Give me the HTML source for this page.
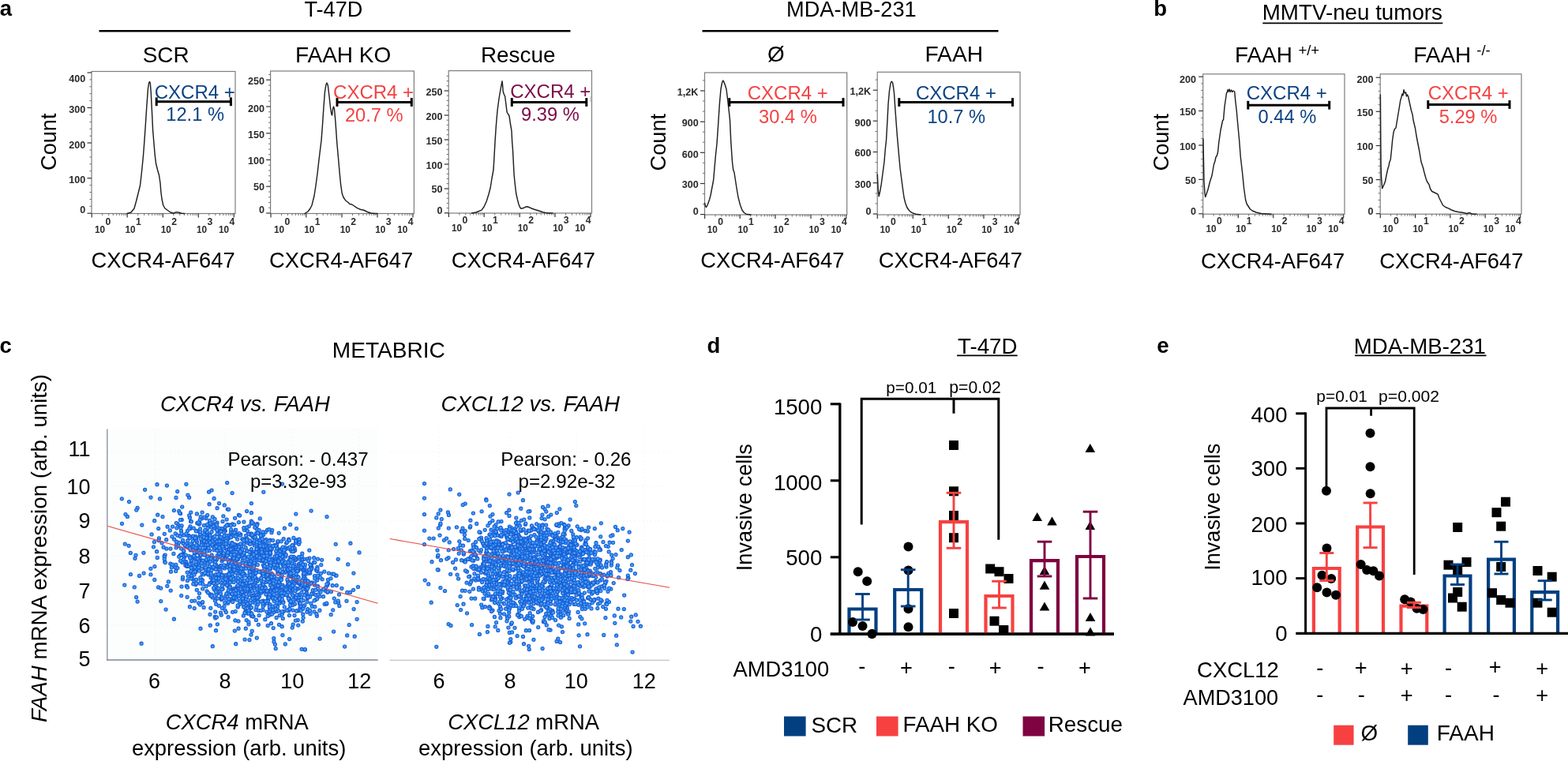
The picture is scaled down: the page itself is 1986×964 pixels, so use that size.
<!DOCTYPE html>
<html lang="en"><head><meta charset="utf-8"><title>Figure</title>
<style>
html,body{margin:0;padding:0;background:#fff;}
body{width:1986px;height:964px;overflow:hidden;}
svg{display:block;font-family:"Liberation Sans", Arial, sans-serif;}
</style></head><body>
<svg width="1986" height="964" viewBox="0 0 1986 964">
<rect width="1986" height="964" fill="#fff"/>
<text x="-0.15" y="20" font-size="27.5" font-weight="bold">a</text>
<text x="385.38" y="20.5" font-size="27.2">T-47D</text>
<line x1="125.5" y1="39.2" x2="722.5" y2="39.2" stroke="#000" stroke-width="2.6"/>
<text x="180.75" y="79.2" font-size="27.9">SCR</text>
<text x="373.95" y="79.2" font-size="28.0">FAAH KO</text>
<text x="608.95" y="79.2" font-size="27.9">Rescue</text>
<text x="996.05" y="21.2" font-size="27.2">MDA-MB-231</text>
<line x1="889.5" y1="39.2" x2="1264.5" y2="39.2" stroke="#000" stroke-width="2.6"/>
<text x="972.0" y="78.3" font-size="27.8">Ø</text>
<text x="1171.45" y="78.2" font-size="28.2">FAAH</text>
<text x="1461.25" y="20" font-size="27.5" font-weight="bold">b</text>
<text x="1598.75" y="25" font-size="27.75">MMTV-neu tumors</text>
<line x1="1599.3" y1="29.3" x2="1827.3" y2="29.3" stroke="#000" stroke-width="1.8"/>
<text x="1563.95" y="78.7" font-size="27.9">FAAH</text>
<text x="1644.42" y="70.3" font-size="18.5">+/+</text>
<text x="1790.35" y="78.7" font-size="27.9">FAAH</text>
<text x="1870.25" y="70.3" font-size="18.5">-/-</text>
<text transform="translate(70.5,216) rotate(-90)" font-size="27.2">Count</text>
<text transform="translate(843.4,216.4) rotate(-90)" font-size="27.2">Count</text>
<text transform="translate(1480.3,216.5) rotate(-90)" font-size="27.2">Count</text>
<rect x="116" y="90.5" width="182" height="180.0" fill="none" stroke="#7d7d7d" stroke-width="1.2"/>
<line x1="110.5" y1="92" x2="116" y2="92" stroke="#333" stroke-width="1.2"/>
<text x="87.3" y="104.1" font-size="12.6" font-weight="bold" fill="#2a2a2a">400</text>
<line x1="110.5" y1="136.5" x2="116" y2="136.5" stroke="#333" stroke-width="1.2"/>
<text x="87.3" y="142.79999999999998" font-size="12.6" font-weight="bold" fill="#2a2a2a">300</text>
<line x1="110.5" y1="181" x2="116" y2="181" stroke="#333" stroke-width="1.2"/>
<text x="87.3" y="187.79999999999998" font-size="12.6" font-weight="bold" fill="#2a2a2a">200</text>
<line x1="110.5" y1="225.7" x2="116" y2="225.7" stroke="#333" stroke-width="1.2"/>
<text x="87.3" y="232.1" font-size="12.6" font-weight="bold" fill="#2a2a2a">100</text>
<line x1="110.5" y1="270.2" x2="116" y2="270.2" stroke="#333" stroke-width="1.2"/>
<text x="101.3" y="270.3" font-size="12.6" font-weight="bold" fill="#2a2a2a">0</text>
<line x1="113.4" y1="261.3" x2="116" y2="261.3" stroke="#666" stroke-width="0.9"/>
<line x1="113.4" y1="252.4" x2="116" y2="252.4" stroke="#666" stroke-width="0.9"/>
<line x1="113.4" y1="243.5" x2="116" y2="243.5" stroke="#666" stroke-width="0.9"/>
<line x1="113.4" y1="234.6" x2="116" y2="234.6" stroke="#666" stroke-width="0.9"/>
<line x1="113.4" y1="216.7" x2="116" y2="216.7" stroke="#666" stroke-width="0.9"/>
<line x1="113.4" y1="207.8" x2="116" y2="207.8" stroke="#666" stroke-width="0.9"/>
<line x1="113.4" y1="198.9" x2="116" y2="198.9" stroke="#666" stroke-width="0.9"/>
<line x1="113.4" y1="190.0" x2="116" y2="190.0" stroke="#666" stroke-width="0.9"/>
<line x1="113.4" y1="172.2" x2="116" y2="172.2" stroke="#666" stroke-width="0.9"/>
<line x1="113.4" y1="163.3" x2="116" y2="163.3" stroke="#666" stroke-width="0.9"/>
<line x1="113.4" y1="154.4" x2="116" y2="154.4" stroke="#666" stroke-width="0.9"/>
<line x1="113.4" y1="145.5" x2="116" y2="145.5" stroke="#666" stroke-width="0.9"/>
<line x1="113.4" y1="127.6" x2="116" y2="127.6" stroke="#666" stroke-width="0.9"/>
<line x1="113.4" y1="118.7" x2="116" y2="118.7" stroke="#666" stroke-width="0.9"/>
<line x1="113.4" y1="109.8" x2="116" y2="109.8" stroke="#666" stroke-width="0.9"/>
<line x1="113.4" y1="100.9" x2="116" y2="100.9" stroke="#666" stroke-width="0.9"/>
<line x1="116.2" y1="270.5" x2="116.2" y2="275.5" stroke="#333" stroke-width="1.2"/>
<line x1="129.7" y1="270.5" x2="129.7" y2="273.1" stroke="#555" stroke-width="0.8"/>
<line x1="137.7" y1="270.5" x2="137.7" y2="273.1" stroke="#555" stroke-width="0.8"/>
<line x1="143.3" y1="270.5" x2="143.3" y2="273.1" stroke="#555" stroke-width="0.8"/>
<line x1="147.7" y1="270.5" x2="147.7" y2="273.1" stroke="#555" stroke-width="0.8"/>
<line x1="151.2" y1="270.5" x2="151.2" y2="273.1" stroke="#555" stroke-width="0.8"/>
<line x1="154.2" y1="270.5" x2="154.2" y2="273.1" stroke="#555" stroke-width="0.8"/>
<line x1="156.8" y1="270.5" x2="156.8" y2="273.1" stroke="#555" stroke-width="0.8"/>
<line x1="159.1" y1="270.5" x2="159.1" y2="273.1" stroke="#555" stroke-width="0.8"/>
<line x1="161.2" y1="270.5" x2="161.2" y2="275.5" stroke="#333" stroke-width="1.2"/>
<line x1="174.7" y1="270.5" x2="174.7" y2="273.1" stroke="#555" stroke-width="0.8"/>
<line x1="182.7" y1="270.5" x2="182.7" y2="273.1" stroke="#555" stroke-width="0.8"/>
<line x1="188.3" y1="270.5" x2="188.3" y2="273.1" stroke="#555" stroke-width="0.8"/>
<line x1="192.7" y1="270.5" x2="192.7" y2="273.1" stroke="#555" stroke-width="0.8"/>
<line x1="196.2" y1="270.5" x2="196.2" y2="273.1" stroke="#555" stroke-width="0.8"/>
<line x1="199.2" y1="270.5" x2="199.2" y2="273.1" stroke="#555" stroke-width="0.8"/>
<line x1="201.8" y1="270.5" x2="201.8" y2="273.1" stroke="#555" stroke-width="0.8"/>
<line x1="204.1" y1="270.5" x2="204.1" y2="273.1" stroke="#555" stroke-width="0.8"/>
<line x1="206.3" y1="270.5" x2="206.3" y2="275.5" stroke="#333" stroke-width="1.2"/>
<line x1="219.8" y1="270.5" x2="219.8" y2="273.1" stroke="#555" stroke-width="0.8"/>
<line x1="227.8" y1="270.5" x2="227.8" y2="273.1" stroke="#555" stroke-width="0.8"/>
<line x1="233.4" y1="270.5" x2="233.4" y2="273.1" stroke="#555" stroke-width="0.8"/>
<line x1="237.8" y1="270.5" x2="237.8" y2="273.1" stroke="#555" stroke-width="0.8"/>
<line x1="241.3" y1="270.5" x2="241.3" y2="273.1" stroke="#555" stroke-width="0.8"/>
<line x1="244.3" y1="270.5" x2="244.3" y2="273.1" stroke="#555" stroke-width="0.8"/>
<line x1="246.9" y1="270.5" x2="246.9" y2="273.1" stroke="#555" stroke-width="0.8"/>
<line x1="249.2" y1="270.5" x2="249.2" y2="273.1" stroke="#555" stroke-width="0.8"/>
<line x1="251.3" y1="270.5" x2="251.3" y2="275.5" stroke="#333" stroke-width="1.2"/>
<line x1="264.8" y1="270.5" x2="264.8" y2="273.1" stroke="#555" stroke-width="0.8"/>
<line x1="272.8" y1="270.5" x2="272.8" y2="273.1" stroke="#555" stroke-width="0.8"/>
<line x1="278.4" y1="270.5" x2="278.4" y2="273.1" stroke="#555" stroke-width="0.8"/>
<line x1="282.8" y1="270.5" x2="282.8" y2="273.1" stroke="#555" stroke-width="0.8"/>
<line x1="286.3" y1="270.5" x2="286.3" y2="273.1" stroke="#555" stroke-width="0.8"/>
<line x1="289.3" y1="270.5" x2="289.3" y2="273.1" stroke="#555" stroke-width="0.8"/>
<line x1="291.9" y1="270.5" x2="291.9" y2="273.1" stroke="#555" stroke-width="0.8"/>
<line x1="294.2" y1="270.5" x2="294.2" y2="273.1" stroke="#555" stroke-width="0.8"/>
<line x1="296.3" y1="270.5" x2="296.3" y2="275.5" stroke="#333" stroke-width="1.2"/>
<text x="120.0" y="295.0" font-size="12.8" font-weight="bold" fill="#2a2a2a" textLength="13.1" lengthAdjust="spacingAndGlyphs">10</text>
<text x="133.5" y="285.1" font-size="12.2" font-weight="bold" fill="#2a2a2a">0</text>
<text x="158.5" y="295.0" font-size="12.8" font-weight="bold" fill="#2a2a2a" textLength="13.1" lengthAdjust="spacingAndGlyphs">10</text>
<text x="172.0" y="285.1" font-size="12.2" font-weight="bold" fill="#2a2a2a">1</text>
<text x="203.7" y="295.0" font-size="12.8" font-weight="bold" fill="#2a2a2a" textLength="13.1" lengthAdjust="spacingAndGlyphs">10</text>
<text x="217.2" y="285.1" font-size="12.2" font-weight="bold" fill="#2a2a2a">2</text>
<text x="248.9" y="295.0" font-size="12.8" font-weight="bold" fill="#2a2a2a" textLength="13.1" lengthAdjust="spacingAndGlyphs">10</text>
<text x="262.4" y="285.1" font-size="12.2" font-weight="bold" fill="#2a2a2a">3</text>
<text x="276.9" y="295.0" font-size="12.8" font-weight="bold" fill="#2a2a2a" textLength="13.1" lengthAdjust="spacingAndGlyphs">10</text>
<text x="290.4" y="285.1" font-size="12.2" font-weight="bold" fill="#2a2a2a">4</text>
<polyline points="161.0,270.5 166.0,269.0 170.0,264.0 172.5,255.0 175.0,245.0 177.5,235.0 179.0,222.0 180.0,212.5 181.5,197.0 182.8,180.0 184.2,160.0 185.8,135.0 187.4,113.0 188.6,105.0 189.4,103.6 190.3,105.0 191.3,118.0 192.5,142.0 193.6,165.0 195.0,182.0 196.2,196.0 197.5,207.0 199.5,215.0 201.5,222.0 203.0,232.0 203.8,242.5 205.0,252.0 206.7,260.0 209.0,264.0 212.5,266.5 216.0,269.0 220.0,270.2 222.0,269.0 224.0,268.6 227.0,269.2 230.0,270.3 233.7,270.5" fill="none" stroke="#202020" stroke-width="1.45" stroke-linejoin="round" stroke-linecap="round"/>
<line x1="198.2" y1="128.8" x2="292.4" y2="128.8" stroke="#000" stroke-width="3.1"/>
<line x1="198.2" y1="123.4" x2="198.2" y2="134.20000000000002" stroke="#000" stroke-width="3"/>
<line x1="292.4" y1="123.4" x2="292.4" y2="134.20000000000002" stroke="#000" stroke-width="3"/>
<text x="195.75" y="124.6" font-size="24" fill="#0b4283">CXCR4 +</text>
<text x="210.25" y="153.2" font-size="23.7" fill="#0b4283">12.1 %</text>
<text x="115.62" y="339.2" font-size="27.3">CXCR4-AF647</text>
<rect x="342.6" y="90" width="181.79999999999995" height="180.5" fill="none" stroke="#7d7d7d" stroke-width="1.2"/>
<line x1="337.1" y1="101.2" x2="342.6" y2="101.2" stroke="#333" stroke-width="1.2"/>
<text x="313.9" y="107.1" font-size="12.6" font-weight="bold" fill="#2a2a2a">250</text>
<line x1="337.1" y1="135" x2="342.6" y2="135" stroke="#333" stroke-width="1.2"/>
<text x="313.9" y="141.6" font-size="12.6" font-weight="bold" fill="#2a2a2a">200</text>
<line x1="337.1" y1="168.8" x2="342.6" y2="168.8" stroke="#333" stroke-width="1.2"/>
<text x="313.9" y="175.29999999999998" font-size="12.6" font-weight="bold" fill="#2a2a2a">150</text>
<line x1="337.1" y1="202.5" x2="342.6" y2="202.5" stroke="#333" stroke-width="1.2"/>
<text x="313.9" y="208.29999999999998" font-size="12.6" font-weight="bold" fill="#2a2a2a">100</text>
<line x1="337.1" y1="236.2" x2="342.6" y2="236.2" stroke="#333" stroke-width="1.2"/>
<text x="320.9" y="241.1" font-size="12.6" font-weight="bold" fill="#2a2a2a">50</text>
<line x1="337.1" y1="270" x2="342.6" y2="270" stroke="#333" stroke-width="1.2"/>
<text x="327.9" y="270.3" font-size="12.6" font-weight="bold" fill="#2a2a2a">0</text>
<line x1="340.0" y1="263.2" x2="342.6" y2="263.2" stroke="#666" stroke-width="0.9"/>
<line x1="340.0" y1="256.5" x2="342.6" y2="256.5" stroke="#666" stroke-width="0.9"/>
<line x1="340.0" y1="249.7" x2="342.6" y2="249.7" stroke="#666" stroke-width="0.9"/>
<line x1="340.0" y1="243.0" x2="342.6" y2="243.0" stroke="#666" stroke-width="0.9"/>
<line x1="340.0" y1="229.5" x2="342.6" y2="229.5" stroke="#666" stroke-width="0.9"/>
<line x1="340.0" y1="222.7" x2="342.6" y2="222.7" stroke="#666" stroke-width="0.9"/>
<line x1="340.0" y1="216.0" x2="342.6" y2="216.0" stroke="#666" stroke-width="0.9"/>
<line x1="340.0" y1="209.2" x2="342.6" y2="209.2" stroke="#666" stroke-width="0.9"/>
<line x1="340.0" y1="195.7" x2="342.6" y2="195.7" stroke="#666" stroke-width="0.9"/>
<line x1="340.0" y1="189.0" x2="342.6" y2="189.0" stroke="#666" stroke-width="0.9"/>
<line x1="340.0" y1="182.2" x2="342.6" y2="182.2" stroke="#666" stroke-width="0.9"/>
<line x1="340.0" y1="175.5" x2="342.6" y2="175.5" stroke="#666" stroke-width="0.9"/>
<line x1="340.0" y1="162.0" x2="342.6" y2="162.0" stroke="#666" stroke-width="0.9"/>
<line x1="340.0" y1="155.2" x2="342.6" y2="155.2" stroke="#666" stroke-width="0.9"/>
<line x1="340.0" y1="148.5" x2="342.6" y2="148.5" stroke="#666" stroke-width="0.9"/>
<line x1="340.0" y1="141.7" x2="342.6" y2="141.7" stroke="#666" stroke-width="0.9"/>
<line x1="340.0" y1="128.2" x2="342.6" y2="128.2" stroke="#666" stroke-width="0.9"/>
<line x1="340.0" y1="121.5" x2="342.6" y2="121.5" stroke="#666" stroke-width="0.9"/>
<line x1="340.0" y1="114.7" x2="342.6" y2="114.7" stroke="#666" stroke-width="0.9"/>
<line x1="340.0" y1="108.0" x2="342.6" y2="108.0" stroke="#666" stroke-width="0.9"/>
<line x1="340.0" y1="94.4" x2="342.6" y2="94.4" stroke="#666" stroke-width="0.9"/>
<line x1="343" y1="270.5" x2="343" y2="275.5" stroke="#333" stroke-width="1.2"/>
<line x1="356.5" y1="270.5" x2="356.5" y2="273.1" stroke="#555" stroke-width="0.8"/>
<line x1="364.4" y1="270.5" x2="364.4" y2="273.1" stroke="#555" stroke-width="0.8"/>
<line x1="370.0" y1="270.5" x2="370.0" y2="273.1" stroke="#555" stroke-width="0.8"/>
<line x1="374.3" y1="270.5" x2="374.3" y2="273.1" stroke="#555" stroke-width="0.8"/>
<line x1="377.9" y1="270.5" x2="377.9" y2="273.1" stroke="#555" stroke-width="0.8"/>
<line x1="380.9" y1="270.5" x2="380.9" y2="273.1" stroke="#555" stroke-width="0.8"/>
<line x1="383.5" y1="270.5" x2="383.5" y2="273.1" stroke="#555" stroke-width="0.8"/>
<line x1="385.8" y1="270.5" x2="385.8" y2="273.1" stroke="#555" stroke-width="0.8"/>
<line x1="387.8" y1="270.5" x2="387.8" y2="275.5" stroke="#333" stroke-width="1.2"/>
<line x1="401.3" y1="270.5" x2="401.3" y2="273.1" stroke="#555" stroke-width="0.8"/>
<line x1="409.2" y1="270.5" x2="409.2" y2="273.1" stroke="#555" stroke-width="0.8"/>
<line x1="414.8" y1="270.5" x2="414.8" y2="273.1" stroke="#555" stroke-width="0.8"/>
<line x1="419.1" y1="270.5" x2="419.1" y2="273.1" stroke="#555" stroke-width="0.8"/>
<line x1="422.7" y1="270.5" x2="422.7" y2="273.1" stroke="#555" stroke-width="0.8"/>
<line x1="425.7" y1="270.5" x2="425.7" y2="273.1" stroke="#555" stroke-width="0.8"/>
<line x1="428.3" y1="270.5" x2="428.3" y2="273.1" stroke="#555" stroke-width="0.8"/>
<line x1="430.6" y1="270.5" x2="430.6" y2="273.1" stroke="#555" stroke-width="0.8"/>
<line x1="433" y1="270.5" x2="433" y2="275.5" stroke="#333" stroke-width="1.2"/>
<line x1="446.5" y1="270.5" x2="446.5" y2="273.1" stroke="#555" stroke-width="0.8"/>
<line x1="454.4" y1="270.5" x2="454.4" y2="273.1" stroke="#555" stroke-width="0.8"/>
<line x1="460.0" y1="270.5" x2="460.0" y2="273.1" stroke="#555" stroke-width="0.8"/>
<line x1="464.3" y1="270.5" x2="464.3" y2="273.1" stroke="#555" stroke-width="0.8"/>
<line x1="467.9" y1="270.5" x2="467.9" y2="273.1" stroke="#555" stroke-width="0.8"/>
<line x1="470.9" y1="270.5" x2="470.9" y2="273.1" stroke="#555" stroke-width="0.8"/>
<line x1="473.5" y1="270.5" x2="473.5" y2="273.1" stroke="#555" stroke-width="0.8"/>
<line x1="475.8" y1="270.5" x2="475.8" y2="273.1" stroke="#555" stroke-width="0.8"/>
<line x1="478" y1="270.5" x2="478" y2="275.5" stroke="#333" stroke-width="1.2"/>
<line x1="491.5" y1="270.5" x2="491.5" y2="273.1" stroke="#555" stroke-width="0.8"/>
<line x1="499.4" y1="270.5" x2="499.4" y2="273.1" stroke="#555" stroke-width="0.8"/>
<line x1="505.0" y1="270.5" x2="505.0" y2="273.1" stroke="#555" stroke-width="0.8"/>
<line x1="509.3" y1="270.5" x2="509.3" y2="273.1" stroke="#555" stroke-width="0.8"/>
<line x1="512.9" y1="270.5" x2="512.9" y2="273.1" stroke="#555" stroke-width="0.8"/>
<line x1="515.9" y1="270.5" x2="515.9" y2="273.1" stroke="#555" stroke-width="0.8"/>
<line x1="518.5" y1="270.5" x2="518.5" y2="273.1" stroke="#555" stroke-width="0.8"/>
<line x1="520.8" y1="270.5" x2="520.8" y2="273.1" stroke="#555" stroke-width="0.8"/>
<line x1="523" y1="270.5" x2="523" y2="275.5" stroke="#333" stroke-width="1.2"/>
<text x="347.0" y="295.0" font-size="12.8" font-weight="bold" fill="#2a2a2a" textLength="13.1" lengthAdjust="spacingAndGlyphs">10</text>
<text x="360.5" y="285.1" font-size="12.2" font-weight="bold" fill="#2a2a2a">0</text>
<text x="385.2" y="295.0" font-size="12.8" font-weight="bold" fill="#2a2a2a" textLength="13.1" lengthAdjust="spacingAndGlyphs">10</text>
<text x="398.7" y="285.1" font-size="12.2" font-weight="bold" fill="#2a2a2a">1</text>
<text x="430.7" y="295.0" font-size="12.8" font-weight="bold" fill="#2a2a2a" textLength="13.1" lengthAdjust="spacingAndGlyphs">10</text>
<text x="444.2" y="285.1" font-size="12.2" font-weight="bold" fill="#2a2a2a">2</text>
<text x="475.2" y="295.0" font-size="12.8" font-weight="bold" fill="#2a2a2a" textLength="13.1" lengthAdjust="spacingAndGlyphs">10</text>
<text x="488.7" y="285.1" font-size="12.2" font-weight="bold" fill="#2a2a2a">3</text>
<text x="503.2" y="295.0" font-size="12.8" font-weight="bold" fill="#2a2a2a" textLength="13.1" lengthAdjust="spacingAndGlyphs">10</text>
<text x="516.7" y="285.1" font-size="12.2" font-weight="bold" fill="#2a2a2a">4</text>
<polyline points="386.0,270.5 390.0,268.0 393.0,264.0 395.0,260.0 398.0,248.0 400.0,235.0 402.0,220.0 403.7,205.0 405.5,190.0 407.0,178.0 408.5,158.0 410.0,135.0 411.5,116.0 413.0,107.0 414.0,105.0 415.3,108.0 417.0,122.0 418.5,136.0 419.8,144.5 420.6,146.0 421.5,138.5 422.5,135.0 423.5,138.0 425.0,155.0 426.7,180.0 428.5,200.0 430.0,217.5 431.5,233.0 433.2,245.0 435.0,250.0 437.5,253.7 441.0,256.5 443.0,258.5 445.0,258.7 448.0,260.5 452.5,263.7 457.0,265.5 460.0,266.0 462.5,267.0 466.0,268.8 470.0,270.0 475.0,270.5 478.0,270.5" fill="none" stroke="#202020" stroke-width="1.45" stroke-linejoin="round" stroke-linecap="round"/>
<line x1="427" y1="129.5" x2="521.3" y2="129.5" stroke="#000" stroke-width="3.1"/>
<line x1="427" y1="124.1" x2="427" y2="134.9" stroke="#000" stroke-width="3"/>
<line x1="521.3" y1="124.1" x2="521.3" y2="134.9" stroke="#000" stroke-width="3"/>
<text x="422.05" y="125.2" font-size="24" fill="#f44343">CXCR4 +</text>
<text x="436.88" y="154.2" font-size="23.7" fill="#f44343">20.7 %</text>
<text x="341.12" y="339.2" font-size="27.3">CXCR4-AF647</text>
<rect x="568.2" y="89.6" width="181.29999999999995" height="180.4" fill="none" stroke="#7d7d7d" stroke-width="1.2"/>
<line x1="562.7" y1="115" x2="568.2" y2="115" stroke="#333" stroke-width="1.2"/>
<text x="539.5" y="121.3" font-size="12.6" font-weight="bold" fill="#2a2a2a">250</text>
<line x1="562.7" y1="146" x2="568.2" y2="146" stroke="#333" stroke-width="1.2"/>
<text x="539.5" y="152.1" font-size="12.6" font-weight="bold" fill="#2a2a2a">200</text>
<line x1="562.7" y1="177" x2="568.2" y2="177" stroke="#333" stroke-width="1.2"/>
<text x="539.5" y="183.29999999999998" font-size="12.6" font-weight="bold" fill="#2a2a2a">150</text>
<line x1="562.7" y1="208" x2="568.2" y2="208" stroke="#333" stroke-width="1.2"/>
<text x="539.5" y="213.79999999999998" font-size="12.6" font-weight="bold" fill="#2a2a2a">100</text>
<line x1="562.7" y1="239" x2="568.2" y2="239" stroke="#333" stroke-width="1.2"/>
<text x="546.5" y="244.2" font-size="12.6" font-weight="bold" fill="#2a2a2a">50</text>
<line x1="562.7" y1="269.8" x2="568.2" y2="269.8" stroke="#333" stroke-width="1.2"/>
<text x="553.5" y="270.8" font-size="12.6" font-weight="bold" fill="#2a2a2a">0</text>
<line x1="565.6" y1="263.6" x2="568.2" y2="263.6" stroke="#666" stroke-width="0.9"/>
<line x1="565.6" y1="257.4" x2="568.2" y2="257.4" stroke="#666" stroke-width="0.9"/>
<line x1="565.6" y1="251.2" x2="568.2" y2="251.2" stroke="#666" stroke-width="0.9"/>
<line x1="565.6" y1="245.0" x2="568.2" y2="245.0" stroke="#666" stroke-width="0.9"/>
<line x1="565.6" y1="232.6" x2="568.2" y2="232.6" stroke="#666" stroke-width="0.9"/>
<line x1="565.6" y1="226.5" x2="568.2" y2="226.5" stroke="#666" stroke-width="0.9"/>
<line x1="565.6" y1="220.3" x2="568.2" y2="220.3" stroke="#666" stroke-width="0.9"/>
<line x1="565.6" y1="214.1" x2="568.2" y2="214.1" stroke="#666" stroke-width="0.9"/>
<line x1="565.6" y1="201.7" x2="568.2" y2="201.7" stroke="#666" stroke-width="0.9"/>
<line x1="565.6" y1="195.5" x2="568.2" y2="195.5" stroke="#666" stroke-width="0.9"/>
<line x1="565.6" y1="189.3" x2="568.2" y2="189.3" stroke="#666" stroke-width="0.9"/>
<line x1="565.6" y1="183.1" x2="568.2" y2="183.1" stroke="#666" stroke-width="0.9"/>
<line x1="565.6" y1="170.7" x2="568.2" y2="170.7" stroke="#666" stroke-width="0.9"/>
<line x1="565.6" y1="164.5" x2="568.2" y2="164.5" stroke="#666" stroke-width="0.9"/>
<line x1="565.6" y1="158.3" x2="568.2" y2="158.3" stroke="#666" stroke-width="0.9"/>
<line x1="565.6" y1="152.2" x2="568.2" y2="152.2" stroke="#666" stroke-width="0.9"/>
<line x1="565.6" y1="139.8" x2="568.2" y2="139.8" stroke="#666" stroke-width="0.9"/>
<line x1="565.6" y1="133.6" x2="568.2" y2="133.6" stroke="#666" stroke-width="0.9"/>
<line x1="565.6" y1="127.4" x2="568.2" y2="127.4" stroke="#666" stroke-width="0.9"/>
<line x1="565.6" y1="121.2" x2="568.2" y2="121.2" stroke="#666" stroke-width="0.9"/>
<line x1="565.6" y1="108.8" x2="568.2" y2="108.8" stroke="#666" stroke-width="0.9"/>
<line x1="565.6" y1="102.6" x2="568.2" y2="102.6" stroke="#666" stroke-width="0.9"/>
<line x1="565.6" y1="96.4" x2="568.2" y2="96.4" stroke="#666" stroke-width="0.9"/>
<line x1="568.4" y1="270" x2="568.4" y2="275" stroke="#333" stroke-width="1.2"/>
<line x1="581.9" y1="270" x2="581.9" y2="272.6" stroke="#555" stroke-width="0.8"/>
<line x1="589.8" y1="270" x2="589.8" y2="272.6" stroke="#555" stroke-width="0.8"/>
<line x1="595.4" y1="270" x2="595.4" y2="272.6" stroke="#555" stroke-width="0.8"/>
<line x1="599.7" y1="270" x2="599.7" y2="272.6" stroke="#555" stroke-width="0.8"/>
<line x1="603.3" y1="270" x2="603.3" y2="272.6" stroke="#555" stroke-width="0.8"/>
<line x1="606.3" y1="270" x2="606.3" y2="272.6" stroke="#555" stroke-width="0.8"/>
<line x1="608.9" y1="270" x2="608.9" y2="272.6" stroke="#555" stroke-width="0.8"/>
<line x1="611.2" y1="270" x2="611.2" y2="272.6" stroke="#555" stroke-width="0.8"/>
<line x1="613.2" y1="270" x2="613.2" y2="275" stroke="#333" stroke-width="1.2"/>
<line x1="626.7" y1="270" x2="626.7" y2="272.6" stroke="#555" stroke-width="0.8"/>
<line x1="634.6" y1="270" x2="634.6" y2="272.6" stroke="#555" stroke-width="0.8"/>
<line x1="640.2" y1="270" x2="640.2" y2="272.6" stroke="#555" stroke-width="0.8"/>
<line x1="644.5" y1="270" x2="644.5" y2="272.6" stroke="#555" stroke-width="0.8"/>
<line x1="648.1" y1="270" x2="648.1" y2="272.6" stroke="#555" stroke-width="0.8"/>
<line x1="651.1" y1="270" x2="651.1" y2="272.6" stroke="#555" stroke-width="0.8"/>
<line x1="653.7" y1="270" x2="653.7" y2="272.6" stroke="#555" stroke-width="0.8"/>
<line x1="656.0" y1="270" x2="656.0" y2="272.6" stroke="#555" stroke-width="0.8"/>
<line x1="658.2" y1="270" x2="658.2" y2="275" stroke="#333" stroke-width="1.2"/>
<line x1="671.7" y1="270" x2="671.7" y2="272.6" stroke="#555" stroke-width="0.8"/>
<line x1="679.6" y1="270" x2="679.6" y2="272.6" stroke="#555" stroke-width="0.8"/>
<line x1="685.2" y1="270" x2="685.2" y2="272.6" stroke="#555" stroke-width="0.8"/>
<line x1="689.5" y1="270" x2="689.5" y2="272.6" stroke="#555" stroke-width="0.8"/>
<line x1="693.1" y1="270" x2="693.1" y2="272.6" stroke="#555" stroke-width="0.8"/>
<line x1="696.1" y1="270" x2="696.1" y2="272.6" stroke="#555" stroke-width="0.8"/>
<line x1="698.7" y1="270" x2="698.7" y2="272.6" stroke="#555" stroke-width="0.8"/>
<line x1="701.0" y1="270" x2="701.0" y2="272.6" stroke="#555" stroke-width="0.8"/>
<line x1="703" y1="270" x2="703" y2="275" stroke="#333" stroke-width="1.2"/>
<line x1="716.5" y1="270" x2="716.5" y2="272.6" stroke="#555" stroke-width="0.8"/>
<line x1="724.4" y1="270" x2="724.4" y2="272.6" stroke="#555" stroke-width="0.8"/>
<line x1="730.0" y1="270" x2="730.0" y2="272.6" stroke="#555" stroke-width="0.8"/>
<line x1="734.3" y1="270" x2="734.3" y2="272.6" stroke="#555" stroke-width="0.8"/>
<line x1="737.9" y1="270" x2="737.9" y2="272.6" stroke="#555" stroke-width="0.8"/>
<line x1="740.9" y1="270" x2="740.9" y2="272.6" stroke="#555" stroke-width="0.8"/>
<line x1="743.5" y1="270" x2="743.5" y2="272.6" stroke="#555" stroke-width="0.8"/>
<line x1="745.8" y1="270" x2="745.8" y2="272.6" stroke="#555" stroke-width="0.8"/>
<line x1="748" y1="270" x2="748" y2="275" stroke="#333" stroke-width="1.2"/>
<text x="571.9" y="293.3" font-size="12.8" font-weight="bold" fill="#2a2a2a" textLength="13.1" lengthAdjust="spacingAndGlyphs">10</text>
<text x="585.4" y="283.4" font-size="12.2" font-weight="bold" fill="#2a2a2a">0</text>
<text x="610.5" y="293.3" font-size="12.8" font-weight="bold" fill="#2a2a2a" textLength="13.1" lengthAdjust="spacingAndGlyphs">10</text>
<text x="624.0" y="283.4" font-size="12.2" font-weight="bold" fill="#2a2a2a">1</text>
<text x="655.7" y="293.3" font-size="12.8" font-weight="bold" fill="#2a2a2a" textLength="13.1" lengthAdjust="spacingAndGlyphs">10</text>
<text x="669.2" y="283.4" font-size="12.2" font-weight="bold" fill="#2a2a2a">2</text>
<text x="700.2" y="293.3" font-size="12.8" font-weight="bold" fill="#2a2a2a" textLength="13.1" lengthAdjust="spacingAndGlyphs">10</text>
<text x="713.7" y="283.4" font-size="12.2" font-weight="bold" fill="#2a2a2a">3</text>
<text x="728.2" y="293.3" font-size="12.8" font-weight="bold" fill="#2a2a2a" textLength="13.1" lengthAdjust="spacingAndGlyphs">10</text>
<text x="741.7" y="283.4" font-size="12.2" font-weight="bold" fill="#2a2a2a">4</text>
<polyline points="597.5,270.0 603.0,269.0 610.0,266.2 613.0,262.0 616.2,255.0 619.0,246.0 621.2,237.5 623.0,226.0 625.0,215.0 626.0,198.0 627.0,180.0 628.3,160.0 630.0,140.0 632.0,125.0 633.7,115.0 635.0,108.0 636.0,102.8 636.6,108.0 637.2,116.0 638.4,119.5 639.6,122.0 640.4,128.0 641.0,133.0 641.6,138.0 642.2,142.2 643.5,144.5 644.7,146.0 645.5,150.0 646.2,155.5 647.2,161.0 648.0,166.0 648.7,180.0 649.5,190.0 650.5,210.0 651.2,222.5 652.5,235.0 653.7,245.0 655.5,253.0 657.0,258.7 658.5,262.5 660.0,264.2 662.0,263.8 663.7,263.2 665.5,262.2 667.5,261.7 670.0,262.5 672.5,263.7 676.0,265.0 680.0,266.2 684.0,267.5 687.5,268.7 691.0,269.5 695.0,270.0 700.0,270.0" fill="none" stroke="#202020" stroke-width="1.45" stroke-linejoin="round" stroke-linecap="round"/>
<line x1="648.3" y1="129.5" x2="742.8" y2="129.5" stroke="#000" stroke-width="3.1"/>
<line x1="648.3" y1="124.1" x2="648.3" y2="134.9" stroke="#000" stroke-width="3"/>
<line x1="742.8" y1="124.1" x2="742.8" y2="134.9" stroke="#000" stroke-width="3"/>
<text x="646.25" y="124" font-size="24" fill="#7c0b47">CXCR4 +</text>
<text x="660.08" y="152.8" font-size="23.7" fill="#7c0b47">9.39 %</text>
<text x="571.83" y="339.2" font-size="27.3">CXCR4-AF647</text>
<rect x="892.5" y="92" width="180.20000000000005" height="180" fill="none" stroke="#7d7d7d" stroke-width="1.2"/>
<line x1="887.0" y1="115" x2="892.5" y2="115" stroke="#333" stroke-width="1.2"/>
<text x="857.8" y="121.3" font-size="12.6" font-weight="bold" fill="#2a2a2a">1,2K</text>
<line x1="887.0" y1="154.2" x2="892.5" y2="154.2" stroke="#333" stroke-width="1.2"/>
<text x="863.8" y="160.1" font-size="12.6" font-weight="bold" fill="#2a2a2a">900</text>
<line x1="887.0" y1="193.3" x2="892.5" y2="193.3" stroke="#333" stroke-width="1.2"/>
<text x="863.8" y="199.6" font-size="12.6" font-weight="bold" fill="#2a2a2a">600</text>
<line x1="887.0" y1="232.5" x2="892.5" y2="232.5" stroke="#333" stroke-width="1.2"/>
<text x="863.8" y="238.29999999999998" font-size="12.6" font-weight="bold" fill="#2a2a2a">300</text>
<line x1="887.0" y1="271.6" x2="892.5" y2="271.6" stroke="#333" stroke-width="1.2"/>
<text x="877.8" y="272.1" font-size="12.6" font-weight="bold" fill="#2a2a2a">0</text>
<line x1="889.9" y1="258.6" x2="892.5" y2="258.6" stroke="#666" stroke-width="0.9"/>
<line x1="889.9" y1="245.5" x2="892.5" y2="245.5" stroke="#666" stroke-width="0.9"/>
<line x1="889.9" y1="219.4" x2="892.5" y2="219.4" stroke="#666" stroke-width="0.9"/>
<line x1="889.9" y1="206.3" x2="892.5" y2="206.3" stroke="#666" stroke-width="0.9"/>
<line x1="889.9" y1="180.2" x2="892.5" y2="180.2" stroke="#666" stroke-width="0.9"/>
<line x1="889.9" y1="167.2" x2="892.5" y2="167.2" stroke="#666" stroke-width="0.9"/>
<line x1="889.9" y1="141.1" x2="892.5" y2="141.1" stroke="#666" stroke-width="0.9"/>
<line x1="889.9" y1="128.0" x2="892.5" y2="128.0" stroke="#666" stroke-width="0.9"/>
<line x1="889.9" y1="101.9" x2="892.5" y2="101.9" stroke="#666" stroke-width="0.9"/>
<line x1="892.6" y1="272" x2="892.6" y2="277" stroke="#333" stroke-width="1.2"/>
<line x1="906.0" y1="272" x2="906.0" y2="274.6" stroke="#555" stroke-width="0.8"/>
<line x1="913.9" y1="272" x2="913.9" y2="274.6" stroke="#555" stroke-width="0.8"/>
<line x1="919.5" y1="272" x2="919.5" y2="274.6" stroke="#555" stroke-width="0.8"/>
<line x1="923.8" y1="272" x2="923.8" y2="274.6" stroke="#555" stroke-width="0.8"/>
<line x1="927.3" y1="272" x2="927.3" y2="274.6" stroke="#555" stroke-width="0.8"/>
<line x1="930.3" y1="272" x2="930.3" y2="274.6" stroke="#555" stroke-width="0.8"/>
<line x1="932.9" y1="272" x2="932.9" y2="274.6" stroke="#555" stroke-width="0.8"/>
<line x1="935.2" y1="272" x2="935.2" y2="274.6" stroke="#555" stroke-width="0.8"/>
<line x1="937.2" y1="272" x2="937.2" y2="277" stroke="#333" stroke-width="1.2"/>
<line x1="950.6" y1="272" x2="950.6" y2="274.6" stroke="#555" stroke-width="0.8"/>
<line x1="958.5" y1="272" x2="958.5" y2="274.6" stroke="#555" stroke-width="0.8"/>
<line x1="964.1" y1="272" x2="964.1" y2="274.6" stroke="#555" stroke-width="0.8"/>
<line x1="968.4" y1="272" x2="968.4" y2="274.6" stroke="#555" stroke-width="0.8"/>
<line x1="971.9" y1="272" x2="971.9" y2="274.6" stroke="#555" stroke-width="0.8"/>
<line x1="974.9" y1="272" x2="974.9" y2="274.6" stroke="#555" stroke-width="0.8"/>
<line x1="977.5" y1="272" x2="977.5" y2="274.6" stroke="#555" stroke-width="0.8"/>
<line x1="979.8" y1="272" x2="979.8" y2="274.6" stroke="#555" stroke-width="0.8"/>
<line x1="982" y1="272" x2="982" y2="277" stroke="#333" stroke-width="1.2"/>
<line x1="995.4" y1="272" x2="995.4" y2="274.6" stroke="#555" stroke-width="0.8"/>
<line x1="1003.3" y1="272" x2="1003.3" y2="274.6" stroke="#555" stroke-width="0.8"/>
<line x1="1008.9" y1="272" x2="1008.9" y2="274.6" stroke="#555" stroke-width="0.8"/>
<line x1="1013.2" y1="272" x2="1013.2" y2="274.6" stroke="#555" stroke-width="0.8"/>
<line x1="1016.7" y1="272" x2="1016.7" y2="274.6" stroke="#555" stroke-width="0.8"/>
<line x1="1019.7" y1="272" x2="1019.7" y2="274.6" stroke="#555" stroke-width="0.8"/>
<line x1="1022.3" y1="272" x2="1022.3" y2="274.6" stroke="#555" stroke-width="0.8"/>
<line x1="1024.6" y1="272" x2="1024.6" y2="274.6" stroke="#555" stroke-width="0.8"/>
<line x1="1027" y1="272" x2="1027" y2="277" stroke="#333" stroke-width="1.2"/>
<line x1="1040.4" y1="272" x2="1040.4" y2="274.6" stroke="#555" stroke-width="0.8"/>
<line x1="1048.3" y1="272" x2="1048.3" y2="274.6" stroke="#555" stroke-width="0.8"/>
<line x1="1053.9" y1="272" x2="1053.9" y2="274.6" stroke="#555" stroke-width="0.8"/>
<line x1="1058.2" y1="272" x2="1058.2" y2="274.6" stroke="#555" stroke-width="0.8"/>
<line x1="1061.7" y1="272" x2="1061.7" y2="274.6" stroke="#555" stroke-width="0.8"/>
<line x1="1064.7" y1="272" x2="1064.7" y2="274.6" stroke="#555" stroke-width="0.8"/>
<line x1="1067.3" y1="272" x2="1067.3" y2="274.6" stroke="#555" stroke-width="0.8"/>
<line x1="1069.6" y1="272" x2="1069.6" y2="274.6" stroke="#555" stroke-width="0.8"/>
<line x1="1071.8" y1="272" x2="1071.8" y2="277" stroke="#333" stroke-width="1.2"/>
<text x="895.7" y="294.6" font-size="12.8" font-weight="bold" fill="#2a2a2a" textLength="13.1" lengthAdjust="spacingAndGlyphs">10</text>
<text x="909.2" y="284.7" font-size="12.2" font-weight="bold" fill="#2a2a2a">0</text>
<text x="934.4" y="294.6" font-size="12.8" font-weight="bold" fill="#2a2a2a" textLength="13.1" lengthAdjust="spacingAndGlyphs">10</text>
<text x="947.9" y="284.7" font-size="12.2" font-weight="bold" fill="#2a2a2a">1</text>
<text x="979.4" y="294.6" font-size="12.8" font-weight="bold" fill="#2a2a2a" textLength="13.1" lengthAdjust="spacingAndGlyphs">10</text>
<text x="992.9" y="284.7" font-size="12.2" font-weight="bold" fill="#2a2a2a">2</text>
<text x="1024.4" y="294.6" font-size="12.8" font-weight="bold" fill="#2a2a2a" textLength="13.1" lengthAdjust="spacingAndGlyphs">10</text>
<text x="1037.9" y="284.7" font-size="12.2" font-weight="bold" fill="#2a2a2a">3</text>
<text x="1052.5" y="294.6" font-size="12.8" font-weight="bold" fill="#2a2a2a" textLength="13.1" lengthAdjust="spacingAndGlyphs">10</text>
<text x="1066.0" y="284.7" font-size="12.2" font-weight="bold" fill="#2a2a2a">4</text>
<polyline points="892.6,257.5 893.5,261.0 894.5,262.5 896.0,260.0 898.7,252.5 900.0,247.5 902.0,237.0 903.7,228.0 905.0,212.5 906.5,196.0 908.0,182.0 909.2,165.0 910.3,148.0 911.5,130.0 913.0,113.0 914.5,105.0 915.7,102.0 917.0,104.0 918.5,108.0 920.0,113.0 921.5,125.0 923.0,138.0 924.5,152.0 925.8,180.0 927.5,205.0 928.7,215.0 930.0,218.5 931.2,226.5 933.3,240.0 935.0,250.0 937.5,259.5 940.0,266.2 942.5,269.5 945.0,271.2 951.0,272.0" fill="none" stroke="#202020" stroke-width="1.45" stroke-linejoin="round" stroke-linecap="round"/>
<line x1="923.8" y1="129.5" x2="1068" y2="129.5" stroke="#000" stroke-width="3.1"/>
<line x1="923.8" y1="124.1" x2="923.8" y2="134.9" stroke="#000" stroke-width="3"/>
<line x1="1068" y1="124.1" x2="1068" y2="134.9" stroke="#000" stroke-width="3"/>
<text x="946.75" y="126.4" font-size="24" fill="#f44343">CXCR4 +</text>
<text x="961.12" y="155.7" font-size="23.7" fill="#f44343">30.4 %</text>
<text x="887.32" y="339.2" font-size="27.3">CXCR4-AF647</text>
<rect x="1111.2" y="91.3" width="180.79999999999995" height="180.7" fill="none" stroke="#7d7d7d" stroke-width="1.2"/>
<line x1="1105.7" y1="114.2" x2="1111.2" y2="114.2" stroke="#333" stroke-width="1.2"/>
<text x="1076.5" y="120.1" font-size="12.6" font-weight="bold" fill="#2a2a2a">1,2K</text>
<line x1="1105.7" y1="153.2" x2="1111.2" y2="153.2" stroke="#333" stroke-width="1.2"/>
<text x="1082.5" y="159.6" font-size="12.6" font-weight="bold" fill="#2a2a2a">900</text>
<line x1="1105.7" y1="192.5" x2="1111.2" y2="192.5" stroke="#333" stroke-width="1.2"/>
<text x="1082.5" y="198.29999999999998" font-size="12.6" font-weight="bold" fill="#2a2a2a">600</text>
<line x1="1105.7" y1="231.7" x2="1111.2" y2="231.7" stroke="#333" stroke-width="1.2"/>
<text x="1082.5" y="237.6" font-size="12.6" font-weight="bold" fill="#2a2a2a">300</text>
<line x1="1105.7" y1="271" x2="1111.2" y2="271" stroke="#333" stroke-width="1.2"/>
<text x="1096.5" y="272.1" font-size="12.6" font-weight="bold" fill="#2a2a2a">0</text>
<line x1="1108.6000000000001" y1="257.9" x2="1111.2" y2="257.9" stroke="#666" stroke-width="0.9"/>
<line x1="1108.6000000000001" y1="244.9" x2="1111.2" y2="244.9" stroke="#666" stroke-width="0.9"/>
<line x1="1108.6000000000001" y1="218.7" x2="1111.2" y2="218.7" stroke="#666" stroke-width="0.9"/>
<line x1="1108.6000000000001" y1="205.7" x2="1111.2" y2="205.7" stroke="#666" stroke-width="0.9"/>
<line x1="1108.6000000000001" y1="179.5" x2="1111.2" y2="179.5" stroke="#666" stroke-width="0.9"/>
<line x1="1108.6000000000001" y1="166.5" x2="1111.2" y2="166.5" stroke="#666" stroke-width="0.9"/>
<line x1="1108.6000000000001" y1="140.3" x2="1111.2" y2="140.3" stroke="#666" stroke-width="0.9"/>
<line x1="1108.6000000000001" y1="127.3" x2="1111.2" y2="127.3" stroke="#666" stroke-width="0.9"/>
<line x1="1108.6000000000001" y1="101.1" x2="1111.2" y2="101.1" stroke="#666" stroke-width="0.9"/>
<line x1="1111.3" y1="272" x2="1111.3" y2="277" stroke="#333" stroke-width="1.2"/>
<line x1="1124.8" y1="272" x2="1124.8" y2="274.6" stroke="#555" stroke-width="0.8"/>
<line x1="1132.8" y1="272" x2="1132.8" y2="274.6" stroke="#555" stroke-width="0.8"/>
<line x1="1138.4" y1="272" x2="1138.4" y2="274.6" stroke="#555" stroke-width="0.8"/>
<line x1="1142.8" y1="272" x2="1142.8" y2="274.6" stroke="#555" stroke-width="0.8"/>
<line x1="1146.3" y1="272" x2="1146.3" y2="274.6" stroke="#555" stroke-width="0.8"/>
<line x1="1149.3" y1="272" x2="1149.3" y2="274.6" stroke="#555" stroke-width="0.8"/>
<line x1="1151.9" y1="272" x2="1151.9" y2="274.6" stroke="#555" stroke-width="0.8"/>
<line x1="1154.2" y1="272" x2="1154.2" y2="274.6" stroke="#555" stroke-width="0.8"/>
<line x1="1156.3" y1="272" x2="1156.3" y2="277" stroke="#333" stroke-width="1.2"/>
<line x1="1169.8" y1="272" x2="1169.8" y2="274.6" stroke="#555" stroke-width="0.8"/>
<line x1="1177.8" y1="272" x2="1177.8" y2="274.6" stroke="#555" stroke-width="0.8"/>
<line x1="1183.4" y1="272" x2="1183.4" y2="274.6" stroke="#555" stroke-width="0.8"/>
<line x1="1187.8" y1="272" x2="1187.8" y2="274.6" stroke="#555" stroke-width="0.8"/>
<line x1="1191.3" y1="272" x2="1191.3" y2="274.6" stroke="#555" stroke-width="0.8"/>
<line x1="1194.3" y1="272" x2="1194.3" y2="274.6" stroke="#555" stroke-width="0.8"/>
<line x1="1196.9" y1="272" x2="1196.9" y2="274.6" stroke="#555" stroke-width="0.8"/>
<line x1="1199.2" y1="272" x2="1199.2" y2="274.6" stroke="#555" stroke-width="0.8"/>
<line x1="1201.3" y1="272" x2="1201.3" y2="277" stroke="#333" stroke-width="1.2"/>
<line x1="1214.8" y1="272" x2="1214.8" y2="274.6" stroke="#555" stroke-width="0.8"/>
<line x1="1222.8" y1="272" x2="1222.8" y2="274.6" stroke="#555" stroke-width="0.8"/>
<line x1="1228.4" y1="272" x2="1228.4" y2="274.6" stroke="#555" stroke-width="0.8"/>
<line x1="1232.8" y1="272" x2="1232.8" y2="274.6" stroke="#555" stroke-width="0.8"/>
<line x1="1236.3" y1="272" x2="1236.3" y2="274.6" stroke="#555" stroke-width="0.8"/>
<line x1="1239.3" y1="272" x2="1239.3" y2="274.6" stroke="#555" stroke-width="0.8"/>
<line x1="1241.9" y1="272" x2="1241.9" y2="274.6" stroke="#555" stroke-width="0.8"/>
<line x1="1244.2" y1="272" x2="1244.2" y2="274.6" stroke="#555" stroke-width="0.8"/>
<line x1="1246" y1="272" x2="1246" y2="277" stroke="#333" stroke-width="1.2"/>
<line x1="1259.5" y1="272" x2="1259.5" y2="274.6" stroke="#555" stroke-width="0.8"/>
<line x1="1267.5" y1="272" x2="1267.5" y2="274.6" stroke="#555" stroke-width="0.8"/>
<line x1="1273.1" y1="272" x2="1273.1" y2="274.6" stroke="#555" stroke-width="0.8"/>
<line x1="1277.5" y1="272" x2="1277.5" y2="274.6" stroke="#555" stroke-width="0.8"/>
<line x1="1281.0" y1="272" x2="1281.0" y2="274.6" stroke="#555" stroke-width="0.8"/>
<line x1="1284.0" y1="272" x2="1284.0" y2="274.6" stroke="#555" stroke-width="0.8"/>
<line x1="1286.6" y1="272" x2="1286.6" y2="274.6" stroke="#555" stroke-width="0.8"/>
<line x1="1288.9" y1="272" x2="1288.9" y2="274.6" stroke="#555" stroke-width="0.8"/>
<line x1="1290.8" y1="272" x2="1290.8" y2="277" stroke="#333" stroke-width="1.2"/>
<text x="1114.5" y="294.6" font-size="12.8" font-weight="bold" fill="#2a2a2a" textLength="13.1" lengthAdjust="spacingAndGlyphs">10</text>
<text x="1128.0" y="284.7" font-size="12.2" font-weight="bold" fill="#2a2a2a">0</text>
<text x="1153.7" y="294.6" font-size="12.8" font-weight="bold" fill="#2a2a2a" textLength="13.1" lengthAdjust="spacingAndGlyphs">10</text>
<text x="1167.2" y="284.7" font-size="12.2" font-weight="bold" fill="#2a2a2a">1</text>
<text x="1198.7" y="294.6" font-size="12.8" font-weight="bold" fill="#2a2a2a" textLength="13.1" lengthAdjust="spacingAndGlyphs">10</text>
<text x="1212.2" y="284.7" font-size="12.2" font-weight="bold" fill="#2a2a2a">2</text>
<text x="1243.2" y="294.6" font-size="12.8" font-weight="bold" fill="#2a2a2a" textLength="13.1" lengthAdjust="spacingAndGlyphs">10</text>
<text x="1256.7" y="284.7" font-size="12.2" font-weight="bold" fill="#2a2a2a">3</text>
<text x="1271.2" y="294.6" font-size="12.8" font-weight="bold" fill="#2a2a2a" textLength="13.1" lengthAdjust="spacingAndGlyphs">10</text>
<text x="1284.7" y="284.7" font-size="12.2" font-weight="bold" fill="#2a2a2a">4</text>
<polyline points="1111.3,221.0 1112.2,240.0 1113.2,248.7 1114.5,243.0 1116.2,233.7 1118.0,220.0 1120.0,205.0 1121.2,190.0 1122.5,178.0 1124.0,152.0 1125.0,132.0 1126.5,115.0 1128.0,105.5 1129.2,103.2 1130.5,104.5 1131.5,110.0 1132.5,118.0 1134.0,140.0 1136.2,170.0 1137.5,185.0 1140.0,212.5 1141.2,222.0 1143.7,241.0 1145.0,250.0 1146.7,257.0 1148.7,262.5 1151.0,266.0 1153.7,268.7 1157.0,270.3 1160.0,271.2 1166.0,272.0" fill="none" stroke="#202020" stroke-width="1.45" stroke-linejoin="round" stroke-linecap="round"/>
<line x1="1138.8" y1="129.5" x2="1282.5" y2="129.5" stroke="#000" stroke-width="3.1"/>
<line x1="1138.8" y1="124.1" x2="1138.8" y2="134.9" stroke="#000" stroke-width="3"/>
<line x1="1282.5" y1="124.1" x2="1282.5" y2="134.9" stroke="#000" stroke-width="3"/>
<text x="1159.95" y="126.4" font-size="24" fill="#0b4283">CXCR4 +</text>
<text x="1174.45" y="155.7" font-size="23.7" fill="#0b4283">10.7 %</text>
<text x="1112.82" y="339.2" font-size="27.3">CXCR4-AF647</text>
<rect x="1523.7" y="93.8" width="179.29999999999995" height="177.39999999999998" fill="none" stroke="#7d7d7d" stroke-width="1.2"/>
<line x1="1518.2" y1="97.2" x2="1523.7" y2="97.2" stroke="#333" stroke-width="1.2"/>
<text x="1494.0" y="105.3" font-size="12.6" font-weight="bold" fill="#2a2a2a">200</text>
<line x1="1518.2" y1="140.5" x2="1523.7" y2="140.5" stroke="#333" stroke-width="1.2"/>
<text x="1494.0" y="145.79999999999998" font-size="12.6" font-weight="bold" fill="#2a2a2a">150</text>
<line x1="1518.2" y1="184" x2="1523.7" y2="184" stroke="#333" stroke-width="1.2"/>
<text x="1494.0" y="189.6" font-size="12.6" font-weight="bold" fill="#2a2a2a">100</text>
<line x1="1518.2" y1="227.4" x2="1523.7" y2="227.4" stroke="#333" stroke-width="1.2"/>
<text x="1501.0" y="233.1" font-size="12.6" font-weight="bold" fill="#2a2a2a">50</text>
<line x1="1518.2" y1="270.8" x2="1523.7" y2="270.8" stroke="#333" stroke-width="1.2"/>
<text x="1508.0" y="271.6" font-size="12.6" font-weight="bold" fill="#2a2a2a">0</text>
<line x1="1521.1000000000001" y1="262.1" x2="1523.7" y2="262.1" stroke="#666" stroke-width="0.9"/>
<line x1="1521.1000000000001" y1="253.4" x2="1523.7" y2="253.4" stroke="#666" stroke-width="0.9"/>
<line x1="1521.1000000000001" y1="244.8" x2="1523.7" y2="244.8" stroke="#666" stroke-width="0.9"/>
<line x1="1521.1000000000001" y1="236.1" x2="1523.7" y2="236.1" stroke="#666" stroke-width="0.9"/>
<line x1="1521.1000000000001" y1="218.7" x2="1523.7" y2="218.7" stroke="#666" stroke-width="0.9"/>
<line x1="1521.1000000000001" y1="210.0" x2="1523.7" y2="210.0" stroke="#666" stroke-width="0.9"/>
<line x1="1521.1000000000001" y1="201.4" x2="1523.7" y2="201.4" stroke="#666" stroke-width="0.9"/>
<line x1="1521.1000000000001" y1="192.7" x2="1523.7" y2="192.7" stroke="#666" stroke-width="0.9"/>
<line x1="1521.1000000000001" y1="175.3" x2="1523.7" y2="175.3" stroke="#666" stroke-width="0.9"/>
<line x1="1521.1000000000001" y1="166.6" x2="1523.7" y2="166.6" stroke="#666" stroke-width="0.9"/>
<line x1="1521.1000000000001" y1="158.0" x2="1523.7" y2="158.0" stroke="#666" stroke-width="0.9"/>
<line x1="1521.1000000000001" y1="149.3" x2="1523.7" y2="149.3" stroke="#666" stroke-width="0.9"/>
<line x1="1521.1000000000001" y1="131.9" x2="1523.7" y2="131.9" stroke="#666" stroke-width="0.9"/>
<line x1="1521.1000000000001" y1="123.2" x2="1523.7" y2="123.2" stroke="#666" stroke-width="0.9"/>
<line x1="1521.1000000000001" y1="114.6" x2="1523.7" y2="114.6" stroke="#666" stroke-width="0.9"/>
<line x1="1521.1000000000001" y1="105.9" x2="1523.7" y2="105.9" stroke="#666" stroke-width="0.9"/>
<line x1="1523.8" y1="271.2" x2="1523.8" y2="276.2" stroke="#333" stroke-width="1.2"/>
<line x1="1537.2" y1="271.2" x2="1537.2" y2="273.8" stroke="#555" stroke-width="0.8"/>
<line x1="1545.0" y1="271.2" x2="1545.0" y2="273.8" stroke="#555" stroke-width="0.8"/>
<line x1="1550.6" y1="271.2" x2="1550.6" y2="273.8" stroke="#555" stroke-width="0.8"/>
<line x1="1554.9" y1="271.2" x2="1554.9" y2="273.8" stroke="#555" stroke-width="0.8"/>
<line x1="1558.4" y1="271.2" x2="1558.4" y2="273.8" stroke="#555" stroke-width="0.8"/>
<line x1="1561.4" y1="271.2" x2="1561.4" y2="273.8" stroke="#555" stroke-width="0.8"/>
<line x1="1564.0" y1="271.2" x2="1564.0" y2="273.8" stroke="#555" stroke-width="0.8"/>
<line x1="1566.3" y1="271.2" x2="1566.3" y2="273.8" stroke="#555" stroke-width="0.8"/>
<line x1="1568.3" y1="271.2" x2="1568.3" y2="276.2" stroke="#333" stroke-width="1.2"/>
<line x1="1581.7" y1="271.2" x2="1581.7" y2="273.8" stroke="#555" stroke-width="0.8"/>
<line x1="1589.5" y1="271.2" x2="1589.5" y2="273.8" stroke="#555" stroke-width="0.8"/>
<line x1="1595.1" y1="271.2" x2="1595.1" y2="273.8" stroke="#555" stroke-width="0.8"/>
<line x1="1599.4" y1="271.2" x2="1599.4" y2="273.8" stroke="#555" stroke-width="0.8"/>
<line x1="1602.9" y1="271.2" x2="1602.9" y2="273.8" stroke="#555" stroke-width="0.8"/>
<line x1="1605.9" y1="271.2" x2="1605.9" y2="273.8" stroke="#555" stroke-width="0.8"/>
<line x1="1608.5" y1="271.2" x2="1608.5" y2="273.8" stroke="#555" stroke-width="0.8"/>
<line x1="1610.8" y1="271.2" x2="1610.8" y2="273.8" stroke="#555" stroke-width="0.8"/>
<line x1="1612.7" y1="271.2" x2="1612.7" y2="276.2" stroke="#333" stroke-width="1.2"/>
<line x1="1626.1" y1="271.2" x2="1626.1" y2="273.8" stroke="#555" stroke-width="0.8"/>
<line x1="1633.9" y1="271.2" x2="1633.9" y2="273.8" stroke="#555" stroke-width="0.8"/>
<line x1="1639.5" y1="271.2" x2="1639.5" y2="273.8" stroke="#555" stroke-width="0.8"/>
<line x1="1643.8" y1="271.2" x2="1643.8" y2="273.8" stroke="#555" stroke-width="0.8"/>
<line x1="1647.3" y1="271.2" x2="1647.3" y2="273.8" stroke="#555" stroke-width="0.8"/>
<line x1="1650.3" y1="271.2" x2="1650.3" y2="273.8" stroke="#555" stroke-width="0.8"/>
<line x1="1652.9" y1="271.2" x2="1652.9" y2="273.8" stroke="#555" stroke-width="0.8"/>
<line x1="1655.2" y1="271.2" x2="1655.2" y2="273.8" stroke="#555" stroke-width="0.8"/>
<line x1="1657.2" y1="271.2" x2="1657.2" y2="276.2" stroke="#333" stroke-width="1.2"/>
<line x1="1670.6" y1="271.2" x2="1670.6" y2="273.8" stroke="#555" stroke-width="0.8"/>
<line x1="1678.4" y1="271.2" x2="1678.4" y2="273.8" stroke="#555" stroke-width="0.8"/>
<line x1="1684.0" y1="271.2" x2="1684.0" y2="273.8" stroke="#555" stroke-width="0.8"/>
<line x1="1688.3" y1="271.2" x2="1688.3" y2="273.8" stroke="#555" stroke-width="0.8"/>
<line x1="1691.8" y1="271.2" x2="1691.8" y2="273.8" stroke="#555" stroke-width="0.8"/>
<line x1="1694.8" y1="271.2" x2="1694.8" y2="273.8" stroke="#555" stroke-width="0.8"/>
<line x1="1697.4" y1="271.2" x2="1697.4" y2="273.8" stroke="#555" stroke-width="0.8"/>
<line x1="1699.7" y1="271.2" x2="1699.7" y2="273.8" stroke="#555" stroke-width="0.8"/>
<line x1="1701.7" y1="271.2" x2="1701.7" y2="276.2" stroke="#333" stroke-width="1.2"/>
<text x="1527.5" y="293.8" font-size="12.8" font-weight="bold" fill="#2a2a2a" textLength="13.1" lengthAdjust="spacingAndGlyphs">10</text>
<text x="1541.0" y="283.9" font-size="12.2" font-weight="bold" fill="#2a2a2a">0</text>
<text x="1565.2" y="293.8" font-size="12.8" font-weight="bold" fill="#2a2a2a" textLength="13.1" lengthAdjust="spacingAndGlyphs">10</text>
<text x="1578.7" y="283.9" font-size="12.2" font-weight="bold" fill="#2a2a2a">1</text>
<text x="1610.2" y="293.8" font-size="12.8" font-weight="bold" fill="#2a2a2a" textLength="13.1" lengthAdjust="spacingAndGlyphs">10</text>
<text x="1623.7" y="283.9" font-size="12.2" font-weight="bold" fill="#2a2a2a">2</text>
<text x="1654.5" y="293.8" font-size="12.8" font-weight="bold" fill="#2a2a2a" textLength="13.1" lengthAdjust="spacingAndGlyphs">10</text>
<text x="1668.0" y="283.9" font-size="12.2" font-weight="bold" fill="#2a2a2a">3</text>
<text x="1682.2" y="293.8" font-size="12.8" font-weight="bold" fill="#2a2a2a" textLength="13.1" lengthAdjust="spacingAndGlyphs">10</text>
<text x="1695.7" y="283.9" font-size="12.2" font-weight="bold" fill="#2a2a2a">4</text>
<polyline points="1523.9,176.0 1524.4,200.0 1525.0,230.0 1526.0,245.0 1526.7,249.5 1528.0,246.0 1530.0,240.0 1532.5,230.0 1535.0,222.5 1537.5,208.0 1538.7,205.0 1540.0,199.0 1541.2,197.5 1542.5,193.0 1543.7,181.0 1546.0,165.0 1548.5,153.0 1549.6,151.5 1551.0,135.0 1552.5,125.0 1553.5,118.0 1554.5,116.5 1555.0,113.7 1556.0,116.0 1557.0,113.0 1558.2,116.5 1559.5,114.0 1560.7,116.5 1562.0,115.0 1563.7,116.0 1564.7,127.0 1566.2,140.0 1568.0,160.0 1569.7,178.0 1571.2,198.0 1573.7,220.0 1575.5,238.0 1577.5,252.5 1579.0,258.0 1581.2,261.5 1583.5,265.0 1586.2,267.0 1591.0,269.0 1597.5,270.5 1610.0,271.2" fill="none" stroke="#202020" stroke-width="1.45" stroke-linejoin="round" stroke-linecap="round"/>
<line x1="1580.8" y1="133.2" x2="1683.7" y2="133.2" stroke="#000" stroke-width="3.1"/>
<line x1="1580.8" y1="127.79999999999998" x2="1580.8" y2="138.6" stroke="#000" stroke-width="3"/>
<line x1="1683.7" y1="127.79999999999998" x2="1683.7" y2="138.6" stroke="#000" stroke-width="3"/>
<text x="1578.75" y="126.4" font-size="24" fill="#0b4283">CXCR4 +</text>
<text x="1593.62" y="156.4" font-size="23.7" fill="#0b4283">0.44 %</text>
<text x="1521.12" y="340" font-size="27.3">CXCR4-AF647</text>
<rect x="1748.2" y="93.8" width="178.79999999999995" height="177.39999999999998" fill="none" stroke="#7d7d7d" stroke-width="1.2"/>
<line x1="1742.7" y1="98.2" x2="1748.2" y2="98.2" stroke="#333" stroke-width="1.2"/>
<text x="1718.5" y="105.3" font-size="12.6" font-weight="bold" fill="#2a2a2a">200</text>
<line x1="1742.7" y1="141.3" x2="1748.2" y2="141.3" stroke="#333" stroke-width="1.2"/>
<text x="1718.5" y="147.1" font-size="12.6" font-weight="bold" fill="#2a2a2a">150</text>
<line x1="1742.7" y1="184.5" x2="1748.2" y2="184.5" stroke="#333" stroke-width="1.2"/>
<text x="1718.5" y="190.1" font-size="12.6" font-weight="bold" fill="#2a2a2a">100</text>
<line x1="1742.7" y1="227.6" x2="1748.2" y2="227.6" stroke="#333" stroke-width="1.2"/>
<text x="1725.5" y="233.29999999999998" font-size="12.6" font-weight="bold" fill="#2a2a2a">50</text>
<line x1="1742.7" y1="270.7" x2="1748.2" y2="270.7" stroke="#333" stroke-width="1.2"/>
<text x="1732.5" y="271.6" font-size="12.6" font-weight="bold" fill="#2a2a2a">0</text>
<line x1="1745.6000000000001" y1="262.1" x2="1748.2" y2="262.1" stroke="#666" stroke-width="0.9"/>
<line x1="1745.6000000000001" y1="253.4" x2="1748.2" y2="253.4" stroke="#666" stroke-width="0.9"/>
<line x1="1745.6000000000001" y1="244.8" x2="1748.2" y2="244.8" stroke="#666" stroke-width="0.9"/>
<line x1="1745.6000000000001" y1="236.2" x2="1748.2" y2="236.2" stroke="#666" stroke-width="0.9"/>
<line x1="1745.6000000000001" y1="218.9" x2="1748.2" y2="218.9" stroke="#666" stroke-width="0.9"/>
<line x1="1745.6000000000001" y1="210.3" x2="1748.2" y2="210.3" stroke="#666" stroke-width="0.9"/>
<line x1="1745.6000000000001" y1="201.7" x2="1748.2" y2="201.7" stroke="#666" stroke-width="0.9"/>
<line x1="1745.6000000000001" y1="193.1" x2="1748.2" y2="193.1" stroke="#666" stroke-width="0.9"/>
<line x1="1745.6000000000001" y1="175.8" x2="1748.2" y2="175.8" stroke="#666" stroke-width="0.9"/>
<line x1="1745.6000000000001" y1="167.2" x2="1748.2" y2="167.2" stroke="#666" stroke-width="0.9"/>
<line x1="1745.6000000000001" y1="158.6" x2="1748.2" y2="158.6" stroke="#666" stroke-width="0.9"/>
<line x1="1745.6000000000001" y1="149.9" x2="1748.2" y2="149.9" stroke="#666" stroke-width="0.9"/>
<line x1="1745.6000000000001" y1="132.7" x2="1748.2" y2="132.7" stroke="#666" stroke-width="0.9"/>
<line x1="1745.6000000000001" y1="124.1" x2="1748.2" y2="124.1" stroke="#666" stroke-width="0.9"/>
<line x1="1745.6000000000001" y1="115.4" x2="1748.2" y2="115.4" stroke="#666" stroke-width="0.9"/>
<line x1="1745.6000000000001" y1="106.8" x2="1748.2" y2="106.8" stroke="#666" stroke-width="0.9"/>
<line x1="1748.3" y1="271.2" x2="1748.3" y2="276.2" stroke="#333" stroke-width="1.2"/>
<line x1="1761.6" y1="271.2" x2="1761.6" y2="273.8" stroke="#555" stroke-width="0.8"/>
<line x1="1769.4" y1="271.2" x2="1769.4" y2="273.8" stroke="#555" stroke-width="0.8"/>
<line x1="1775.0" y1="271.2" x2="1775.0" y2="273.8" stroke="#555" stroke-width="0.8"/>
<line x1="1779.3" y1="271.2" x2="1779.3" y2="273.8" stroke="#555" stroke-width="0.8"/>
<line x1="1782.8" y1="271.2" x2="1782.8" y2="273.8" stroke="#555" stroke-width="0.8"/>
<line x1="1785.7" y1="271.2" x2="1785.7" y2="273.8" stroke="#555" stroke-width="0.8"/>
<line x1="1788.3" y1="271.2" x2="1788.3" y2="273.8" stroke="#555" stroke-width="0.8"/>
<line x1="1790.6" y1="271.2" x2="1790.6" y2="273.8" stroke="#555" stroke-width="0.8"/>
<line x1="1792.6" y1="271.2" x2="1792.6" y2="276.2" stroke="#333" stroke-width="1.2"/>
<line x1="1805.9" y1="271.2" x2="1805.9" y2="273.8" stroke="#555" stroke-width="0.8"/>
<line x1="1813.7" y1="271.2" x2="1813.7" y2="273.8" stroke="#555" stroke-width="0.8"/>
<line x1="1819.3" y1="271.2" x2="1819.3" y2="273.8" stroke="#555" stroke-width="0.8"/>
<line x1="1823.6" y1="271.2" x2="1823.6" y2="273.8" stroke="#555" stroke-width="0.8"/>
<line x1="1827.1" y1="271.2" x2="1827.1" y2="273.8" stroke="#555" stroke-width="0.8"/>
<line x1="1830.0" y1="271.2" x2="1830.0" y2="273.8" stroke="#555" stroke-width="0.8"/>
<line x1="1832.6" y1="271.2" x2="1832.6" y2="273.8" stroke="#555" stroke-width="0.8"/>
<line x1="1834.9" y1="271.2" x2="1834.9" y2="273.8" stroke="#555" stroke-width="0.8"/>
<line x1="1836.9" y1="271.2" x2="1836.9" y2="276.2" stroke="#333" stroke-width="1.2"/>
<line x1="1850.2" y1="271.2" x2="1850.2" y2="273.8" stroke="#555" stroke-width="0.8"/>
<line x1="1858.0" y1="271.2" x2="1858.0" y2="273.8" stroke="#555" stroke-width="0.8"/>
<line x1="1863.6" y1="271.2" x2="1863.6" y2="273.8" stroke="#555" stroke-width="0.8"/>
<line x1="1867.9" y1="271.2" x2="1867.9" y2="273.8" stroke="#555" stroke-width="0.8"/>
<line x1="1871.4" y1="271.2" x2="1871.4" y2="273.8" stroke="#555" stroke-width="0.8"/>
<line x1="1874.3" y1="271.2" x2="1874.3" y2="273.8" stroke="#555" stroke-width="0.8"/>
<line x1="1876.9" y1="271.2" x2="1876.9" y2="273.8" stroke="#555" stroke-width="0.8"/>
<line x1="1879.2" y1="271.2" x2="1879.2" y2="273.8" stroke="#555" stroke-width="0.8"/>
<line x1="1881.2" y1="271.2" x2="1881.2" y2="276.2" stroke="#333" stroke-width="1.2"/>
<line x1="1894.5" y1="271.2" x2="1894.5" y2="273.8" stroke="#555" stroke-width="0.8"/>
<line x1="1902.3" y1="271.2" x2="1902.3" y2="273.8" stroke="#555" stroke-width="0.8"/>
<line x1="1907.9" y1="271.2" x2="1907.9" y2="273.8" stroke="#555" stroke-width="0.8"/>
<line x1="1912.2" y1="271.2" x2="1912.2" y2="273.8" stroke="#555" stroke-width="0.8"/>
<line x1="1915.7" y1="271.2" x2="1915.7" y2="273.8" stroke="#555" stroke-width="0.8"/>
<line x1="1918.6" y1="271.2" x2="1918.6" y2="273.8" stroke="#555" stroke-width="0.8"/>
<line x1="1921.2" y1="271.2" x2="1921.2" y2="273.8" stroke="#555" stroke-width="0.8"/>
<line x1="1923.5" y1="271.2" x2="1923.5" y2="273.8" stroke="#555" stroke-width="0.8"/>
<line x1="1925.5" y1="271.2" x2="1925.5" y2="276.2" stroke="#333" stroke-width="1.2"/>
<text x="1751.5" y="293.8" font-size="12.8" font-weight="bold" fill="#2a2a2a" textLength="13.1" lengthAdjust="spacingAndGlyphs">10</text>
<text x="1765.0" y="283.9" font-size="12.2" font-weight="bold" fill="#2a2a2a">0</text>
<text x="1789.5" y="293.8" font-size="12.8" font-weight="bold" fill="#2a2a2a" textLength="13.1" lengthAdjust="spacingAndGlyphs">10</text>
<text x="1803.0" y="283.9" font-size="12.2" font-weight="bold" fill="#2a2a2a">1</text>
<text x="1834.4" y="293.8" font-size="12.8" font-weight="bold" fill="#2a2a2a" textLength="13.1" lengthAdjust="spacingAndGlyphs">10</text>
<text x="1847.9" y="283.9" font-size="12.2" font-weight="bold" fill="#2a2a2a">2</text>
<text x="1878.7" y="293.8" font-size="12.8" font-weight="bold" fill="#2a2a2a" textLength="13.1" lengthAdjust="spacingAndGlyphs">10</text>
<text x="1892.2" y="283.9" font-size="12.2" font-weight="bold" fill="#2a2a2a">3</text>
<text x="1906.5" y="293.8" font-size="12.8" font-weight="bold" fill="#2a2a2a" textLength="13.1" lengthAdjust="spacingAndGlyphs">10</text>
<text x="1920.0" y="283.9" font-size="12.2" font-weight="bold" fill="#2a2a2a">4</text>
<polyline points="1748.4,120.0 1748.8,180.0 1749.1,210.0 1749.6,225.0 1750.7,238.7 1752.0,236.0 1754.5,230.0 1756.0,222.0 1757.5,215.0 1759.0,210.0 1760.0,205.0 1761.2,202.5 1762.5,190.0 1763.7,177.0 1765.0,168.0 1766.2,163.7 1768.0,162.0 1770.0,150.0 1772.0,138.0 1773.7,127.5 1775.0,123.0 1776.0,119.0 1777.0,121.0 1778.0,113.7 1779.2,118.0 1780.5,117.0 1781.5,122.0 1782.5,120.0 1783.7,122.5 1785.5,131.0 1787.5,140.0 1789.0,145.0 1790.0,152.0 1792.5,162.5 1794.0,172.0 1795.5,180.0 1797.5,190.0 1800.0,205.0 1802.5,212.5 1803.7,217.5 1806.0,226.0 1807.5,230.0 1810.0,233.7 1811.5,239.0 1813.7,242.5 1817.0,244.0 1821.2,246.2 1823.0,251.0 1825.0,255.0 1827.5,260.0 1831.0,262.5 1835.0,264.2 1838.5,266.0 1842.5,267.5 1847.0,268.5 1852.5,269.2 1858.0,270.5 1861.0,269.5 1865.0,271.2 1870.0,271.2" fill="none" stroke="#202020" stroke-width="1.45" stroke-linejoin="round" stroke-linecap="round"/>
<line x1="1808.8" y1="132.5" x2="1912" y2="132.5" stroke="#000" stroke-width="3.1"/>
<line x1="1808.8" y1="127.1" x2="1808.8" y2="137.9" stroke="#000" stroke-width="3"/>
<line x1="1912" y1="127.1" x2="1912" y2="137.9" stroke="#000" stroke-width="3"/>
<text x="1808.75" y="126.4" font-size="24" fill="#f44343">CXCR4 +</text>
<text x="1822.7" y="156.4" font-size="23.7" fill="#f44343">5.29 %</text>
<text x="1747.32" y="340" font-size="27.3">CXCR4-AF647</text>
<line x1="747.9" y1="122" x2="747.9" y2="129" stroke="#b5b5b5" stroke-width="1"/>
<text x="-0.6" y="447" font-size="27.5" font-weight="bold">c</text>
<text x="420.75" y="452.5" font-size="28.1">METABRIC</text>
<text x="203.0" y="521" font-size="27.5" font-style="italic">CXCR4 vs. FAAH</text>
<text x="558.5" y="521" font-size="27.6" font-style="italic">CXCL12 vs. FAAH</text>
<text transform="translate(59.4,915) rotate(-90)" font-size="27.7"><tspan font-style="italic">FAAH</tspan> mRNA expression (arb. units)</text>
<rect x="136" y="543" width="343" height="293" fill="#fcfdfd"/>
<line x1="136" y1="572" x2="479" y2="572" stroke="#f0f0f0" stroke-width="1" stroke-dasharray="1.5 3.5"/>
<line x1="494" y1="572" x2="848" y2="572" stroke="#f0f0f0" stroke-width="1" stroke-dasharray="1.5 3.5"/>
<line x1="136" y1="616" x2="479" y2="616" stroke="#f0f0f0" stroke-width="1" stroke-dasharray="1.5 3.5"/>
<line x1="494" y1="616" x2="848" y2="616" stroke="#f0f0f0" stroke-width="1" stroke-dasharray="1.5 3.5"/>
<line x1="136" y1="660" x2="479" y2="660" stroke="#f0f0f0" stroke-width="1" stroke-dasharray="1.5 3.5"/>
<line x1="494" y1="660" x2="848" y2="660" stroke="#f0f0f0" stroke-width="1" stroke-dasharray="1.5 3.5"/>
<line x1="136" y1="704" x2="479" y2="704" stroke="#f0f0f0" stroke-width="1" stroke-dasharray="1.5 3.5"/>
<line x1="494" y1="704" x2="848" y2="704" stroke="#f0f0f0" stroke-width="1" stroke-dasharray="1.5 3.5"/>
<line x1="136" y1="748" x2="479" y2="748" stroke="#f0f0f0" stroke-width="1" stroke-dasharray="1.5 3.5"/>
<line x1="494" y1="748" x2="848" y2="748" stroke="#f0f0f0" stroke-width="1" stroke-dasharray="1.5 3.5"/>
<line x1="136" y1="792" x2="479" y2="792" stroke="#f0f0f0" stroke-width="1" stroke-dasharray="1.5 3.5"/>
<line x1="494" y1="792" x2="848" y2="792" stroke="#f0f0f0" stroke-width="1" stroke-dasharray="1.5 3.5"/>
<line x1="196" y1="543" x2="196" y2="836" stroke="#f2f2f2" stroke-width="1" stroke-dasharray="1.5 3.5"/>
<line x1="284" y1="543" x2="284" y2="836" stroke="#f2f2f2" stroke-width="1" stroke-dasharray="1.5 3.5"/>
<line x1="370" y1="543" x2="370" y2="836" stroke="#f2f2f2" stroke-width="1" stroke-dasharray="1.5 3.5"/>
<line x1="455" y1="543" x2="455" y2="836" stroke="#f2f2f2" stroke-width="1" stroke-dasharray="1.5 3.5"/>
<line x1="556" y1="543" x2="556" y2="836" stroke="#f2f2f2" stroke-width="1" stroke-dasharray="1.5 3.5"/>
<line x1="646" y1="543" x2="646" y2="836" stroke="#f2f2f2" stroke-width="1" stroke-dasharray="1.5 3.5"/>
<line x1="730" y1="543" x2="730" y2="836" stroke="#f2f2f2" stroke-width="1" stroke-dasharray="1.5 3.5"/>
<line x1="816" y1="543" x2="816" y2="836" stroke="#f2f2f2" stroke-width="1" stroke-dasharray="1.5 3.5"/>
<g fill="#3aa2fc" stroke="#1c5bd2" stroke-width="1.05">
<circle cx="274.7" cy="752.0" r="2.1"/>
<circle cx="304.6" cy="746.3" r="2.1"/>
<circle cx="222.7" cy="723.4" r="2.1"/>
<circle cx="332.3" cy="686.1" r="2.1"/>
<circle cx="315.1" cy="711.7" r="2.1"/>
<circle cx="274.3" cy="743.7" r="2.1"/>
<circle cx="270.6" cy="681.0" r="2.1"/>
<circle cx="337.8" cy="723.2" r="2.1"/>
<circle cx="312.8" cy="736.7" r="2.1"/>
<circle cx="294.7" cy="746.6" r="2.1"/>
<circle cx="394.1" cy="647.1" r="2.1"/>
<circle cx="285.7" cy="758.1" r="2.1"/>
<circle cx="355.4" cy="761.2" r="2.1"/>
<circle cx="377.6" cy="738.8" r="2.1"/>
<circle cx="299.8" cy="703.1" r="2.1"/>
<circle cx="326.5" cy="734.2" r="2.1"/>
<circle cx="419.2" cy="778.6" r="2.1"/>
<circle cx="231.4" cy="733.8" r="2.1"/>
<circle cx="158.3" cy="689.1" r="2.1"/>
<circle cx="195.7" cy="659.7" r="2.1"/>
<circle cx="350.2" cy="692.3" r="2.1"/>
<circle cx="391.9" cy="707.0" r="2.1"/>
<circle cx="337.0" cy="683.4" r="2.1"/>
<circle cx="256.1" cy="726.9" r="2.1"/>
<circle cx="283.2" cy="735.9" r="2.1"/>
<circle cx="200.6" cy="743.9" r="2.1"/>
<circle cx="303.7" cy="740.3" r="2.1"/>
<circle cx="293.5" cy="678.5" r="2.1"/>
<circle cx="291.1" cy="746.3" r="2.1"/>
<circle cx="380.1" cy="739.3" r="2.1"/>
<circle cx="401.6" cy="734.6" r="2.1"/>
<circle cx="278.3" cy="691.3" r="2.1"/>
<circle cx="416.3" cy="726.1" r="2.1"/>
<circle cx="232.7" cy="677.9" r="2.1"/>
<circle cx="371.9" cy="681.4" r="2.1"/>
<circle cx="337.1" cy="749.3" r="2.1"/>
<circle cx="333.4" cy="761.2" r="2.1"/>
<circle cx="295.1" cy="712.1" r="2.1"/>
<circle cx="248.6" cy="719.5" r="2.1"/>
<circle cx="342.7" cy="736.8" r="2.1"/>
<circle cx="370.8" cy="747.0" r="2.1"/>
<circle cx="384.8" cy="745.5" r="2.1"/>
<circle cx="370.9" cy="773.0" r="2.1"/>
<circle cx="238.9" cy="678.4" r="2.1"/>
<circle cx="348.8" cy="740.2" r="2.1"/>
<circle cx="231.8" cy="687.2" r="2.1"/>
<circle cx="369.0" cy="698.3" r="2.1"/>
<circle cx="306.9" cy="729.6" r="2.1"/>
<circle cx="345.5" cy="752.6" r="2.1"/>
<circle cx="218.6" cy="667.0" r="2.1"/>
<circle cx="308.5" cy="751.1" r="2.1"/>
<circle cx="333.3" cy="726.1" r="2.1"/>
<circle cx="288.7" cy="665.3" r="2.1"/>
<circle cx="308.3" cy="780.0" r="2.1"/>
<circle cx="321.7" cy="714.9" r="2.1"/>
<circle cx="234.9" cy="716.3" r="2.1"/>
<circle cx="336.7" cy="749.9" r="2.1"/>
<circle cx="195.4" cy="686.6" r="2.1"/>
<circle cx="382.2" cy="704.7" r="2.1"/>
<circle cx="348.0" cy="719.8" r="2.1"/>
<circle cx="332.1" cy="738.5" r="2.1"/>
<circle cx="398.5" cy="729.5" r="2.1"/>
<circle cx="285.0" cy="679.8" r="2.1"/>
<circle cx="307.5" cy="706.9" r="2.1"/>
<circle cx="325.3" cy="808.1" r="2.1"/>
<circle cx="318.7" cy="699.6" r="2.1"/>
<circle cx="252.5" cy="751.6" r="2.1"/>
<circle cx="385.9" cy="766.6" r="2.1"/>
<circle cx="318.4" cy="660.1" r="2.1"/>
<circle cx="241.6" cy="660.4" r="2.1"/>
<circle cx="297.8" cy="676.0" r="2.1"/>
<circle cx="317.0" cy="731.6" r="2.1"/>
<circle cx="350.1" cy="782.4" r="2.1"/>
<circle cx="340.2" cy="720.1" r="2.1"/>
<circle cx="336.5" cy="697.6" r="2.1"/>
<circle cx="276.7" cy="705.3" r="2.1"/>
<circle cx="268.2" cy="680.9" r="2.1"/>
<circle cx="273.7" cy="715.4" r="2.1"/>
<circle cx="344.9" cy="733.7" r="2.1"/>
<circle cx="280.3" cy="779.0" r="2.1"/>
<circle cx="373.1" cy="694.5" r="2.1"/>
<circle cx="299.6" cy="696.1" r="2.1"/>
<circle cx="322.3" cy="712.2" r="2.1"/>
<circle cx="373.3" cy="735.7" r="2.1"/>
<circle cx="320.3" cy="680.2" r="2.1"/>
<circle cx="282.2" cy="746.0" r="2.1"/>
<circle cx="389.0" cy="708.1" r="2.1"/>
<circle cx="299.7" cy="732.7" r="2.1"/>
<circle cx="230.4" cy="702.5" r="2.1"/>
<circle cx="256.6" cy="679.6" r="2.1"/>
<circle cx="312.6" cy="647.5" r="2.1"/>
<circle cx="292.6" cy="693.3" r="2.1"/>
<circle cx="242.2" cy="711.1" r="2.1"/>
<circle cx="303.2" cy="726.7" r="2.1"/>
<circle cx="305.7" cy="740.2" r="2.1"/>
<circle cx="283.1" cy="735.8" r="2.1"/>
<circle cx="399.9" cy="759.6" r="2.1"/>
<circle cx="286.4" cy="704.8" r="2.1"/>
<circle cx="428.2" cy="708.3" r="2.1"/>
<circle cx="248.0" cy="740.5" r="2.1"/>
<circle cx="282.5" cy="730.0" r="2.1"/>
<circle cx="371.4" cy="746.7" r="2.1"/>
<circle cx="154.3" cy="631.8" r="2.1"/>
<circle cx="351.3" cy="708.2" r="2.1"/>
<circle cx="340.6" cy="710.1" r="2.1"/>
<circle cx="239.6" cy="694.4" r="2.1"/>
<circle cx="296.0" cy="747.9" r="2.1"/>
<circle cx="183.6" cy="620.3" r="2.1"/>
<circle cx="259.8" cy="711.7" r="2.1"/>
<circle cx="242.9" cy="707.9" r="2.1"/>
<circle cx="284.2" cy="717.1" r="2.1"/>
<circle cx="232.8" cy="698.4" r="2.1"/>
<circle cx="337.8" cy="700.8" r="2.1"/>
<circle cx="290.4" cy="736.3" r="2.1"/>
<circle cx="245.8" cy="736.0" r="2.1"/>
<circle cx="354.8" cy="740.1" r="2.1"/>
<circle cx="333.9" cy="710.4" r="2.1"/>
<circle cx="351.6" cy="717.1" r="2.1"/>
<circle cx="213.3" cy="736.9" r="2.1"/>
<circle cx="339.7" cy="728.6" r="2.1"/>
<circle cx="289.3" cy="718.1" r="2.1"/>
<circle cx="314.5" cy="716.3" r="2.1"/>
<circle cx="342.7" cy="701.4" r="2.1"/>
<circle cx="268.3" cy="737.0" r="2.1"/>
<circle cx="203.7" cy="745.1" r="2.1"/>
<circle cx="357.7" cy="700.2" r="2.1"/>
<circle cx="355.1" cy="732.7" r="2.1"/>
<circle cx="208.3" cy="704.2" r="2.1"/>
<circle cx="340.2" cy="776.9" r="2.1"/>
<circle cx="335.8" cy="784.7" r="2.1"/>
<circle cx="397.7" cy="712.0" r="2.1"/>
<circle cx="354.7" cy="743.8" r="2.1"/>
<circle cx="257.1" cy="685.1" r="2.1"/>
<circle cx="393.8" cy="738.1" r="2.1"/>
<circle cx="397.9" cy="774.8" r="2.1"/>
<circle cx="386.8" cy="732.8" r="2.1"/>
<circle cx="337.7" cy="706.3" r="2.1"/>
<circle cx="386.3" cy="822.9" r="2.1"/>
<circle cx="261.9" cy="720.6" r="2.1"/>
<circle cx="276.0" cy="683.9" r="2.1"/>
<circle cx="294.6" cy="775.3" r="2.1"/>
<circle cx="390.3" cy="743.8" r="2.1"/>
<circle cx="265.5" cy="709.7" r="2.1"/>
<circle cx="222.3" cy="718.8" r="2.1"/>
<circle cx="378.6" cy="761.2" r="2.1"/>
<circle cx="307.8" cy="721.3" r="2.1"/>
<circle cx="379.9" cy="739.5" r="2.1"/>
<circle cx="236.3" cy="692.8" r="2.1"/>
<circle cx="358.4" cy="716.0" r="2.1"/>
<circle cx="390.1" cy="754.8" r="2.1"/>
<circle cx="157.8" cy="741.1" r="2.1"/>
<circle cx="241.4" cy="696.7" r="2.1"/>
<circle cx="401.4" cy="780.3" r="2.1"/>
<circle cx="357.7" cy="724.6" r="2.1"/>
<circle cx="263.6" cy="708.3" r="2.1"/>
<circle cx="323.7" cy="732.0" r="2.1"/>
<circle cx="318.0" cy="804.1" r="2.1"/>
<circle cx="271.6" cy="728.9" r="2.1"/>
<circle cx="280.4" cy="759.6" r="2.1"/>
<circle cx="353.9" cy="696.0" r="2.1"/>
<circle cx="341.5" cy="715.0" r="2.1"/>
<circle cx="330.8" cy="704.9" r="2.1"/>
<circle cx="366.4" cy="757.9" r="2.1"/>
<circle cx="333.5" cy="715.8" r="2.1"/>
<circle cx="327.9" cy="684.6" r="2.1"/>
<circle cx="305.0" cy="762.6" r="2.1"/>
<circle cx="373.3" cy="758.1" r="2.1"/>
<circle cx="261.2" cy="695.6" r="2.1"/>
<circle cx="343.1" cy="709.6" r="2.1"/>
<circle cx="387.7" cy="753.4" r="2.1"/>
<circle cx="311.5" cy="741.4" r="2.1"/>
<circle cx="321.9" cy="734.0" r="2.1"/>
<circle cx="268.1" cy="673.7" r="2.1"/>
<circle cx="340.1" cy="719.2" r="2.1"/>
<circle cx="277.4" cy="670.2" r="2.1"/>
<circle cx="309.0" cy="749.2" r="2.1"/>
<circle cx="378.0" cy="720.9" r="2.1"/>
<circle cx="375.3" cy="722.2" r="2.1"/>
<circle cx="338.5" cy="760.6" r="2.1"/>
<circle cx="261.3" cy="687.3" r="2.1"/>
<circle cx="288.1" cy="689.4" r="2.1"/>
<circle cx="281.5" cy="708.3" r="2.1"/>
<circle cx="367.4" cy="695.6" r="2.1"/>
<circle cx="240.4" cy="768.7" r="2.1"/>
<circle cx="367.8" cy="748.8" r="2.1"/>
<circle cx="279.1" cy="718.9" r="2.1"/>
<circle cx="286.0" cy="679.8" r="2.1"/>
<circle cx="313.9" cy="745.6" r="2.1"/>
<circle cx="278.5" cy="725.1" r="2.1"/>
<circle cx="289.5" cy="737.9" r="2.1"/>
<circle cx="294.9" cy="696.2" r="2.1"/>
<circle cx="280.9" cy="698.8" r="2.1"/>
<circle cx="344.0" cy="674.7" r="2.1"/>
<circle cx="255.5" cy="691.1" r="2.1"/>
<circle cx="334.4" cy="704.3" r="2.1"/>
<circle cx="376.5" cy="735.8" r="2.1"/>
<circle cx="365.7" cy="773.8" r="2.1"/>
<circle cx="281.9" cy="703.1" r="2.1"/>
<circle cx="300.5" cy="718.7" r="2.1"/>
<circle cx="351.4" cy="695.0" r="2.1"/>
<circle cx="384.1" cy="782.6" r="2.1"/>
<circle cx="200.7" cy="669.5" r="2.1"/>
<circle cx="373.1" cy="715.1" r="2.1"/>
<circle cx="278.6" cy="681.5" r="2.1"/>
<circle cx="290.0" cy="681.6" r="2.1"/>
<circle cx="352.3" cy="705.3" r="2.1"/>
<circle cx="333.3" cy="686.7" r="2.1"/>
<circle cx="238.5" cy="693.6" r="2.1"/>
<circle cx="252.3" cy="716.3" r="2.1"/>
<circle cx="241.9" cy="705.5" r="2.1"/>
<circle cx="414.5" cy="741.5" r="2.1"/>
<circle cx="339.5" cy="759.0" r="2.1"/>
<circle cx="277.5" cy="637.5" r="2.1"/>
<circle cx="358.3" cy="709.4" r="2.1"/>
<circle cx="369.0" cy="730.1" r="2.1"/>
<circle cx="317.1" cy="748.5" r="2.1"/>
<circle cx="258.8" cy="726.4" r="2.1"/>
<circle cx="237.8" cy="692.6" r="2.1"/>
<circle cx="275.4" cy="703.6" r="2.1"/>
<circle cx="293.9" cy="727.5" r="2.1"/>
<circle cx="351.8" cy="711.4" r="2.1"/>
<circle cx="261.5" cy="673.8" r="2.1"/>
<circle cx="242.8" cy="729.2" r="2.1"/>
<circle cx="331.6" cy="693.9" r="2.1"/>
<circle cx="243.3" cy="732.7" r="2.1"/>
<circle cx="276.0" cy="731.0" r="2.1"/>
<circle cx="319.3" cy="742.7" r="2.1"/>
<circle cx="236.8" cy="717.4" r="2.1"/>
<circle cx="384.8" cy="731.1" r="2.1"/>
<circle cx="363.5" cy="716.4" r="2.1"/>
<circle cx="367.6" cy="706.2" r="2.1"/>
<circle cx="365.3" cy="715.6" r="2.1"/>
<circle cx="298.4" cy="716.5" r="2.1"/>
<circle cx="364.2" cy="741.4" r="2.1"/>
<circle cx="246.0" cy="728.0" r="2.1"/>
<circle cx="372.8" cy="735.9" r="2.1"/>
<circle cx="422.6" cy="800.0" r="2.1"/>
<circle cx="266.8" cy="770.3" r="2.1"/>
<circle cx="302.6" cy="721.8" r="2.1"/>
<circle cx="281.0" cy="706.9" r="2.1"/>
<circle cx="256.9" cy="739.9" r="2.1"/>
<circle cx="356.2" cy="697.3" r="2.1"/>
<circle cx="234.8" cy="691.6" r="2.1"/>
<circle cx="348.3" cy="743.6" r="2.1"/>
<circle cx="371.6" cy="720.5" r="2.1"/>
<circle cx="263.8" cy="676.8" r="2.1"/>
<circle cx="359.4" cy="710.4" r="2.1"/>
<circle cx="382.7" cy="744.0" r="2.1"/>
<circle cx="288.0" cy="684.1" r="2.1"/>
<circle cx="393.9" cy="764.3" r="2.1"/>
<circle cx="285.5" cy="708.0" r="2.1"/>
<circle cx="342.1" cy="684.0" r="2.1"/>
<circle cx="349.7" cy="698.3" r="2.1"/>
<circle cx="296.3" cy="745.6" r="2.1"/>
<circle cx="265.8" cy="752.7" r="2.1"/>
<circle cx="352.7" cy="757.5" r="2.1"/>
<circle cx="339.6" cy="756.0" r="2.1"/>
<circle cx="209.1" cy="703.0" r="2.1"/>
<circle cx="351.4" cy="714.7" r="2.1"/>
<circle cx="402.6" cy="742.7" r="2.1"/>
<circle cx="317.9" cy="748.6" r="2.1"/>
<circle cx="397.2" cy="752.3" r="2.1"/>
<circle cx="232.5" cy="703.7" r="2.1"/>
<circle cx="326.6" cy="701.0" r="2.1"/>
<circle cx="310.4" cy="770.3" r="2.1"/>
<circle cx="174.1" cy="643.4" r="2.1"/>
<circle cx="347.0" cy="775.0" r="2.1"/>
<circle cx="383.8" cy="778.2" r="2.1"/>
<circle cx="337.8" cy="705.4" r="2.1"/>
<circle cx="172.0" cy="703.3" r="2.1"/>
<circle cx="330.8" cy="710.6" r="2.1"/>
<circle cx="325.2" cy="754.5" r="2.1"/>
<circle cx="342.7" cy="747.7" r="2.1"/>
<circle cx="325.6" cy="745.7" r="2.1"/>
<circle cx="262.0" cy="748.8" r="2.1"/>
<circle cx="315.3" cy="731.9" r="2.1"/>
<circle cx="284.1" cy="693.7" r="2.1"/>
<circle cx="350.1" cy="701.9" r="2.1"/>
<circle cx="375.0" cy="759.1" r="2.1"/>
<circle cx="291.4" cy="700.1" r="2.1"/>
<circle cx="289.7" cy="730.6" r="2.1"/>
<circle cx="375.6" cy="720.5" r="2.1"/>
<circle cx="279.0" cy="748.4" r="2.1"/>
<circle cx="368.1" cy="722.9" r="2.1"/>
<circle cx="287.9" cy="681.0" r="2.1"/>
<circle cx="348.8" cy="711.6" r="2.1"/>
<circle cx="171.0" cy="707.3" r="2.1"/>
<circle cx="267.0" cy="683.9" r="2.1"/>
<circle cx="293.4" cy="719.3" r="2.1"/>
<circle cx="285.2" cy="672.4" r="2.1"/>
<circle cx="263.7" cy="724.3" r="2.1"/>
<circle cx="266.9" cy="689.0" r="2.1"/>
<circle cx="301.2" cy="677.0" r="2.1"/>
<circle cx="333.2" cy="707.6" r="2.1"/>
<circle cx="305.9" cy="754.5" r="2.1"/>
<circle cx="353.7" cy="726.3" r="2.1"/>
<circle cx="262.2" cy="711.3" r="2.1"/>
<circle cx="366.7" cy="761.0" r="2.1"/>
<circle cx="224.9" cy="719.5" r="2.1"/>
<circle cx="289.9" cy="691.6" r="2.1"/>
<circle cx="342.8" cy="731.0" r="2.1"/>
<circle cx="230.8" cy="711.9" r="2.1"/>
<circle cx="385.2" cy="722.1" r="2.1"/>
<circle cx="384.4" cy="744.2" r="2.1"/>
<circle cx="211.4" cy="615.0" r="2.1"/>
<circle cx="309.0" cy="688.9" r="2.1"/>
<circle cx="374.5" cy="687.4" r="2.1"/>
<circle cx="321.8" cy="744.7" r="2.1"/>
<circle cx="343.3" cy="713.9" r="2.1"/>
<circle cx="373.6" cy="697.2" r="2.1"/>
<circle cx="302.4" cy="661.6" r="2.1"/>
<circle cx="354.4" cy="698.6" r="2.1"/>
<circle cx="292.7" cy="691.0" r="2.1"/>
<circle cx="398.8" cy="712.6" r="2.1"/>
<circle cx="231.5" cy="731.0" r="2.1"/>
<circle cx="340.4" cy="699.2" r="2.1"/>
<circle cx="314.2" cy="741.0" r="2.1"/>
<circle cx="281.0" cy="710.8" r="2.1"/>
<circle cx="343.5" cy="789.7" r="2.1"/>
<circle cx="337.5" cy="731.8" r="2.1"/>
<circle cx="179.8" cy="665.1" r="2.1"/>
<circle cx="298.5" cy="751.3" r="2.1"/>
<circle cx="395.4" cy="738.1" r="2.1"/>
<circle cx="401.6" cy="734.9" r="2.1"/>
<circle cx="299.2" cy="734.6" r="2.1"/>
<circle cx="223.6" cy="690.1" r="2.1"/>
<circle cx="277.9" cy="674.5" r="2.1"/>
<circle cx="310.1" cy="810.1" r="2.1"/>
<circle cx="373.1" cy="709.9" r="2.1"/>
<circle cx="279.6" cy="689.3" r="2.1"/>
<circle cx="237.4" cy="735.4" r="2.1"/>
<circle cx="258.6" cy="682.6" r="2.1"/>
<circle cx="309.3" cy="726.5" r="2.1"/>
<circle cx="303.0" cy="695.8" r="2.1"/>
<circle cx="250.6" cy="700.0" r="2.1"/>
<circle cx="269.2" cy="756.9" r="2.1"/>
<circle cx="352.8" cy="737.2" r="2.1"/>
<circle cx="263.9" cy="694.9" r="2.1"/>
<circle cx="347.6" cy="741.8" r="2.1"/>
<circle cx="325.7" cy="736.4" r="2.1"/>
<circle cx="385.3" cy="743.3" r="2.1"/>
<circle cx="260.8" cy="681.0" r="2.1"/>
<circle cx="356.6" cy="703.2" r="2.1"/>
<circle cx="270.1" cy="692.0" r="2.1"/>
<circle cx="246.2" cy="770.5" r="2.1"/>
<circle cx="305.5" cy="724.0" r="2.1"/>
<circle cx="317.6" cy="723.9" r="2.1"/>
<circle cx="251.2" cy="707.9" r="2.1"/>
<circle cx="191.0" cy="630.0" r="2.1"/>
<circle cx="358.7" cy="747.4" r="2.1"/>
<circle cx="338.8" cy="695.6" r="2.1"/>
<circle cx="318.3" cy="725.0" r="2.1"/>
<circle cx="368.8" cy="743.7" r="2.1"/>
<circle cx="277.7" cy="669.0" r="2.1"/>
<circle cx="259.1" cy="711.8" r="2.1"/>
<circle cx="306.2" cy="733.4" r="2.1"/>
<circle cx="276.3" cy="696.8" r="2.1"/>
<circle cx="366.8" cy="726.2" r="2.1"/>
<circle cx="307.8" cy="742.4" r="2.1"/>
<circle cx="245.3" cy="669.1" r="2.1"/>
<circle cx="360.8" cy="704.0" r="2.1"/>
<circle cx="366.8" cy="747.3" r="2.1"/>
<circle cx="355.7" cy="745.7" r="2.1"/>
<circle cx="285.1" cy="687.4" r="2.1"/>
<circle cx="333.6" cy="677.5" r="2.1"/>
<circle cx="285.9" cy="735.2" r="2.1"/>
<circle cx="284.8" cy="763.3" r="2.1"/>
<circle cx="336.5" cy="692.0" r="2.1"/>
<circle cx="315.2" cy="729.4" r="2.1"/>
<circle cx="376.8" cy="730.5" r="2.1"/>
<circle cx="319.8" cy="687.7" r="2.1"/>
<circle cx="286.4" cy="728.3" r="2.1"/>
<circle cx="340.1" cy="776.4" r="2.1"/>
<circle cx="342.1" cy="710.6" r="2.1"/>
<circle cx="306.3" cy="740.9" r="2.1"/>
<circle cx="232.3" cy="688.7" r="2.1"/>
<circle cx="266.8" cy="720.6" r="2.1"/>
<circle cx="323.1" cy="722.4" r="2.1"/>
<circle cx="262.7" cy="683.3" r="2.1"/>
<circle cx="278.2" cy="717.7" r="2.1"/>
<circle cx="316.0" cy="810.5" r="2.1"/>
<circle cx="333.8" cy="623.3" r="2.1"/>
<circle cx="304.6" cy="718.9" r="2.1"/>
<circle cx="345.9" cy="743.1" r="2.1"/>
<circle cx="255.3" cy="687.8" r="2.1"/>
<circle cx="342.1" cy="690.8" r="2.1"/>
<circle cx="318.0" cy="746.2" r="2.1"/>
<circle cx="270.2" cy="681.6" r="2.1"/>
<circle cx="306.8" cy="683.1" r="2.1"/>
<circle cx="289.2" cy="742.9" r="2.1"/>
<circle cx="387.2" cy="724.0" r="2.1"/>
<circle cx="409.5" cy="755.7" r="2.1"/>
<circle cx="253.0" cy="706.1" r="2.1"/>
<circle cx="388.4" cy="751.0" r="2.1"/>
<circle cx="377.2" cy="785.6" r="2.1"/>
<circle cx="316.3" cy="688.9" r="2.1"/>
<circle cx="260.1" cy="693.7" r="2.1"/>
<circle cx="250.2" cy="690.9" r="2.1"/>
<circle cx="257.3" cy="689.5" r="2.1"/>
<circle cx="317.2" cy="717.2" r="2.1"/>
<circle cx="194.5" cy="692.8" r="2.1"/>
<circle cx="352.7" cy="751.0" r="2.1"/>
<circle cx="347.4" cy="690.5" r="2.1"/>
<circle cx="300.7" cy="690.9" r="2.1"/>
<circle cx="314.0" cy="719.5" r="2.1"/>
<circle cx="335.2" cy="712.4" r="2.1"/>
<circle cx="314.9" cy="686.3" r="2.1"/>
<circle cx="320.7" cy="729.9" r="2.1"/>
<circle cx="447.6" cy="747.3" r="2.1"/>
<circle cx="378.5" cy="689.3" r="2.1"/>
<circle cx="249.3" cy="747.3" r="2.1"/>
<circle cx="345.0" cy="746.2" r="2.1"/>
<circle cx="362.6" cy="688.0" r="2.1"/>
<circle cx="334.4" cy="766.3" r="2.1"/>
<circle cx="265.7" cy="738.7" r="2.1"/>
<circle cx="309.6" cy="704.1" r="2.1"/>
<circle cx="323.4" cy="764.0" r="2.1"/>
<circle cx="390.9" cy="755.5" r="2.1"/>
<circle cx="316.3" cy="765.6" r="2.1"/>
<circle cx="354.1" cy="763.9" r="2.1"/>
<circle cx="341.9" cy="756.3" r="2.1"/>
<circle cx="347.2" cy="750.3" r="2.1"/>
<circle cx="314.6" cy="731.6" r="2.1"/>
<circle cx="285.5" cy="679.4" r="2.1"/>
<circle cx="249.5" cy="686.5" r="2.1"/>
<circle cx="282.9" cy="694.7" r="2.1"/>
<circle cx="388.2" cy="747.3" r="2.1"/>
<circle cx="308.6" cy="768.7" r="2.1"/>
<circle cx="400.4" cy="721.8" r="2.1"/>
<circle cx="287.2" cy="716.3" r="2.1"/>
<circle cx="339.0" cy="710.9" r="2.1"/>
<circle cx="299.5" cy="696.4" r="2.1"/>
<circle cx="353.4" cy="737.9" r="2.1"/>
<circle cx="369.2" cy="706.4" r="2.1"/>
<circle cx="412.0" cy="748.3" r="2.1"/>
<circle cx="318.9" cy="780.6" r="2.1"/>
<circle cx="305.6" cy="726.3" r="2.1"/>
<circle cx="265.7" cy="677.3" r="2.1"/>
<circle cx="257.1" cy="687.4" r="2.1"/>
<circle cx="359.7" cy="698.1" r="2.1"/>
<circle cx="277.3" cy="767.3" r="2.1"/>
<circle cx="270.9" cy="696.6" r="2.1"/>
<circle cx="287.7" cy="737.0" r="2.1"/>
<circle cx="348.8" cy="719.1" r="2.1"/>
<circle cx="176.5" cy="729.4" r="2.1"/>
<circle cx="318.1" cy="677.9" r="2.1"/>
<circle cx="420.6" cy="727.0" r="2.1"/>
<circle cx="301.4" cy="708.6" r="2.1"/>
<circle cx="265.0" cy="740.4" r="2.1"/>
<circle cx="252.2" cy="695.7" r="2.1"/>
<circle cx="404.6" cy="747.8" r="2.1"/>
<circle cx="298.7" cy="690.2" r="2.1"/>
<circle cx="271.1" cy="631.4" r="2.1"/>
<circle cx="321.0" cy="663.2" r="2.1"/>
<circle cx="236.7" cy="716.3" r="2.1"/>
<circle cx="263.9" cy="667.0" r="2.1"/>
<circle cx="359.2" cy="774.5" r="2.1"/>
<circle cx="385.3" cy="708.3" r="2.1"/>
<circle cx="258.3" cy="699.7" r="2.1"/>
<circle cx="357.2" cy="713.3" r="2.1"/>
<circle cx="276.0" cy="695.9" r="2.1"/>
<circle cx="279.0" cy="698.9" r="2.1"/>
<circle cx="276.3" cy="732.6" r="2.1"/>
<circle cx="295.6" cy="721.1" r="2.1"/>
<circle cx="274.9" cy="697.5" r="2.1"/>
<circle cx="289.4" cy="734.7" r="2.1"/>
<circle cx="288.6" cy="738.2" r="2.1"/>
<circle cx="293.5" cy="699.6" r="2.1"/>
<circle cx="363.8" cy="754.3" r="2.1"/>
<circle cx="291.8" cy="677.5" r="2.1"/>
<circle cx="294.1" cy="624.5" r="2.1"/>
<circle cx="439.7" cy="750.4" r="2.1"/>
<circle cx="333.3" cy="685.0" r="2.1"/>
<circle cx="307.7" cy="736.5" r="2.1"/>
<circle cx="277.8" cy="690.6" r="2.1"/>
<circle cx="347.0" cy="812.9" r="2.1"/>
<circle cx="288.9" cy="728.4" r="2.1"/>
<circle cx="279.5" cy="776.0" r="2.1"/>
<circle cx="225.1" cy="663.6" r="2.1"/>
<circle cx="371.6" cy="737.7" r="2.1"/>
<circle cx="329.4" cy="676.7" r="2.1"/>
<circle cx="344.7" cy="751.1" r="2.1"/>
<circle cx="342.7" cy="730.0" r="2.1"/>
<circle cx="391.6" cy="724.4" r="2.1"/>
<circle cx="263.7" cy="687.3" r="2.1"/>
<circle cx="293.8" cy="687.4" r="2.1"/>
<circle cx="378.4" cy="745.5" r="2.1"/>
<circle cx="322.3" cy="690.9" r="2.1"/>
<circle cx="260.3" cy="677.7" r="2.1"/>
<circle cx="379.4" cy="686.7" r="2.1"/>
<circle cx="359.7" cy="713.2" r="2.1"/>
<circle cx="290.9" cy="699.5" r="2.1"/>
<circle cx="274.1" cy="709.2" r="2.1"/>
<circle cx="235.4" cy="713.1" r="2.1"/>
<circle cx="304.9" cy="677.2" r="2.1"/>
<circle cx="405.1" cy="809.0" r="2.1"/>
<circle cx="354.6" cy="710.6" r="2.1"/>
<circle cx="354.2" cy="761.2" r="2.1"/>
<circle cx="307.9" cy="754.5" r="2.1"/>
<circle cx="298.7" cy="692.7" r="2.1"/>
<circle cx="393.5" cy="719.1" r="2.1"/>
<circle cx="251.1" cy="697.3" r="2.1"/>
<circle cx="246.7" cy="682.2" r="2.1"/>
<circle cx="370.0" cy="714.1" r="2.1"/>
<circle cx="317.4" cy="725.2" r="2.1"/>
<circle cx="343.2" cy="726.6" r="2.1"/>
<circle cx="329.0" cy="701.7" r="2.1"/>
<circle cx="381.0" cy="767.8" r="2.1"/>
<circle cx="323.5" cy="760.1" r="2.1"/>
<circle cx="352.0" cy="725.3" r="2.1"/>
<circle cx="261.0" cy="656.5" r="2.1"/>
<circle cx="277.4" cy="689.5" r="2.1"/>
<circle cx="325.4" cy="670.2" r="2.1"/>
<circle cx="363.9" cy="694.3" r="2.1"/>
<circle cx="391.1" cy="726.1" r="2.1"/>
<circle cx="289.5" cy="700.9" r="2.1"/>
<circle cx="338.6" cy="763.3" r="2.1"/>
<circle cx="318.1" cy="663.2" r="2.1"/>
<circle cx="199.0" cy="613.7" r="2.1"/>
<circle cx="394.4" cy="715.9" r="2.1"/>
<circle cx="347.2" cy="761.6" r="2.1"/>
<circle cx="266.7" cy="719.4" r="2.1"/>
<circle cx="354.3" cy="779.5" r="2.1"/>
<circle cx="310.7" cy="671.3" r="2.1"/>
<circle cx="265.2" cy="662.0" r="2.1"/>
<circle cx="310.3" cy="705.5" r="2.1"/>
<circle cx="309.6" cy="706.9" r="2.1"/>
<circle cx="247.0" cy="722.5" r="2.1"/>
<circle cx="239.8" cy="704.6" r="2.1"/>
<circle cx="395.0" cy="719.2" r="2.1"/>
<circle cx="243.5" cy="690.3" r="2.1"/>
<circle cx="376.2" cy="683.9" r="2.1"/>
<circle cx="309.9" cy="737.1" r="2.1"/>
<circle cx="165.5" cy="727.6" r="2.1"/>
<circle cx="272.6" cy="668.5" r="2.1"/>
<circle cx="361.4" cy="696.0" r="2.1"/>
<circle cx="249.9" cy="699.1" r="2.1"/>
<circle cx="210.9" cy="695.0" r="2.1"/>
<circle cx="353.3" cy="764.2" r="2.1"/>
<circle cx="237.5" cy="672.4" r="2.1"/>
<circle cx="317.2" cy="728.3" r="2.1"/>
<circle cx="318.4" cy="695.7" r="2.1"/>
<circle cx="311.7" cy="682.8" r="2.1"/>
<circle cx="284.0" cy="767.9" r="2.1"/>
<circle cx="317.4" cy="676.1" r="2.1"/>
<circle cx="328.2" cy="693.7" r="2.1"/>
<circle cx="287.3" cy="734.8" r="2.1"/>
<circle cx="328.1" cy="708.6" r="2.1"/>
<circle cx="341.1" cy="737.4" r="2.1"/>
<circle cx="312.8" cy="749.2" r="2.1"/>
<circle cx="252.1" cy="706.9" r="2.1"/>
<circle cx="242.3" cy="660.7" r="2.1"/>
<circle cx="282.3" cy="735.6" r="2.1"/>
<circle cx="266.0" cy="778.3" r="2.1"/>
<circle cx="280.5" cy="756.0" r="2.1"/>
<circle cx="253.6" cy="669.8" r="2.1"/>
<circle cx="361.9" cy="750.3" r="2.1"/>
<circle cx="269.1" cy="661.9" r="2.1"/>
<circle cx="372.6" cy="756.2" r="2.1"/>
<circle cx="252.0" cy="664.0" r="2.1"/>
<circle cx="391.8" cy="697.0" r="2.1"/>
<circle cx="381.1" cy="718.5" r="2.1"/>
<circle cx="296.3" cy="714.6" r="2.1"/>
<circle cx="415.6" cy="739.0" r="2.1"/>
<circle cx="282.9" cy="653.8" r="2.1"/>
<circle cx="351.9" cy="745.9" r="2.1"/>
<circle cx="288.3" cy="645.0" r="2.1"/>
<circle cx="216.5" cy="724.2" r="2.1"/>
<circle cx="315.2" cy="732.1" r="2.1"/>
<circle cx="215.8" cy="714.0" r="2.1"/>
<circle cx="333.3" cy="694.5" r="2.1"/>
<circle cx="375.9" cy="773.8" r="2.1"/>
<circle cx="331.4" cy="710.2" r="2.1"/>
<circle cx="259.8" cy="680.8" r="2.1"/>
<circle cx="421.2" cy="741.7" r="2.1"/>
<circle cx="343.1" cy="746.9" r="2.1"/>
<circle cx="281.2" cy="758.8" r="2.1"/>
<circle cx="322.4" cy="679.4" r="2.1"/>
<circle cx="236.2" cy="688.9" r="2.1"/>
<circle cx="344.7" cy="671.5" r="2.1"/>
<circle cx="273.0" cy="685.4" r="2.1"/>
<circle cx="284.3" cy="719.9" r="2.1"/>
<circle cx="243.1" cy="714.5" r="2.1"/>
<circle cx="272.7" cy="729.8" r="2.1"/>
<circle cx="331.6" cy="749.9" r="2.1"/>
<circle cx="223.9" cy="692.6" r="2.1"/>
<circle cx="321.4" cy="733.6" r="2.1"/>
<circle cx="329.2" cy="656.9" r="2.1"/>
<circle cx="365.1" cy="741.0" r="2.1"/>
<circle cx="285.9" cy="754.8" r="2.1"/>
<circle cx="330.1" cy="724.9" r="2.1"/>
<circle cx="342.2" cy="696.1" r="2.1"/>
<circle cx="273.7" cy="765.3" r="2.1"/>
<circle cx="329.6" cy="700.5" r="2.1"/>
<circle cx="226.7" cy="647.4" r="2.1"/>
<circle cx="307.9" cy="720.2" r="2.1"/>
<circle cx="354.1" cy="736.7" r="2.1"/>
<circle cx="292.6" cy="680.4" r="2.1"/>
<circle cx="308.6" cy="700.7" r="2.1"/>
<circle cx="295.8" cy="716.1" r="2.1"/>
<circle cx="346.0" cy="717.2" r="2.1"/>
<circle cx="289.1" cy="781.7" r="2.1"/>
<circle cx="365.7" cy="683.2" r="2.1"/>
<circle cx="335.9" cy="685.2" r="2.1"/>
<circle cx="307.5" cy="702.3" r="2.1"/>
<circle cx="304.0" cy="735.5" r="2.1"/>
<circle cx="316.8" cy="721.6" r="2.1"/>
<circle cx="443.9" cy="688.2" r="2.1"/>
<circle cx="287.3" cy="696.6" r="2.1"/>
<circle cx="259.1" cy="673.3" r="2.1"/>
<circle cx="241.8" cy="680.2" r="2.1"/>
<circle cx="230.2" cy="658.4" r="2.1"/>
<circle cx="361.3" cy="725.2" r="2.1"/>
<circle cx="368.8" cy="723.5" r="2.1"/>
<circle cx="389.6" cy="757.4" r="2.1"/>
<circle cx="378.5" cy="716.9" r="2.1"/>
<circle cx="378.7" cy="714.1" r="2.1"/>
<circle cx="267.1" cy="731.7" r="2.1"/>
<circle cx="261.1" cy="671.9" r="2.1"/>
<circle cx="206.0" cy="654.6" r="2.1"/>
<circle cx="351.8" cy="686.7" r="2.1"/>
<circle cx="324.6" cy="675.4" r="2.1"/>
<circle cx="298.7" cy="815.7" r="2.1"/>
<circle cx="252.9" cy="710.3" r="2.1"/>
<circle cx="270.8" cy="669.0" r="2.1"/>
<circle cx="297.7" cy="746.9" r="2.1"/>
<circle cx="258.9" cy="711.9" r="2.1"/>
<circle cx="293.4" cy="717.4" r="2.1"/>
<circle cx="237.1" cy="756.3" r="2.1"/>
<circle cx="355.3" cy="713.2" r="2.1"/>
<circle cx="302.4" cy="652.4" r="2.1"/>
<circle cx="294.8" cy="694.8" r="2.1"/>
<circle cx="228.6" cy="650.6" r="2.1"/>
<circle cx="289.3" cy="696.0" r="2.1"/>
<circle cx="363.6" cy="720.9" r="2.1"/>
<circle cx="275.4" cy="790.8" r="2.1"/>
<circle cx="365.5" cy="694.8" r="2.1"/>
<circle cx="290.6" cy="713.7" r="2.1"/>
<circle cx="369.9" cy="752.4" r="2.1"/>
<circle cx="364.5" cy="736.2" r="2.1"/>
<circle cx="272.2" cy="743.2" r="2.1"/>
<circle cx="315.5" cy="774.5" r="2.1"/>
<circle cx="291.8" cy="760.0" r="2.1"/>
<circle cx="285.1" cy="773.1" r="2.1"/>
<circle cx="350.8" cy="694.6" r="2.1"/>
<circle cx="235.8" cy="711.5" r="2.1"/>
<circle cx="303.7" cy="653.0" r="2.1"/>
<circle cx="243.5" cy="692.7" r="2.1"/>
<circle cx="360.4" cy="693.3" r="2.1"/>
<circle cx="347.8" cy="691.3" r="2.1"/>
<circle cx="230.0" cy="743.0" r="2.1"/>
<circle cx="195.8" cy="734.4" r="2.1"/>
<circle cx="318.4" cy="753.8" r="2.1"/>
<circle cx="301.6" cy="706.7" r="2.1"/>
<circle cx="287.1" cy="658.1" r="2.1"/>
<circle cx="326.0" cy="663.7" r="2.1"/>
<circle cx="357.2" cy="695.1" r="2.1"/>
<circle cx="371.3" cy="733.5" r="2.1"/>
<circle cx="238.2" cy="717.4" r="2.1"/>
<circle cx="261.7" cy="672.3" r="2.1"/>
<circle cx="329.4" cy="742.1" r="2.1"/>
<circle cx="392.7" cy="756.1" r="2.1"/>
<circle cx="381.9" cy="721.1" r="2.1"/>
<circle cx="398.0" cy="760.9" r="2.1"/>
<circle cx="319.3" cy="757.4" r="2.1"/>
<circle cx="314.2" cy="767.3" r="2.1"/>
<circle cx="366.4" cy="747.4" r="2.1"/>
<circle cx="323.6" cy="735.3" r="2.1"/>
<circle cx="237.1" cy="678.3" r="2.1"/>
<circle cx="311.4" cy="774.2" r="2.1"/>
<circle cx="273.5" cy="736.7" r="2.1"/>
<circle cx="292.4" cy="674.4" r="2.1"/>
<circle cx="350.3" cy="733.1" r="2.1"/>
<circle cx="355.1" cy="707.8" r="2.1"/>
<circle cx="278.6" cy="730.1" r="2.1"/>
<circle cx="280.5" cy="719.0" r="2.1"/>
<circle cx="338.2" cy="719.5" r="2.1"/>
<circle cx="251.7" cy="763.9" r="2.1"/>
<circle cx="261.8" cy="685.3" r="2.1"/>
<circle cx="296.9" cy="713.7" r="2.1"/>
<circle cx="293.5" cy="736.3" r="2.1"/>
<circle cx="365.9" cy="710.0" r="2.1"/>
<circle cx="386.9" cy="744.8" r="2.1"/>
<circle cx="261.8" cy="709.5" r="2.1"/>
<circle cx="342.8" cy="697.7" r="2.1"/>
<circle cx="341.9" cy="716.2" r="2.1"/>
<circle cx="314.0" cy="716.1" r="2.1"/>
<circle cx="382.7" cy="709.0" r="2.1"/>
<circle cx="190.9" cy="720.3" r="2.1"/>
<circle cx="297.1" cy="750.2" r="2.1"/>
<circle cx="452.1" cy="784.3" r="2.1"/>
<circle cx="285.9" cy="733.6" r="2.1"/>
<circle cx="303.6" cy="720.0" r="2.1"/>
<circle cx="365.7" cy="729.3" r="2.1"/>
<circle cx="389.1" cy="762.3" r="2.1"/>
<circle cx="216.2" cy="748.1" r="2.1"/>
<circle cx="322.5" cy="688.2" r="2.1"/>
<circle cx="275.0" cy="707.8" r="2.1"/>
<circle cx="256.0" cy="656.6" r="2.1"/>
<circle cx="342.0" cy="765.7" r="2.1"/>
<circle cx="340.8" cy="720.6" r="2.1"/>
<circle cx="406.8" cy="715.6" r="2.1"/>
<circle cx="398.4" cy="741.0" r="2.1"/>
<circle cx="246.4" cy="692.9" r="2.1"/>
<circle cx="293.4" cy="690.5" r="2.1"/>
<circle cx="265.6" cy="659.4" r="2.1"/>
<circle cx="283.0" cy="687.4" r="2.1"/>
<circle cx="388.4" cy="751.4" r="2.1"/>
<circle cx="257.3" cy="697.1" r="2.1"/>
<circle cx="283.0" cy="690.0" r="2.1"/>
<circle cx="302.0" cy="786.8" r="2.1"/>
<circle cx="286.4" cy="775.5" r="2.1"/>
<circle cx="335.2" cy="743.4" r="2.1"/>
<circle cx="425.4" cy="729.0" r="2.1"/>
<circle cx="293.9" cy="726.8" r="2.1"/>
<circle cx="351.2" cy="722.7" r="2.1"/>
<circle cx="268.1" cy="664.7" r="2.1"/>
<circle cx="310.9" cy="715.7" r="2.1"/>
<circle cx="338.3" cy="730.0" r="2.1"/>
<circle cx="319.4" cy="661.9" r="2.1"/>
<circle cx="366.7" cy="711.9" r="2.1"/>
<circle cx="291.9" cy="724.0" r="2.1"/>
<circle cx="269.3" cy="654.9" r="2.1"/>
<circle cx="299.3" cy="699.2" r="2.1"/>
<circle cx="208.3" cy="705.3" r="2.1"/>
<circle cx="324.6" cy="751.9" r="2.1"/>
<circle cx="346.2" cy="795.5" r="2.1"/>
<circle cx="247.7" cy="708.3" r="2.1"/>
<circle cx="331.0" cy="751.1" r="2.1"/>
<circle cx="313.4" cy="672.5" r="2.1"/>
<circle cx="353.2" cy="675.3" r="2.1"/>
<circle cx="291.5" cy="737.7" r="2.1"/>
<circle cx="211.8" cy="742.3" r="2.1"/>
<circle cx="270.7" cy="681.8" r="2.1"/>
<circle cx="247.5" cy="706.2" r="2.1"/>
<circle cx="327.5" cy="773.4" r="2.1"/>
<circle cx="367.5" cy="737.3" r="2.1"/>
<circle cx="284.8" cy="672.1" r="2.1"/>
<circle cx="355.6" cy="707.4" r="2.1"/>
<circle cx="387.2" cy="727.5" r="2.1"/>
<circle cx="300.3" cy="722.9" r="2.1"/>
<circle cx="237.1" cy="716.8" r="2.1"/>
<circle cx="402.5" cy="729.2" r="2.1"/>
<circle cx="408.2" cy="733.8" r="2.1"/>
<circle cx="315.5" cy="709.9" r="2.1"/>
<circle cx="371.9" cy="698.4" r="2.1"/>
<circle cx="357.6" cy="705.0" r="2.1"/>
<circle cx="285.4" cy="667.4" r="2.1"/>
<circle cx="275.1" cy="685.1" r="2.1"/>
<circle cx="234.6" cy="690.8" r="2.1"/>
<circle cx="304.0" cy="752.5" r="2.1"/>
<circle cx="274.5" cy="747.5" r="2.1"/>
<circle cx="319.2" cy="799.4" r="2.1"/>
<circle cx="303.9" cy="678.0" r="2.1"/>
<circle cx="350.7" cy="763.3" r="2.1"/>
<circle cx="268.1" cy="668.1" r="2.1"/>
<circle cx="277.4" cy="701.5" r="2.1"/>
<circle cx="332.4" cy="727.8" r="2.1"/>
<circle cx="251.1" cy="714.1" r="2.1"/>
<circle cx="381.1" cy="714.9" r="2.1"/>
<circle cx="281.0" cy="685.2" r="2.1"/>
<circle cx="335.7" cy="701.3" r="2.1"/>
<circle cx="242.4" cy="709.6" r="2.1"/>
<circle cx="290.5" cy="698.5" r="2.1"/>
<circle cx="307.0" cy="710.8" r="2.1"/>
<circle cx="439.7" cy="804.9" r="2.1"/>
<circle cx="353.7" cy="702.8" r="2.1"/>
<circle cx="377.6" cy="723.2" r="2.1"/>
<circle cx="312.4" cy="749.1" r="2.1"/>
<circle cx="154.5" cy="663.3" r="2.1"/>
<circle cx="393.0" cy="777.6" r="2.1"/>
<circle cx="367.7" cy="664.4" r="2.1"/>
<circle cx="264.1" cy="724.1" r="2.1"/>
<circle cx="339.6" cy="748.4" r="2.1"/>
<circle cx="301.8" cy="749.2" r="2.1"/>
<circle cx="380.5" cy="744.2" r="2.1"/>
<circle cx="326.9" cy="697.8" r="2.1"/>
<circle cx="279.6" cy="752.0" r="2.1"/>
<circle cx="382.8" cy="771.4" r="2.1"/>
<circle cx="302.7" cy="675.6" r="2.1"/>
<circle cx="319.7" cy="722.0" r="2.1"/>
<circle cx="375.1" cy="747.3" r="2.1"/>
<circle cx="361.8" cy="705.1" r="2.1"/>
<circle cx="247.3" cy="695.2" r="2.1"/>
<circle cx="301.8" cy="695.6" r="2.1"/>
<circle cx="294.1" cy="695.4" r="2.1"/>
<circle cx="290.3" cy="709.5" r="2.1"/>
<circle cx="227.7" cy="650.1" r="2.1"/>
<circle cx="340.8" cy="756.5" r="2.1"/>
<circle cx="316.9" cy="770.6" r="2.1"/>
<circle cx="380.1" cy="768.8" r="2.1"/>
<circle cx="251.9" cy="757.2" r="2.1"/>
<circle cx="216.0" cy="695.1" r="2.1"/>
<circle cx="289.7" cy="678.5" r="2.1"/>
<circle cx="411.2" cy="765.3" r="2.1"/>
<circle cx="356.6" cy="732.0" r="2.1"/>
<circle cx="340.2" cy="711.2" r="2.1"/>
<circle cx="325.6" cy="696.5" r="2.1"/>
<circle cx="355.2" cy="752.3" r="2.1"/>
<circle cx="350.9" cy="756.8" r="2.1"/>
<circle cx="389.3" cy="740.9" r="2.1"/>
<circle cx="239.9" cy="679.5" r="2.1"/>
<circle cx="312.2" cy="785.6" r="2.1"/>
<circle cx="360.3" cy="717.2" r="2.1"/>
<circle cx="249.4" cy="650.9" r="2.1"/>
<circle cx="276.9" cy="734.2" r="2.1"/>
<circle cx="318.5" cy="769.5" r="2.1"/>
<circle cx="244.0" cy="721.3" r="2.1"/>
<circle cx="318.7" cy="676.0" r="2.1"/>
<circle cx="364.6" cy="712.4" r="2.1"/>
<circle cx="266.7" cy="754.8" r="2.1"/>
<circle cx="232.5" cy="697.5" r="2.1"/>
<circle cx="314.5" cy="676.7" r="2.1"/>
<circle cx="339.7" cy="760.4" r="2.1"/>
<circle cx="252.9" cy="716.4" r="2.1"/>
<circle cx="374.6" cy="709.2" r="2.1"/>
<circle cx="310.5" cy="775.3" r="2.1"/>
<circle cx="370.2" cy="795.1" r="2.1"/>
<circle cx="201.4" cy="681.9" r="2.1"/>
<circle cx="371.4" cy="690.9" r="2.1"/>
<circle cx="324.3" cy="683.2" r="2.1"/>
<circle cx="277.9" cy="673.8" r="2.1"/>
<circle cx="432.9" cy="745.3" r="2.1"/>
<circle cx="299.1" cy="712.6" r="2.1"/>
<circle cx="334.4" cy="724.5" r="2.1"/>
<circle cx="448.1" cy="771.5" r="2.1"/>
<circle cx="272.5" cy="760.9" r="2.1"/>
<circle cx="321.5" cy="687.1" r="2.1"/>
<circle cx="240.2" cy="681.4" r="2.1"/>
<circle cx="287.7" cy="611.6" r="2.1"/>
<circle cx="200.9" cy="684.5" r="2.1"/>
<circle cx="359.7" cy="714.0" r="2.1"/>
<circle cx="371.8" cy="729.7" r="2.1"/>
<circle cx="382.1" cy="711.7" r="2.1"/>
<circle cx="314.4" cy="765.8" r="2.1"/>
<circle cx="362.0" cy="743.8" r="2.1"/>
<circle cx="286.2" cy="739.9" r="2.1"/>
<circle cx="396.2" cy="747.7" r="2.1"/>
<circle cx="356.9" cy="747.6" r="2.1"/>
<circle cx="293.0" cy="710.9" r="2.1"/>
<circle cx="311.3" cy="796.2" r="2.1"/>
<circle cx="398.8" cy="732.9" r="2.1"/>
<circle cx="264.6" cy="623.2" r="2.1"/>
<circle cx="400.9" cy="777.7" r="2.1"/>
<circle cx="273.5" cy="798.7" r="2.1"/>
<circle cx="388.4" cy="738.7" r="2.1"/>
<circle cx="348.4" cy="816.3" r="2.1"/>
<circle cx="330.2" cy="694.3" r="2.1"/>
<circle cx="308.9" cy="760.7" r="2.1"/>
<circle cx="344.3" cy="726.5" r="2.1"/>
<circle cx="322.1" cy="753.7" r="2.1"/>
<circle cx="300.7" cy="683.0" r="2.1"/>
<circle cx="294.7" cy="716.3" r="2.1"/>
<circle cx="270.4" cy="666.6" r="2.1"/>
<circle cx="384.4" cy="768.5" r="2.1"/>
<circle cx="240.4" cy="655.7" r="2.1"/>
<circle cx="321.0" cy="781.1" r="2.1"/>
<circle cx="333.1" cy="768.2" r="2.1"/>
<circle cx="243.0" cy="722.1" r="2.1"/>
<circle cx="161.4" cy="654.4" r="2.1"/>
<circle cx="320.6" cy="716.1" r="2.1"/>
<circle cx="276.8" cy="745.3" r="2.1"/>
<circle cx="249.0" cy="672.4" r="2.1"/>
<circle cx="298.2" cy="713.5" r="2.1"/>
<circle cx="354.8" cy="760.0" r="2.1"/>
<circle cx="367.0" cy="693.0" r="2.1"/>
<circle cx="371.1" cy="723.0" r="2.1"/>
<circle cx="285.2" cy="682.4" r="2.1"/>
<circle cx="253.7" cy="703.3" r="2.1"/>
<circle cx="313.5" cy="744.2" r="2.1"/>
<circle cx="389.1" cy="757.4" r="2.1"/>
<circle cx="263.3" cy="709.7" r="2.1"/>
<circle cx="303.9" cy="700.7" r="2.1"/>
<circle cx="305.7" cy="691.7" r="2.1"/>
<circle cx="349.9" cy="715.9" r="2.1"/>
<circle cx="255.5" cy="710.2" r="2.1"/>
<circle cx="281.3" cy="757.8" r="2.1"/>
<circle cx="421.7" cy="772.8" r="2.1"/>
<circle cx="308.9" cy="661.1" r="2.1"/>
<circle cx="425.2" cy="689.3" r="2.1"/>
<circle cx="274.7" cy="671.6" r="2.1"/>
<circle cx="325.3" cy="708.3" r="2.1"/>
<circle cx="247.3" cy="695.5" r="2.1"/>
<circle cx="336.2" cy="674.2" r="2.1"/>
<circle cx="372.5" cy="728.8" r="2.1"/>
<circle cx="326.7" cy="765.3" r="2.1"/>
<circle cx="228.4" cy="658.5" r="2.1"/>
<circle cx="320.5" cy="735.1" r="2.1"/>
<circle cx="304.8" cy="724.3" r="2.1"/>
<circle cx="277.4" cy="705.2" r="2.1"/>
<circle cx="311.7" cy="713.2" r="2.1"/>
<circle cx="263.8" cy="728.0" r="2.1"/>
<circle cx="237.2" cy="725.0" r="2.1"/>
<circle cx="406.0" cy="750.0" r="2.1"/>
<circle cx="328.0" cy="751.5" r="2.1"/>
<circle cx="291.7" cy="680.0" r="2.1"/>
<circle cx="333.5" cy="710.0" r="2.1"/>
<circle cx="301.7" cy="695.7" r="2.1"/>
<circle cx="287.3" cy="681.2" r="2.1"/>
<circle cx="399.7" cy="747.2" r="2.1"/>
<circle cx="272.7" cy="683.6" r="2.1"/>
<circle cx="174.1" cy="762.1" r="2.1"/>
<circle cx="295.7" cy="701.9" r="2.1"/>
<circle cx="401.9" cy="718.3" r="2.1"/>
<circle cx="385.9" cy="718.2" r="2.1"/>
<circle cx="330.9" cy="748.5" r="2.1"/>
<circle cx="392.8" cy="726.1" r="2.1"/>
<circle cx="312.2" cy="712.3" r="2.1"/>
<circle cx="338.1" cy="764.0" r="2.1"/>
<circle cx="275.1" cy="662.1" r="2.1"/>
<circle cx="320.1" cy="755.4" r="2.1"/>
<circle cx="288.5" cy="764.2" r="2.1"/>
<circle cx="313.8" cy="717.0" r="2.1"/>
<circle cx="288.4" cy="702.4" r="2.1"/>
<circle cx="265.5" cy="679.8" r="2.1"/>
<circle cx="273.7" cy="729.5" r="2.1"/>
<circle cx="334.8" cy="703.0" r="2.1"/>
<circle cx="349.2" cy="821.6" r="2.1"/>
<circle cx="286.9" cy="703.6" r="2.1"/>
<circle cx="279.1" cy="716.6" r="2.1"/>
<circle cx="331.7" cy="744.8" r="2.1"/>
<circle cx="298.7" cy="731.8" r="2.1"/>
<circle cx="296.8" cy="718.1" r="2.1"/>
<circle cx="294.0" cy="760.6" r="2.1"/>
<circle cx="287.2" cy="701.6" r="2.1"/>
<circle cx="313.3" cy="708.6" r="2.1"/>
<circle cx="374.5" cy="708.3" r="2.1"/>
<circle cx="428.6" cy="763.5" r="2.1"/>
<circle cx="302.8" cy="719.8" r="2.1"/>
<circle cx="367.4" cy="744.1" r="2.1"/>
<circle cx="309.3" cy="737.5" r="2.1"/>
<circle cx="357.9" cy="804.6" r="2.1"/>
<circle cx="208.8" cy="711.8" r="2.1"/>
<circle cx="269.6" cy="730.9" r="2.1"/>
<circle cx="332.2" cy="762.4" r="2.1"/>
<circle cx="333.1" cy="673.8" r="2.1"/>
<circle cx="379.0" cy="683.2" r="2.1"/>
<circle cx="368.0" cy="729.8" r="2.1"/>
<circle cx="321.4" cy="703.9" r="2.1"/>
<circle cx="384.7" cy="744.9" r="2.1"/>
<circle cx="275.4" cy="690.1" r="2.1"/>
<circle cx="308.8" cy="744.9" r="2.1"/>
<circle cx="322.1" cy="684.9" r="2.1"/>
<circle cx="402.0" cy="723.4" r="2.1"/>
<circle cx="284.4" cy="673.1" r="2.1"/>
<circle cx="304.6" cy="718.5" r="2.1"/>
<circle cx="262.3" cy="674.0" r="2.1"/>
<circle cx="413.7" cy="765.1" r="2.1"/>
<circle cx="443.5" cy="750.4" r="2.1"/>
<circle cx="228.0" cy="666.5" r="2.1"/>
<circle cx="294.4" cy="663.9" r="2.1"/>
<circle cx="268.9" cy="737.7" r="2.1"/>
<circle cx="447.9" cy="726.0" r="2.1"/>
<circle cx="318.1" cy="779.3" r="2.1"/>
<circle cx="318.2" cy="703.8" r="2.1"/>
<circle cx="239.1" cy="716.9" r="2.1"/>
<circle cx="250.0" cy="693.0" r="2.1"/>
<circle cx="226.5" cy="687.3" r="2.1"/>
<circle cx="315.6" cy="732.3" r="2.1"/>
<circle cx="336.5" cy="749.6" r="2.1"/>
<circle cx="352.7" cy="701.1" r="2.1"/>
<circle cx="273.7" cy="686.7" r="2.1"/>
<circle cx="327.0" cy="757.1" r="2.1"/>
<circle cx="323.1" cy="738.3" r="2.1"/>
<circle cx="207.1" cy="693.2" r="2.1"/>
<circle cx="358.9" cy="762.7" r="2.1"/>
<circle cx="271.9" cy="712.1" r="2.1"/>
<circle cx="238.4" cy="730.0" r="2.1"/>
<circle cx="393.9" cy="719.4" r="2.1"/>
<circle cx="270.7" cy="691.4" r="2.1"/>
<circle cx="347.5" cy="748.5" r="2.1"/>
<circle cx="278.6" cy="696.4" r="2.1"/>
<circle cx="292.1" cy="711.7" r="2.1"/>
<circle cx="242.8" cy="761.3" r="2.1"/>
<circle cx="269.0" cy="685.5" r="2.1"/>
<circle cx="336.7" cy="737.4" r="2.1"/>
<circle cx="345.6" cy="757.2" r="2.1"/>
<circle cx="377.7" cy="792.1" r="2.1"/>
<circle cx="310.8" cy="748.0" r="2.1"/>
<circle cx="319.4" cy="715.7" r="2.1"/>
<circle cx="277.1" cy="732.7" r="2.1"/>
<circle cx="381.5" cy="756.4" r="2.1"/>
<circle cx="273.8" cy="757.9" r="2.1"/>
<circle cx="321.6" cy="680.3" r="2.1"/>
<circle cx="307.5" cy="682.7" r="2.1"/>
<circle cx="369.8" cy="706.4" r="2.1"/>
<circle cx="384.2" cy="733.3" r="2.1"/>
<circle cx="321.4" cy="760.1" r="2.1"/>
<circle cx="248.5" cy="720.2" r="2.1"/>
<circle cx="271.5" cy="747.1" r="2.1"/>
<circle cx="293.0" cy="758.9" r="2.1"/>
<circle cx="246.6" cy="761.1" r="2.1"/>
<circle cx="376.5" cy="723.4" r="2.1"/>
<circle cx="388.9" cy="775.2" r="2.1"/>
<circle cx="339.1" cy="761.3" r="2.1"/>
<circle cx="350.2" cy="745.8" r="2.1"/>
<circle cx="372.8" cy="729.1" r="2.1"/>
<circle cx="256.2" cy="710.3" r="2.1"/>
<circle cx="352.6" cy="718.8" r="2.1"/>
<circle cx="300.0" cy="755.5" r="2.1"/>
<circle cx="255.9" cy="734.6" r="2.1"/>
<circle cx="355.8" cy="753.5" r="2.1"/>
<circle cx="330.5" cy="748.8" r="2.1"/>
<circle cx="257.0" cy="690.1" r="2.1"/>
<circle cx="280.9" cy="716.6" r="2.1"/>
<circle cx="286.4" cy="678.3" r="2.1"/>
<circle cx="261.6" cy="720.8" r="2.1"/>
<circle cx="365.7" cy="723.9" r="2.1"/>
<circle cx="262.1" cy="695.6" r="2.1"/>
<circle cx="318.4" cy="637.6" r="2.1"/>
<circle cx="282.5" cy="703.5" r="2.1"/>
<circle cx="305.5" cy="756.6" r="2.1"/>
<circle cx="190.9" cy="727.8" r="2.1"/>
<circle cx="346.5" cy="775.6" r="2.1"/>
<circle cx="345.7" cy="758.2" r="2.1"/>
<circle cx="287.5" cy="718.5" r="2.1"/>
<circle cx="324.9" cy="722.0" r="2.1"/>
<circle cx="347.5" cy="730.2" r="2.1"/>
<circle cx="313.2" cy="719.0" r="2.1"/>
<circle cx="371.3" cy="717.8" r="2.1"/>
<circle cx="294.6" cy="707.0" r="2.1"/>
<circle cx="313.4" cy="687.6" r="2.1"/>
<circle cx="302.1" cy="796.2" r="2.1"/>
<circle cx="386.0" cy="742.0" r="2.1"/>
<circle cx="354.9" cy="751.1" r="2.1"/>
<circle cx="373.0" cy="779.5" r="2.1"/>
<circle cx="358.7" cy="745.5" r="2.1"/>
<circle cx="321.9" cy="699.4" r="2.1"/>
<circle cx="361.6" cy="712.4" r="2.1"/>
<circle cx="440.7" cy="714.9" r="2.1"/>
<circle cx="308.6" cy="754.6" r="2.1"/>
<circle cx="381.6" cy="736.2" r="2.1"/>
<circle cx="320.5" cy="719.0" r="2.1"/>
<circle cx="312.0" cy="682.6" r="2.1"/>
<circle cx="341.0" cy="685.2" r="2.1"/>
<circle cx="269.2" cy="691.5" r="2.1"/>
<circle cx="269.3" cy="818.7" r="2.1"/>
<circle cx="270.2" cy="720.0" r="2.1"/>
<circle cx="275.1" cy="643.7" r="2.1"/>
<circle cx="338.6" cy="671.3" r="2.1"/>
<circle cx="281.7" cy="682.9" r="2.1"/>
<circle cx="275.4" cy="738.5" r="2.1"/>
<circle cx="229.5" cy="672.4" r="2.1"/>
<circle cx="329.1" cy="747.2" r="2.1"/>
<circle cx="303.6" cy="714.5" r="2.1"/>
<circle cx="267.2" cy="726.1" r="2.1"/>
<circle cx="315.7" cy="711.3" r="2.1"/>
<circle cx="352.2" cy="711.6" r="2.1"/>
<circle cx="250.3" cy="707.7" r="2.1"/>
<circle cx="352.1" cy="685.6" r="2.1"/>
<circle cx="328.3" cy="724.3" r="2.1"/>
<circle cx="362.6" cy="723.7" r="2.1"/>
<circle cx="258.2" cy="727.7" r="2.1"/>
<circle cx="282.3" cy="718.5" r="2.1"/>
<circle cx="298.3" cy="758.9" r="2.1"/>
<circle cx="282.0" cy="660.6" r="2.1"/>
<circle cx="359.4" cy="744.6" r="2.1"/>
<circle cx="387.3" cy="735.7" r="2.1"/>
<circle cx="360.3" cy="768.8" r="2.1"/>
<circle cx="284.0" cy="683.0" r="2.1"/>
<circle cx="359.2" cy="682.7" r="2.1"/>
<circle cx="264.4" cy="705.4" r="2.1"/>
<circle cx="282.3" cy="709.1" r="2.1"/>
<circle cx="263.4" cy="750.7" r="2.1"/>
<circle cx="323.1" cy="714.0" r="2.1"/>
<circle cx="229.6" cy="694.9" r="2.1"/>
<circle cx="324.8" cy="695.7" r="2.1"/>
<circle cx="251.9" cy="697.9" r="2.1"/>
<circle cx="223.4" cy="686.2" r="2.1"/>
<circle cx="315.0" cy="685.9" r="2.1"/>
<circle cx="326.6" cy="702.5" r="2.1"/>
<circle cx="363.4" cy="748.8" r="2.1"/>
<circle cx="248.7" cy="715.4" r="2.1"/>
<circle cx="334.0" cy="703.5" r="2.1"/>
<circle cx="261.4" cy="703.8" r="2.1"/>
<circle cx="315.2" cy="666.8" r="2.1"/>
<circle cx="247.9" cy="724.7" r="2.1"/>
<circle cx="283.1" cy="674.1" r="2.1"/>
<circle cx="315.0" cy="790.8" r="2.1"/>
<circle cx="258.4" cy="665.5" r="2.1"/>
<circle cx="375.0" cy="745.0" r="2.1"/>
<circle cx="228.5" cy="703.0" r="2.1"/>
<circle cx="323.9" cy="772.5" r="2.1"/>
<circle cx="382.8" cy="701.2" r="2.1"/>
<circle cx="340.5" cy="692.8" r="2.1"/>
<circle cx="371.2" cy="791.0" r="2.1"/>
<circle cx="313.0" cy="697.9" r="2.1"/>
<circle cx="273.6" cy="717.9" r="2.1"/>
<circle cx="333.4" cy="740.2" r="2.1"/>
<circle cx="334.1" cy="727.9" r="2.1"/>
<circle cx="319.3" cy="748.3" r="2.1"/>
<circle cx="364.4" cy="722.4" r="2.1"/>
<circle cx="327.0" cy="706.8" r="2.1"/>
<circle cx="348.9" cy="707.6" r="2.1"/>
<circle cx="298.2" cy="671.3" r="2.1"/>
<circle cx="246.6" cy="701.1" r="2.1"/>
<circle cx="331.1" cy="735.6" r="2.1"/>
<circle cx="309.3" cy="671.3" r="2.1"/>
<circle cx="320.6" cy="757.6" r="2.1"/>
<circle cx="321.0" cy="732.7" r="2.1"/>
<circle cx="372.1" cy="717.3" r="2.1"/>
<circle cx="341.2" cy="732.9" r="2.1"/>
<circle cx="342.4" cy="696.0" r="2.1"/>
<circle cx="289.8" cy="712.8" r="2.1"/>
<circle cx="223.3" cy="662.6" r="2.1"/>
<circle cx="379.5" cy="752.9" r="2.1"/>
<circle cx="262.1" cy="726.4" r="2.1"/>
<circle cx="281.1" cy="746.6" r="2.1"/>
<circle cx="328.1" cy="779.6" r="2.1"/>
<circle cx="289.4" cy="762.3" r="2.1"/>
<circle cx="415.5" cy="734.4" r="2.1"/>
<circle cx="428.2" cy="761.1" r="2.1"/>
<circle cx="297.7" cy="690.4" r="2.1"/>
<circle cx="233.6" cy="705.9" r="2.1"/>
<circle cx="240.7" cy="669.7" r="2.1"/>
<circle cx="377.9" cy="759.9" r="2.1"/>
<circle cx="271.9" cy="679.4" r="2.1"/>
<circle cx="287.4" cy="741.6" r="2.1"/>
<circle cx="333.2" cy="702.8" r="2.1"/>
<circle cx="311.2" cy="693.7" r="2.1"/>
<circle cx="330.4" cy="681.8" r="2.1"/>
<circle cx="333.4" cy="730.2" r="2.1"/>
<circle cx="236.6" cy="742.7" r="2.1"/>
<circle cx="312.6" cy="739.1" r="2.1"/>
<circle cx="275.0" cy="721.4" r="2.1"/>
<circle cx="383.9" cy="746.2" r="2.1"/>
<circle cx="328.2" cy="671.5" r="2.1"/>
<circle cx="338.4" cy="733.7" r="2.1"/>
<circle cx="309.2" cy="729.2" r="2.1"/>
<circle cx="230.1" cy="665.9" r="2.1"/>
<circle cx="337.9" cy="775.1" r="2.1"/>
<circle cx="296.7" cy="723.8" r="2.1"/>
<circle cx="259.5" cy="725.6" r="2.1"/>
<circle cx="239.6" cy="630.2" r="2.1"/>
<circle cx="367.1" cy="740.7" r="2.1"/>
<circle cx="337.8" cy="748.7" r="2.1"/>
<circle cx="248.5" cy="684.4" r="2.1"/>
<circle cx="378.4" cy="773.5" r="2.1"/>
<circle cx="357.1" cy="711.5" r="2.1"/>
<circle cx="338.6" cy="707.3" r="2.1"/>
<circle cx="322.4" cy="742.3" r="2.1"/>
<circle cx="262.8" cy="695.8" r="2.1"/>
<circle cx="273.1" cy="720.1" r="2.1"/>
<circle cx="293.5" cy="711.0" r="2.1"/>
<circle cx="285.1" cy="716.8" r="2.1"/>
<circle cx="343.2" cy="749.7" r="2.1"/>
<circle cx="299.1" cy="746.5" r="2.1"/>
<circle cx="248.3" cy="714.5" r="2.1"/>
<circle cx="371.1" cy="705.6" r="2.1"/>
<circle cx="357.3" cy="778.1" r="2.1"/>
<circle cx="331.8" cy="679.1" r="2.1"/>
<circle cx="363.4" cy="745.9" r="2.1"/>
<circle cx="335.4" cy="692.5" r="2.1"/>
<circle cx="240.2" cy="714.8" r="2.1"/>
<circle cx="429.5" cy="753.1" r="2.1"/>
<circle cx="323.2" cy="726.8" r="2.1"/>
<circle cx="288.1" cy="686.5" r="2.1"/>
<circle cx="310.6" cy="745.9" r="2.1"/>
<circle cx="292.6" cy="670.8" r="2.1"/>
<circle cx="377.3" cy="719.2" r="2.1"/>
<circle cx="262.1" cy="686.5" r="2.1"/>
<circle cx="330.3" cy="678.4" r="2.1"/>
<circle cx="292.8" cy="752.3" r="2.1"/>
<circle cx="377.9" cy="737.1" r="2.1"/>
<circle cx="338.6" cy="726.1" r="2.1"/>
<circle cx="318.1" cy="776.5" r="2.1"/>
<circle cx="341.6" cy="779.0" r="2.1"/>
<circle cx="244.7" cy="679.0" r="2.1"/>
<circle cx="265.1" cy="686.5" r="2.1"/>
<circle cx="316.1" cy="724.3" r="2.1"/>
<circle cx="313.9" cy="717.2" r="2.1"/>
<circle cx="319.9" cy="780.2" r="2.1"/>
<circle cx="375.2" cy="727.2" r="2.1"/>
<circle cx="248.3" cy="672.8" r="2.1"/>
<circle cx="330.9" cy="701.8" r="2.1"/>
<circle cx="266.3" cy="663.0" r="2.1"/>
<circle cx="249.8" cy="662.7" r="2.1"/>
<circle cx="376.0" cy="756.5" r="2.1"/>
<circle cx="319.9" cy="707.2" r="2.1"/>
<circle cx="372.6" cy="732.3" r="2.1"/>
<circle cx="378.3" cy="716.3" r="2.1"/>
<circle cx="275.0" cy="686.0" r="2.1"/>
<circle cx="272.2" cy="781.3" r="2.1"/>
<circle cx="270.1" cy="706.6" r="2.1"/>
<circle cx="332.8" cy="764.6" r="2.1"/>
<circle cx="311.8" cy="762.5" r="2.1"/>
<circle cx="263.0" cy="704.9" r="2.1"/>
<circle cx="223.9" cy="668.8" r="2.1"/>
<circle cx="325.5" cy="665.3" r="2.1"/>
<circle cx="350.8" cy="774.2" r="2.1"/>
<circle cx="318.4" cy="705.3" r="2.1"/>
<circle cx="256.1" cy="649.1" r="2.1"/>
<circle cx="230.7" cy="642.1" r="2.1"/>
<circle cx="218.4" cy="715.0" r="2.1"/>
<circle cx="429.8" cy="767.5" r="2.1"/>
<circle cx="290.1" cy="726.3" r="2.1"/>
<circle cx="247.5" cy="682.0" r="2.1"/>
<circle cx="241.6" cy="724.9" r="2.1"/>
<circle cx="355.8" cy="743.3" r="2.1"/>
<circle cx="220.4" cy="784.2" r="2.1"/>
<circle cx="220.6" cy="683.2" r="2.1"/>
<circle cx="325.5" cy="709.9" r="2.1"/>
<circle cx="258.4" cy="685.3" r="2.1"/>
<circle cx="389.8" cy="736.1" r="2.1"/>
<circle cx="426.3" cy="741.6" r="2.1"/>
<circle cx="315.6" cy="714.4" r="2.1"/>
<circle cx="273.3" cy="721.2" r="2.1"/>
<circle cx="322.5" cy="740.4" r="2.1"/>
<circle cx="259.8" cy="671.4" r="2.1"/>
<circle cx="339.1" cy="722.2" r="2.1"/>
<circle cx="248.2" cy="679.5" r="2.1"/>
<circle cx="337.5" cy="700.2" r="2.1"/>
<circle cx="302.7" cy="703.0" r="2.1"/>
<circle cx="350.5" cy="690.3" r="2.1"/>
<circle cx="271.9" cy="693.9" r="2.1"/>
<circle cx="256.4" cy="735.2" r="2.1"/>
<circle cx="300.6" cy="677.6" r="2.1"/>
<circle cx="241.9" cy="723.5" r="2.1"/>
<circle cx="298.7" cy="723.3" r="2.1"/>
<circle cx="330.2" cy="687.8" r="2.1"/>
<circle cx="302.4" cy="754.5" r="2.1"/>
<circle cx="269.0" cy="733.5" r="2.1"/>
<circle cx="342.6" cy="741.7" r="2.1"/>
<circle cx="377.4" cy="757.3" r="2.1"/>
<circle cx="246.2" cy="699.8" r="2.1"/>
<circle cx="210.7" cy="683.7" r="2.1"/>
<circle cx="341.4" cy="770.3" r="2.1"/>
<circle cx="314.4" cy="759.9" r="2.1"/>
<circle cx="295.5" cy="708.3" r="2.1"/>
<circle cx="294.8" cy="678.7" r="2.1"/>
<circle cx="291.1" cy="731.8" r="2.1"/>
<circle cx="270.1" cy="718.2" r="2.1"/>
<circle cx="360.6" cy="701.1" r="2.1"/>
<circle cx="272.2" cy="730.0" r="2.1"/>
<circle cx="205.0" cy="687.8" r="2.1"/>
<circle cx="393.9" cy="721.5" r="2.1"/>
<circle cx="248.0" cy="711.7" r="2.1"/>
<circle cx="264.4" cy="711.8" r="2.1"/>
<circle cx="345.9" cy="757.6" r="2.1"/>
<circle cx="308.4" cy="765.5" r="2.1"/>
<circle cx="379.0" cy="738.8" r="2.1"/>
<circle cx="426.1" cy="729.1" r="2.1"/>
<circle cx="281.7" cy="671.2" r="2.1"/>
<circle cx="262.3" cy="664.5" r="2.1"/>
<circle cx="370.6" cy="740.4" r="2.1"/>
<circle cx="233.7" cy="711.0" r="2.1"/>
<circle cx="236.4" cy="742.3" r="2.1"/>
<circle cx="262.7" cy="652.6" r="2.1"/>
<circle cx="322.8" cy="668.2" r="2.1"/>
<circle cx="318.2" cy="710.8" r="2.1"/>
<circle cx="373.3" cy="764.9" r="2.1"/>
<circle cx="345.3" cy="751.2" r="2.1"/>
<circle cx="386.8" cy="752.8" r="2.1"/>
<circle cx="286.4" cy="685.1" r="2.1"/>
<circle cx="386.6" cy="740.2" r="2.1"/>
<circle cx="329.1" cy="684.2" r="2.1"/>
<circle cx="389.5" cy="722.6" r="2.1"/>
<circle cx="414.8" cy="750.2" r="2.1"/>
<circle cx="294.6" cy="757.5" r="2.1"/>
<circle cx="404.9" cy="773.2" r="2.1"/>
<circle cx="316.7" cy="699.4" r="2.1"/>
<circle cx="442.2" cy="791.5" r="2.1"/>
<circle cx="378.1" cy="756.7" r="2.1"/>
<circle cx="344.7" cy="744.9" r="2.1"/>
<circle cx="333.8" cy="736.8" r="2.1"/>
<circle cx="338.7" cy="703.8" r="2.1"/>
<circle cx="333.0" cy="710.2" r="2.1"/>
<circle cx="244.8" cy="739.8" r="2.1"/>
<circle cx="281.1" cy="669.7" r="2.1"/>
<circle cx="268.1" cy="621.0" r="2.1"/>
<circle cx="313.4" cy="764.7" r="2.1"/>
<circle cx="235.9" cy="676.0" r="2.1"/>
<circle cx="296.4" cy="753.4" r="2.1"/>
<circle cx="209.3" cy="712.5" r="2.1"/>
<circle cx="351.6" cy="768.6" r="2.1"/>
<circle cx="409.9" cy="746.1" r="2.1"/>
<circle cx="278.2" cy="679.6" r="2.1"/>
<circle cx="283.6" cy="715.8" r="2.1"/>
<circle cx="373.3" cy="759.2" r="2.1"/>
<circle cx="332.9" cy="709.4" r="2.1"/>
<circle cx="384.2" cy="760.5" r="2.1"/>
<circle cx="294.7" cy="730.9" r="2.1"/>
<circle cx="341.5" cy="774.0" r="2.1"/>
<circle cx="226.7" cy="705.2" r="2.1"/>
<circle cx="313.4" cy="777.1" r="2.1"/>
<circle cx="294.5" cy="712.1" r="2.1"/>
<circle cx="290.1" cy="696.8" r="2.1"/>
<circle cx="325.4" cy="751.2" r="2.1"/>
<circle cx="313.2" cy="682.6" r="2.1"/>
<circle cx="315.2" cy="777.1" r="2.1"/>
<circle cx="284.3" cy="738.0" r="2.1"/>
<circle cx="291.3" cy="742.9" r="2.1"/>
<circle cx="322.1" cy="706.9" r="2.1"/>
<circle cx="273.6" cy="663.5" r="2.1"/>
<circle cx="358.3" cy="783.4" r="2.1"/>
<circle cx="256.4" cy="700.4" r="2.1"/>
<circle cx="222.2" cy="675.9" r="2.1"/>
<circle cx="386.4" cy="715.1" r="2.1"/>
<circle cx="324.5" cy="785.4" r="2.1"/>
<circle cx="301.1" cy="727.1" r="2.1"/>
<circle cx="319.9" cy="717.1" r="2.1"/>
<circle cx="337.8" cy="693.1" r="2.1"/>
<circle cx="263.7" cy="690.8" r="2.1"/>
<circle cx="275.7" cy="758.0" r="2.1"/>
<circle cx="245.4" cy="716.8" r="2.1"/>
<circle cx="274.6" cy="664.9" r="2.1"/>
<circle cx="252.8" cy="700.7" r="2.1"/>
<circle cx="397.7" cy="706.7" r="2.1"/>
<circle cx="246.8" cy="718.6" r="2.1"/>
<circle cx="381.9" cy="750.6" r="2.1"/>
<circle cx="382.7" cy="719.8" r="2.1"/>
<circle cx="268.9" cy="689.8" r="2.1"/>
<circle cx="377.1" cy="753.6" r="2.1"/>
<circle cx="163.1" cy="691.3" r="2.1"/>
<circle cx="241.0" cy="666.9" r="2.1"/>
<circle cx="375.4" cy="773.9" r="2.1"/>
<circle cx="355.2" cy="741.1" r="2.1"/>
<circle cx="359.8" cy="752.5" r="2.1"/>
<circle cx="290.6" cy="665.1" r="2.1"/>
<circle cx="327.4" cy="704.2" r="2.1"/>
<circle cx="354.9" cy="733.0" r="2.1"/>
<circle cx="313.0" cy="697.9" r="2.1"/>
<circle cx="202.5" cy="631.9" r="2.1"/>
<circle cx="281.1" cy="730.9" r="2.1"/>
<circle cx="353.5" cy="737.2" r="2.1"/>
<circle cx="223.0" cy="630.4" r="2.1"/>
<circle cx="349.0" cy="707.0" r="2.1"/>
<circle cx="288.3" cy="750.9" r="2.1"/>
<circle cx="252.4" cy="723.1" r="2.1"/>
<circle cx="223.1" cy="693.8" r="2.1"/>
<circle cx="384.6" cy="722.4" r="2.1"/>
<circle cx="232.1" cy="708.9" r="2.1"/>
<circle cx="315.8" cy="714.3" r="2.1"/>
<circle cx="245.2" cy="692.6" r="2.1"/>
<circle cx="265.4" cy="697.7" r="2.1"/>
<circle cx="311.6" cy="678.4" r="2.1"/>
<circle cx="295.8" cy="733.8" r="2.1"/>
<circle cx="322.2" cy="760.3" r="2.1"/>
<circle cx="299.0" cy="725.6" r="2.1"/>
<circle cx="332.3" cy="748.2" r="2.1"/>
<circle cx="357.7" cy="720.7" r="2.1"/>
<circle cx="273.9" cy="727.4" r="2.1"/>
<circle cx="312.4" cy="668.0" r="2.1"/>
<circle cx="272.0" cy="657.4" r="2.1"/>
<circle cx="252.8" cy="674.3" r="2.1"/>
<circle cx="389.7" cy="771.5" r="2.1"/>
<circle cx="350.4" cy="747.2" r="2.1"/>
<circle cx="370.7" cy="754.0" r="2.1"/>
<circle cx="239.7" cy="652.8" r="2.1"/>
<circle cx="208.3" cy="676.3" r="2.1"/>
<circle cx="345.6" cy="713.1" r="2.1"/>
<circle cx="364.7" cy="750.4" r="2.1"/>
<circle cx="208.3" cy="708.1" r="2.1"/>
<circle cx="436.6" cy="819.1" r="2.1"/>
<circle cx="319.3" cy="677.4" r="2.1"/>
<circle cx="301.7" cy="706.4" r="2.1"/>
<circle cx="349.2" cy="691.6" r="2.1"/>
<circle cx="254.0" cy="734.4" r="2.1"/>
<circle cx="255.1" cy="684.0" r="2.1"/>
<circle cx="247.7" cy="693.7" r="2.1"/>
<circle cx="326.3" cy="687.9" r="2.1"/>
<circle cx="280.7" cy="738.4" r="2.1"/>
<circle cx="326.5" cy="675.4" r="2.1"/>
<circle cx="268.7" cy="709.9" r="2.1"/>
<circle cx="336.9" cy="700.1" r="2.1"/>
<circle cx="337.8" cy="689.6" r="2.1"/>
<circle cx="300.2" cy="742.5" r="2.1"/>
<circle cx="337.7" cy="729.8" r="2.1"/>
<circle cx="172.8" cy="646.1" r="2.1"/>
<circle cx="338.8" cy="728.2" r="2.1"/>
<circle cx="292.3" cy="665.7" r="2.1"/>
<circle cx="253.3" cy="658.5" r="2.1"/>
<circle cx="270.6" cy="744.9" r="2.1"/>
<circle cx="255.2" cy="690.5" r="2.1"/>
<circle cx="343.3" cy="770.6" r="2.1"/>
<circle cx="382.1" cy="822.3" r="2.1"/>
<circle cx="419.4" cy="749.6" r="2.1"/>
<circle cx="318.9" cy="777.5" r="2.1"/>
<circle cx="393.1" cy="714.8" r="2.1"/>
<circle cx="358.1" cy="741.4" r="2.1"/>
<circle cx="330.0" cy="709.8" r="2.1"/>
<circle cx="302.3" cy="690.7" r="2.1"/>
<circle cx="315.2" cy="720.0" r="2.1"/>
<circle cx="296.8" cy="721.8" r="2.1"/>
<circle cx="266.3" cy="678.9" r="2.1"/>
<circle cx="363.9" cy="734.3" r="2.1"/>
<circle cx="273.9" cy="753.0" r="2.1"/>
<circle cx="394.3" cy="720.6" r="2.1"/>
<circle cx="225.9" cy="691.6" r="2.1"/>
<circle cx="392.5" cy="773.3" r="2.1"/>
<circle cx="248.6" cy="738.8" r="2.1"/>
<circle cx="326.5" cy="689.0" r="2.1"/>
<circle cx="289.3" cy="747.6" r="2.1"/>
<circle cx="350.3" cy="755.4" r="2.1"/>
<circle cx="319.1" cy="720.3" r="2.1"/>
<circle cx="359.5" cy="698.6" r="2.1"/>
<circle cx="172.6" cy="756.5" r="2.1"/>
<circle cx="341.4" cy="699.4" r="2.1"/>
<circle cx="279.9" cy="672.4" r="2.1"/>
<circle cx="322.5" cy="710.2" r="2.1"/>
<circle cx="383.7" cy="771.3" r="2.1"/>
<circle cx="374.4" cy="786.0" r="2.1"/>
<circle cx="412.5" cy="744.4" r="2.1"/>
<circle cx="392.9" cy="715.5" r="2.1"/>
<circle cx="347.3" cy="735.0" r="2.1"/>
<circle cx="399.7" cy="753.6" r="2.1"/>
<circle cx="320.1" cy="740.7" r="2.1"/>
<circle cx="323.9" cy="758.0" r="2.1"/>
<circle cx="365.4" cy="758.3" r="2.1"/>
<circle cx="338.2" cy="748.6" r="2.1"/>
<circle cx="301.4" cy="736.9" r="2.1"/>
<circle cx="453.5" cy="743.6" r="2.1"/>
<circle cx="272.7" cy="775.1" r="2.1"/>
<circle cx="261.1" cy="742.7" r="2.1"/>
<circle cx="292.5" cy="680.6" r="2.1"/>
<circle cx="325.1" cy="742.1" r="2.1"/>
<circle cx="326.0" cy="751.0" r="2.1"/>
<circle cx="330.4" cy="749.1" r="2.1"/>
<circle cx="332.2" cy="690.1" r="2.1"/>
<circle cx="298.7" cy="747.7" r="2.1"/>
<circle cx="192.1" cy="676.9" r="2.1"/>
<circle cx="336.7" cy="691.1" r="2.1"/>
<circle cx="379.6" cy="772.2" r="2.1"/>
<circle cx="288.7" cy="709.1" r="2.1"/>
<circle cx="342.9" cy="771.1" r="2.1"/>
<circle cx="281.5" cy="682.0" r="2.1"/>
<circle cx="345.3" cy="708.7" r="2.1"/>
<circle cx="267.9" cy="705.7" r="2.1"/>
<circle cx="312.2" cy="717.3" r="2.1"/>
<circle cx="316.3" cy="735.0" r="2.1"/>
<circle cx="263.3" cy="713.9" r="2.1"/>
<circle cx="359.9" cy="696.8" r="2.1"/>
<circle cx="344.5" cy="695.2" r="2.1"/>
<circle cx="314.9" cy="753.5" r="2.1"/>
<circle cx="253.4" cy="739.0" r="2.1"/>
<circle cx="415.0" cy="749.6" r="2.1"/>
<circle cx="331.0" cy="761.9" r="2.1"/>
<circle cx="278.0" cy="685.4" r="2.1"/>
<circle cx="232.7" cy="704.1" r="2.1"/>
<circle cx="336.9" cy="753.0" r="2.1"/>
<circle cx="295.0" cy="674.4" r="2.1"/>
<circle cx="328.4" cy="755.6" r="2.1"/>
<circle cx="288.2" cy="755.7" r="2.1"/>
<circle cx="220.4" cy="646.6" r="2.1"/>
<circle cx="312.0" cy="738.2" r="2.1"/>
<circle cx="401.1" cy="722.7" r="2.1"/>
<circle cx="359.5" cy="753.5" r="2.1"/>
<circle cx="263.5" cy="726.8" r="2.1"/>
<circle cx="307.3" cy="725.1" r="2.1"/>
<circle cx="301.2" cy="768.9" r="2.1"/>
<circle cx="360.4" cy="669.2" r="2.1"/>
<circle cx="332.1" cy="705.6" r="2.1"/>
<circle cx="384.9" cy="723.9" r="2.1"/>
<circle cx="345.7" cy="684.6" r="2.1"/>
<circle cx="346.6" cy="735.8" r="2.1"/>
<circle cx="253.4" cy="693.8" r="2.1"/>
<circle cx="353.5" cy="791.3" r="2.1"/>
<circle cx="258.7" cy="655.1" r="2.1"/>
<circle cx="365.0" cy="721.4" r="2.1"/>
<circle cx="367.9" cy="728.2" r="2.1"/>
<circle cx="306.7" cy="750.0" r="2.1"/>
<circle cx="354.8" cy="756.7" r="2.1"/>
<circle cx="388.1" cy="746.5" r="2.1"/>
<circle cx="272.8" cy="782.9" r="2.1"/>
<circle cx="351.1" cy="716.0" r="2.1"/>
<circle cx="301.8" cy="751.3" r="2.1"/>
<circle cx="268.2" cy="703.2" r="2.1"/>
<circle cx="273.2" cy="732.8" r="2.1"/>
<circle cx="261.3" cy="708.9" r="2.1"/>
<circle cx="279.9" cy="680.3" r="2.1"/>
<circle cx="357.2" cy="793.7" r="2.1"/>
<circle cx="316.3" cy="724.2" r="2.1"/>
<circle cx="263.5" cy="694.0" r="2.1"/>
<circle cx="288.3" cy="664.7" r="2.1"/>
<circle cx="340.9" cy="670.7" r="2.1"/>
<circle cx="357.2" cy="729.1" r="2.1"/>
<circle cx="354.8" cy="702.7" r="2.1"/>
<circle cx="296.5" cy="689.4" r="2.1"/>
<circle cx="380.6" cy="767.8" r="2.1"/>
<circle cx="159.0" cy="651.6" r="2.1"/>
<circle cx="241.7" cy="696.7" r="2.1"/>
<circle cx="237.5" cy="744.1" r="2.1"/>
<circle cx="324.1" cy="704.1" r="2.1"/>
<circle cx="256.9" cy="710.2" r="2.1"/>
<circle cx="286.8" cy="752.0" r="2.1"/>
<circle cx="328.7" cy="692.0" r="2.1"/>
<circle cx="358.2" cy="693.0" r="2.1"/>
<circle cx="263.1" cy="669.0" r="2.1"/>
<circle cx="248.5" cy="681.7" r="2.1"/>
<circle cx="182.1" cy="726.1" r="2.1"/>
<circle cx="293.1" cy="712.9" r="2.1"/>
<circle cx="320.7" cy="701.4" r="2.1"/>
<circle cx="373.4" cy="706.6" r="2.1"/>
<circle cx="262.1" cy="697.9" r="2.1"/>
<circle cx="179.1" cy="815.2" r="2.1"/>
<circle cx="394.6" cy="752.2" r="2.1"/>
<circle cx="261.1" cy="681.1" r="2.1"/>
<circle cx="346.0" cy="691.6" r="2.1"/>
<circle cx="405.0" cy="755.3" r="2.1"/>
<circle cx="309.9" cy="776.5" r="2.1"/>
<circle cx="320.4" cy="708.6" r="2.1"/>
<circle cx="344.5" cy="778.0" r="2.1"/>
<circle cx="272.5" cy="712.0" r="2.1"/>
<circle cx="296.3" cy="757.0" r="2.1"/>
<circle cx="344.8" cy="728.3" r="2.1"/>
<circle cx="382.6" cy="738.1" r="2.1"/>
<circle cx="352.6" cy="727.2" r="2.1"/>
<circle cx="254.0" cy="796.2" r="2.1"/>
<circle cx="326.9" cy="753.2" r="2.1"/>
<circle cx="340.9" cy="732.8" r="2.1"/>
<circle cx="245.7" cy="704.2" r="2.1"/>
<circle cx="407.6" cy="709.3" r="2.1"/>
<circle cx="317.9" cy="740.7" r="2.1"/>
<circle cx="277.7" cy="693.8" r="2.1"/>
<circle cx="224.8" cy="678.2" r="2.1"/>
<circle cx="317.0" cy="689.2" r="2.1"/>
<circle cx="338.2" cy="735.3" r="2.1"/>
<circle cx="334.4" cy="718.2" r="2.1"/>
<circle cx="270.3" cy="738.6" r="2.1"/>
<circle cx="289.7" cy="645.3" r="2.1"/>
<circle cx="326.3" cy="758.5" r="2.1"/>
<circle cx="336.0" cy="691.3" r="2.1"/>
<circle cx="308.7" cy="758.2" r="2.1"/>
<circle cx="391.8" cy="724.8" r="2.1"/>
<circle cx="291.6" cy="694.8" r="2.1"/>
<circle cx="345.0" cy="710.0" r="2.1"/>
<circle cx="219.9" cy="701.4" r="2.1"/>
<circle cx="347.0" cy="752.9" r="2.1"/>
<circle cx="314.7" cy="705.1" r="2.1"/>
<circle cx="332.0" cy="744.7" r="2.1"/>
<circle cx="368.9" cy="743.0" r="2.1"/>
<circle cx="305.7" cy="720.1" r="2.1"/>
<circle cx="303.2" cy="765.7" r="2.1"/>
<circle cx="366.0" cy="771.8" r="2.1"/>
<circle cx="282.3" cy="740.5" r="2.1"/>
<circle cx="251.7" cy="718.7" r="2.1"/>
<circle cx="386.3" cy="725.2" r="2.1"/>
<circle cx="289.6" cy="711.4" r="2.1"/>
<circle cx="348.8" cy="758.3" r="2.1"/>
<circle cx="390.7" cy="710.4" r="2.1"/>
<circle cx="301.6" cy="732.3" r="2.1"/>
<circle cx="402.0" cy="720.4" r="2.1"/>
<circle cx="217.9" cy="679.8" r="2.1"/>
<circle cx="265.1" cy="685.2" r="2.1"/>
<circle cx="338.9" cy="717.8" r="2.1"/>
<circle cx="296.1" cy="737.4" r="2.1"/>
<circle cx="322.4" cy="710.2" r="2.1"/>
<circle cx="316.6" cy="684.8" r="2.1"/>
<circle cx="372.1" cy="705.3" r="2.1"/>
<circle cx="370.2" cy="690.7" r="2.1"/>
<circle cx="241.8" cy="649.1" r="2.1"/>
<circle cx="346.8" cy="808.5" r="2.1"/>
<circle cx="374.9" cy="731.3" r="2.1"/>
<circle cx="328.7" cy="688.0" r="2.1"/>
<circle cx="263.2" cy="690.0" r="2.1"/>
<circle cx="373.9" cy="744.9" r="2.1"/>
<circle cx="371.0" cy="698.7" r="2.1"/>
<circle cx="282.4" cy="707.8" r="2.1"/>
<circle cx="331.4" cy="696.7" r="2.1"/>
<circle cx="304.7" cy="688.9" r="2.1"/>
<circle cx="281.4" cy="770.3" r="2.1"/>
<circle cx="266.2" cy="687.2" r="2.1"/>
<circle cx="352.1" cy="741.7" r="2.1"/>
<circle cx="235.3" cy="703.0" r="2.1"/>
<circle cx="276.6" cy="727.5" r="2.1"/>
<circle cx="266.3" cy="792.2" r="2.1"/>
<circle cx="422.7" cy="727.0" r="2.1"/>
<circle cx="270.5" cy="732.9" r="2.1"/>
<circle cx="256.6" cy="745.9" r="2.1"/>
<circle cx="370.2" cy="719.6" r="2.1"/>
<circle cx="389.9" cy="756.4" r="2.1"/>
<circle cx="339.2" cy="792.4" r="2.1"/>
<circle cx="291.2" cy="744.0" r="2.1"/>
<circle cx="455.0" cy="699.9" r="2.1"/>
<circle cx="253.0" cy="663.0" r="2.1"/>
<circle cx="347.2" cy="715.4" r="2.1"/>
<circle cx="314.9" cy="787.9" r="2.1"/>
<circle cx="323.0" cy="731.1" r="2.1"/>
<circle cx="344.8" cy="743.8" r="2.1"/>
<circle cx="348.5" cy="769.0" r="2.1"/>
<circle cx="271.9" cy="715.3" r="2.1"/>
<circle cx="336.2" cy="761.6" r="2.1"/>
<circle cx="324.9" cy="689.1" r="2.1"/>
<circle cx="256.3" cy="763.6" r="2.1"/>
<circle cx="324.5" cy="699.9" r="2.1"/>
<circle cx="199.7" cy="652.2" r="2.1"/>
<circle cx="264.2" cy="694.3" r="2.1"/>
<circle cx="277.2" cy="675.4" r="2.1"/>
<circle cx="316.4" cy="714.2" r="2.1"/>
<circle cx="413.9" cy="739.9" r="2.1"/>
<circle cx="333.1" cy="772.5" r="2.1"/>
<circle cx="290.5" cy="702.4" r="2.1"/>
<circle cx="244.3" cy="685.4" r="2.1"/>
<circle cx="318.4" cy="649.7" r="2.1"/>
<circle cx="229.7" cy="754.6" r="2.1"/>
<circle cx="343.7" cy="709.6" r="2.1"/>
<circle cx="304.5" cy="739.4" r="2.1"/>
<circle cx="288.5" cy="699.9" r="2.1"/>
<circle cx="392.2" cy="739.9" r="2.1"/>
<circle cx="357.2" cy="774.9" r="2.1"/>
<circle cx="274.4" cy="781.8" r="2.1"/>
<circle cx="253.5" cy="766.1" r="2.1"/>
<circle cx="352.8" cy="710.9" r="2.1"/>
<circle cx="368.2" cy="763.7" r="2.1"/>
<circle cx="406.5" cy="726.3" r="2.1"/>
<circle cx="287.1" cy="665.4" r="2.1"/>
<circle cx="317.0" cy="742.2" r="2.1"/>
<circle cx="242.3" cy="719.3" r="2.1"/>
<circle cx="224.7" cy="622.5" r="2.1"/>
<circle cx="330.2" cy="700.7" r="2.1"/>
<circle cx="273.5" cy="749.8" r="2.1"/>
<circle cx="324.2" cy="725.9" r="2.1"/>
<circle cx="341.5" cy="753.2" r="2.1"/>
<circle cx="384.2" cy="727.8" r="2.1"/>
<circle cx="339.6" cy="757.0" r="2.1"/>
<circle cx="363.6" cy="686.8" r="2.1"/>
<circle cx="370.1" cy="707.1" r="2.1"/>
<circle cx="258.1" cy="769.4" r="2.1"/>
<circle cx="292.3" cy="732.5" r="2.1"/>
<circle cx="320.8" cy="719.8" r="2.1"/>
<circle cx="423.3" cy="758.0" r="2.1"/>
<circle cx="282.0" cy="728.3" r="2.1"/>
<circle cx="231.6" cy="684.4" r="2.1"/>
<circle cx="330.5" cy="773.3" r="2.1"/>
<circle cx="309.2" cy="700.3" r="2.1"/>
<circle cx="303.7" cy="761.6" r="2.1"/>
<circle cx="302.0" cy="742.7" r="2.1"/>
<circle cx="295.7" cy="749.9" r="2.1"/>
<circle cx="264.5" cy="707.6" r="2.1"/>
<circle cx="320.7" cy="715.0" r="2.1"/>
<circle cx="261.5" cy="681.5" r="2.1"/>
<circle cx="203.8" cy="761.6" r="2.1"/>
<circle cx="375.5" cy="669.6" r="2.1"/>
<circle cx="284.0" cy="678.9" r="2.1"/>
<circle cx="279.5" cy="724.1" r="2.1"/>
<circle cx="237.6" cy="692.2" r="2.1"/>
<circle cx="345.6" cy="772.7" r="2.1"/>
<circle cx="357.6" cy="755.0" r="2.1"/>
<circle cx="253.5" cy="679.3" r="2.1"/>
<circle cx="356.4" cy="734.6" r="2.1"/>
<circle cx="362.0" cy="746.9" r="2.1"/>
<circle cx="340.8" cy="756.8" r="2.1"/>
<circle cx="366.6" cy="809.6" r="2.1"/>
<circle cx="382.6" cy="735.2" r="2.1"/>
<circle cx="309.8" cy="735.4" r="2.1"/>
<circle cx="293.5" cy="752.1" r="2.1"/>
<circle cx="322.0" cy="757.3" r="2.1"/>
<circle cx="357.1" cy="743.3" r="2.1"/>
<circle cx="255.0" cy="679.5" r="2.1"/>
<circle cx="328.4" cy="709.1" r="2.1"/>
<circle cx="321.3" cy="702.6" r="2.1"/>
<circle cx="301.0" cy="705.7" r="2.1"/>
<circle cx="281.2" cy="728.8" r="2.1"/>
<circle cx="228.9" cy="668.8" r="2.1"/>
<circle cx="296.7" cy="664.8" r="2.1"/>
<circle cx="298.7" cy="671.3" r="2.1"/>
<circle cx="217.4" cy="718.8" r="2.1"/>
<circle cx="268.3" cy="753.3" r="2.1"/>
<circle cx="281.9" cy="692.2" r="2.1"/>
<circle cx="325.7" cy="694.8" r="2.1"/>
<circle cx="260.6" cy="721.1" r="2.1"/>
<circle cx="394.0" cy="739.0" r="2.1"/>
<circle cx="389.5" cy="745.6" r="2.1"/>
<circle cx="294.0" cy="752.2" r="2.1"/>
<circle cx="307.8" cy="741.2" r="2.1"/>
<circle cx="290.8" cy="721.4" r="2.1"/>
<circle cx="332.2" cy="703.1" r="2.1"/>
<circle cx="313.3" cy="746.1" r="2.1"/>
<circle cx="290.3" cy="727.4" r="2.1"/>
<circle cx="363.5" cy="773.2" r="2.1"/>
<circle cx="308.8" cy="668.7" r="2.1"/>
<circle cx="345.4" cy="768.1" r="2.1"/>
<circle cx="279.8" cy="673.2" r="2.1"/>
<circle cx="342.6" cy="694.8" r="2.1"/>
<circle cx="362.3" cy="702.7" r="2.1"/>
<circle cx="303.3" cy="704.9" r="2.1"/>
<circle cx="273.8" cy="691.1" r="2.1"/>
<circle cx="346.4" cy="739.1" r="2.1"/>
<circle cx="296.2" cy="707.0" r="2.1"/>
<circle cx="342.7" cy="712.4" r="2.1"/>
<circle cx="273.5" cy="732.3" r="2.1"/>
<circle cx="373.3" cy="765.0" r="2.1"/>
<circle cx="247.1" cy="724.0" r="2.1"/>
<circle cx="424.8" cy="762.9" r="2.1"/>
<circle cx="254.6" cy="703.1" r="2.1"/>
<circle cx="247.3" cy="681.4" r="2.1"/>
<circle cx="198.6" cy="698.7" r="2.1"/>
<circle cx="378.1" cy="731.2" r="2.1"/>
<circle cx="342.6" cy="716.6" r="2.1"/>
<circle cx="395.3" cy="768.2" r="2.1"/>
<circle cx="315.9" cy="699.2" r="2.1"/>
<circle cx="299.3" cy="758.0" r="2.1"/>
<circle cx="290.4" cy="696.0" r="2.1"/>
<circle cx="367.8" cy="728.1" r="2.1"/>
<circle cx="307.1" cy="740.2" r="2.1"/>
<circle cx="324.9" cy="752.8" r="2.1"/>
<circle cx="229.9" cy="675.9" r="2.1"/>
<circle cx="240.0" cy="690.2" r="2.1"/>
<circle cx="339.1" cy="780.4" r="2.1"/>
<circle cx="274.1" cy="692.3" r="2.1"/>
<circle cx="347.9" cy="705.2" r="2.1"/>
<circle cx="299.0" cy="678.0" r="2.1"/>
<circle cx="239.9" cy="669.3" r="2.1"/>
<circle cx="248.5" cy="734.2" r="2.1"/>
<circle cx="342.3" cy="721.1" r="2.1"/>
<circle cx="361.3" cy="815.9" r="2.1"/>
<circle cx="240.4" cy="694.8" r="2.1"/>
<circle cx="254.1" cy="682.3" r="2.1"/>
<circle cx="325.1" cy="695.3" r="2.1"/>
<circle cx="253.7" cy="676.4" r="2.1"/>
<circle cx="300.3" cy="707.9" r="2.1"/>
<circle cx="253.7" cy="673.6" r="2.1"/>
<circle cx="338.4" cy="704.0" r="2.1"/>
<circle cx="323.4" cy="680.4" r="2.1"/>
<circle cx="379.4" cy="764.8" r="2.1"/>
<circle cx="181.9" cy="700.3" r="2.1"/>
<circle cx="276.8" cy="727.4" r="2.1"/>
<circle cx="265.1" cy="638.7" r="2.1"/>
<circle cx="358.6" cy="763.5" r="2.1"/>
<circle cx="258.9" cy="716.9" r="2.1"/>
<circle cx="371.1" cy="759.9" r="2.1"/>
<circle cx="253.9" cy="731.5" r="2.1"/>
<circle cx="324.8" cy="768.8" r="2.1"/>
<circle cx="319.4" cy="762.9" r="2.1"/>
<circle cx="267.7" cy="722.5" r="2.1"/>
<circle cx="292.4" cy="696.0" r="2.1"/>
<circle cx="374.8" cy="651.1" r="2.1"/>
<circle cx="333.6" cy="691.9" r="2.1"/>
<circle cx="372.4" cy="739.9" r="2.1"/>
<circle cx="268.1" cy="754.8" r="2.1"/>
<circle cx="360.1" cy="751.5" r="2.1"/>
<circle cx="297.6" cy="656.3" r="2.1"/>
<circle cx="297.0" cy="676.5" r="2.1"/>
<circle cx="296.7" cy="702.5" r="2.1"/>
<circle cx="256.6" cy="762.6" r="2.1"/>
<circle cx="297.9" cy="785.9" r="2.1"/>
<circle cx="228.3" cy="679.5" r="2.1"/>
<circle cx="326.1" cy="757.0" r="2.1"/>
<circle cx="286.1" cy="688.9" r="2.1"/>
<circle cx="313.2" cy="729.0" r="2.1"/>
<circle cx="300.4" cy="760.1" r="2.1"/>
<circle cx="306.7" cy="696.1" r="2.1"/>
<circle cx="405.6" cy="731.6" r="2.1"/>
<circle cx="321.5" cy="717.5" r="2.1"/>
<circle cx="378.1" cy="717.1" r="2.1"/>
<circle cx="379.9" cy="717.5" r="2.1"/>
<circle cx="403.0" cy="753.1" r="2.1"/>
<circle cx="272.4" cy="707.4" r="2.1"/>
<circle cx="366.9" cy="771.4" r="2.1"/>
<circle cx="332.9" cy="700.3" r="2.1"/>
<circle cx="341.7" cy="719.9" r="2.1"/>
<circle cx="237.8" cy="684.7" r="2.1"/>
<circle cx="279.5" cy="705.4" r="2.1"/>
<circle cx="301.3" cy="741.6" r="2.1"/>
<circle cx="271.0" cy="738.7" r="2.1"/>
<circle cx="231.0" cy="712.4" r="2.1"/>
<circle cx="378.9" cy="737.6" r="2.1"/>
<circle cx="237.9" cy="627.0" r="2.1"/>
<circle cx="283.2" cy="700.9" r="2.1"/>
<circle cx="302.1" cy="704.8" r="2.1"/>
<circle cx="312.6" cy="755.5" r="2.1"/>
<circle cx="368.9" cy="705.0" r="2.1"/>
<circle cx="314.9" cy="773.2" r="2.1"/>
<circle cx="370.6" cy="741.7" r="2.1"/>
<circle cx="170.3" cy="743.8" r="2.1"/>
<circle cx="378.9" cy="707.9" r="2.1"/>
<circle cx="336.7" cy="710.9" r="2.1"/>
<circle cx="370.4" cy="766.7" r="2.1"/>
<circle cx="367.6" cy="720.2" r="2.1"/>
<circle cx="341.9" cy="706.0" r="2.1"/>
<circle cx="348.8" cy="767.0" r="2.1"/>
<circle cx="354.4" cy="758.4" r="2.1"/>
<circle cx="325.5" cy="704.6" r="2.1"/>
<circle cx="307.5" cy="758.1" r="2.1"/>
<circle cx="342.1" cy="700.2" r="2.1"/>
<circle cx="199.3" cy="706.4" r="2.1"/>
<circle cx="294.3" cy="688.8" r="2.1"/>
<circle cx="251.2" cy="661.8" r="2.1"/>
<circle cx="368.3" cy="761.9" r="2.1"/>
<circle cx="374.9" cy="756.7" r="2.1"/>
<circle cx="235.9" cy="613.3" r="2.1"/>
<circle cx="320.0" cy="758.2" r="2.1"/>
<circle cx="368.2" cy="709.3" r="2.1"/>
<circle cx="281.3" cy="742.0" r="2.1"/>
<circle cx="265.6" cy="717.2" r="2.1"/>
<circle cx="439.0" cy="761.3" r="2.1"/>
<circle cx="381.5" cy="718.7" r="2.1"/>
<circle cx="333.2" cy="726.4" r="2.1"/>
<circle cx="373.9" cy="748.5" r="2.1"/>
<circle cx="375.8" cy="753.5" r="2.1"/>
<circle cx="362.9" cy="753.5" r="2.1"/>
<circle cx="311.5" cy="720.2" r="2.1"/>
<circle cx="242.1" cy="733.0" r="2.1"/>
<circle cx="240.8" cy="706.9" r="2.1"/>
<circle cx="336.3" cy="744.7" r="2.1"/>
<circle cx="289.8" cy="758.8" r="2.1"/>
<circle cx="419.0" cy="732.8" r="2.1"/>
<circle cx="260.3" cy="718.8" r="2.1"/>
<circle cx="296.9" cy="674.6" r="2.1"/>
<circle cx="298.3" cy="752.0" r="2.1"/>
<circle cx="307.9" cy="713.1" r="2.1"/>
<circle cx="311.2" cy="714.1" r="2.1"/>
<circle cx="294.8" cy="762.4" r="2.1"/>
<circle cx="332.9" cy="723.1" r="2.1"/>
<circle cx="383.3" cy="787.1" r="2.1"/>
<circle cx="307.5" cy="727.0" r="2.1"/>
<circle cx="215.3" cy="671.9" r="2.1"/>
<circle cx="325.4" cy="686.8" r="2.1"/>
<circle cx="329.7" cy="691.4" r="2.1"/>
<circle cx="266.3" cy="711.5" r="2.1"/>
<circle cx="222.9" cy="715.3" r="2.1"/>
<circle cx="350.6" cy="704.5" r="2.1"/>
<circle cx="368.1" cy="726.4" r="2.1"/>
<circle cx="381.3" cy="713.3" r="2.1"/>
<circle cx="367.6" cy="766.7" r="2.1"/>
<circle cx="449.2" cy="806.2" r="2.1"/>
<circle cx="301.2" cy="766.9" r="2.1"/>
<circle cx="352.2" cy="721.3" r="2.1"/>
<circle cx="330.8" cy="732.2" r="2.1"/>
<circle cx="163.5" cy="635.5" r="2.1"/>
<circle cx="410.8" cy="724.0" r="2.1"/>
<circle cx="341.4" cy="768.4" r="2.1"/>
<circle cx="275.0" cy="676.4" r="2.1"/>
<circle cx="291.4" cy="716.9" r="2.1"/>
<circle cx="317.0" cy="763.6" r="2.1"/>
<circle cx="257.6" cy="702.7" r="2.1"/>
<circle cx="326.2" cy="715.4" r="2.1"/>
<circle cx="390.1" cy="736.2" r="2.1"/>
<circle cx="284.3" cy="639.9" r="2.1"/>
<circle cx="365.0" cy="737.8" r="2.1"/>
<circle cx="366.5" cy="739.3" r="2.1"/>
<circle cx="313.2" cy="734.5" r="2.1"/>
<circle cx="210.1" cy="772.1" r="2.1"/>
<circle cx="323.9" cy="750.6" r="2.1"/>
<circle cx="398.9" cy="768.5" r="2.1"/>
<circle cx="371.4" cy="717.2" r="2.1"/>
<circle cx="255.4" cy="720.6" r="2.1"/>
<circle cx="334.3" cy="704.4" r="2.1"/>
<circle cx="258.3" cy="677.6" r="2.1"/>
<circle cx="254.2" cy="654.6" r="2.1"/>
<circle cx="383.6" cy="715.2" r="2.1"/>
<circle cx="357.5" cy="613.0" r="2.1"/>
<circle cx="266.0" cy="681.8" r="2.1"/>
<circle cx="357.5" cy="759.5" r="2.1"/>
<circle cx="385.8" cy="754.1" r="2.1"/>
<circle cx="391.7" cy="721.5" r="2.1"/>
<circle cx="332.1" cy="682.6" r="2.1"/>
<circle cx="366.4" cy="684.4" r="2.1"/>
<circle cx="287.9" cy="703.8" r="2.1"/>
<circle cx="241.3" cy="689.1" r="2.1"/>
<circle cx="413.7" cy="764.0" r="2.1"/>
<circle cx="374.6" cy="685.3" r="2.1"/>
<circle cx="356.6" cy="751.0" r="2.1"/>
<circle cx="337.9" cy="700.4" r="2.1"/>
<circle cx="255.2" cy="713.5" r="2.1"/>
<circle cx="264.3" cy="721.2" r="2.1"/>
<circle cx="378.4" cy="705.7" r="2.1"/>
<circle cx="298.4" cy="679.5" r="2.1"/>
<circle cx="331.3" cy="699.4" r="2.1"/>
<circle cx="212.1" cy="667.2" r="2.1"/>
<circle cx="267.2" cy="707.5" r="2.1"/>
<circle cx="343.8" cy="730.7" r="2.1"/>
<circle cx="386.2" cy="822.6" r="2.1"/>
<circle cx="381.1" cy="773.6" r="2.1"/>
<circle cx="335.3" cy="717.1" r="2.1"/>
<circle cx="366.4" cy="779.6" r="2.1"/>
<circle cx="409.9" cy="746.6" r="2.1"/>
<circle cx="401.7" cy="758.5" r="2.1"/>
<circle cx="385.1" cy="726.3" r="2.1"/>
<circle cx="398.3" cy="738.8" r="2.1"/>
<circle cx="327.4" cy="791.3" r="2.1"/>
<circle cx="292.3" cy="702.8" r="2.1"/>
<circle cx="356.2" cy="685.8" r="2.1"/>
<circle cx="339.4" cy="733.6" r="2.1"/>
<circle cx="452.1" cy="762.6" r="2.1"/>
<circle cx="258.7" cy="698.9" r="2.1"/>
<circle cx="402.5" cy="708.0" r="2.1"/>
<circle cx="380.7" cy="764.3" r="2.1"/>
<circle cx="229.7" cy="703.0" r="2.1"/>
<circle cx="341.0" cy="708.9" r="2.1"/>
<circle cx="352.8" cy="773.7" r="2.1"/>
<circle cx="228.6" cy="710.4" r="2.1"/>
<circle cx="259.0" cy="702.8" r="2.1"/>
<circle cx="195.9" cy="717.5" r="2.1"/>
<circle cx="248.7" cy="690.6" r="2.1"/>
<circle cx="258.1" cy="680.3" r="2.1"/>
<circle cx="322.1" cy="712.9" r="2.1"/>
<circle cx="270.4" cy="735.0" r="2.1"/>
<circle cx="414.0" cy="654.6" r="2.1"/>
<circle cx="165.3" cy="700.4" r="2.1"/>
<circle cx="328.9" cy="706.3" r="2.1"/>
<circle cx="281.4" cy="707.2" r="2.1"/>
<circle cx="298.2" cy="774.5" r="2.1"/>
<circle cx="297.3" cy="799.0" r="2.1"/>
<circle cx="308.8" cy="684.7" r="2.1"/>
<circle cx="302.8" cy="692.7" r="2.1"/>
<circle cx="283.3" cy="700.9" r="2.1"/>
<circle cx="326.6" cy="762.2" r="2.1"/>
<circle cx="312.6" cy="684.1" r="2.1"/>
<circle cx="304.4" cy="698.7" r="2.1"/>
<circle cx="646.6" cy="766.4" r="2.1"/>
<circle cx="746.9" cy="744.1" r="2.1"/>
<circle cx="667.8" cy="753.0" r="2.1"/>
<circle cx="717.8" cy="700.4" r="2.1"/>
<circle cx="703.2" cy="678.6" r="2.1"/>
<circle cx="716.6" cy="705.2" r="2.1"/>
<circle cx="660.3" cy="659.3" r="2.1"/>
<circle cx="630.8" cy="798.4" r="2.1"/>
<circle cx="609.7" cy="766.0" r="2.1"/>
<circle cx="656.9" cy="678.7" r="2.1"/>
<circle cx="614.1" cy="690.4" r="2.1"/>
<circle cx="594.8" cy="749.3" r="2.1"/>
<circle cx="671.1" cy="685.4" r="2.1"/>
<circle cx="680.5" cy="737.6" r="2.1"/>
<circle cx="736.6" cy="727.8" r="2.1"/>
<circle cx="687.4" cy="664.9" r="2.1"/>
<circle cx="718.4" cy="770.3" r="2.1"/>
<circle cx="729.9" cy="697.7" r="2.1"/>
<circle cx="652.8" cy="704.7" r="2.1"/>
<circle cx="673.0" cy="712.1" r="2.1"/>
<circle cx="630.6" cy="678.1" r="2.1"/>
<circle cx="654.4" cy="741.2" r="2.1"/>
<circle cx="648.2" cy="668.8" r="2.1"/>
<circle cx="730.2" cy="726.4" r="2.1"/>
<circle cx="671.2" cy="776.6" r="2.1"/>
<circle cx="595.4" cy="698.2" r="2.1"/>
<circle cx="666.0" cy="758.0" r="2.1"/>
<circle cx="637.9" cy="716.8" r="2.1"/>
<circle cx="643.7" cy="768.0" r="2.1"/>
<circle cx="710.9" cy="662.6" r="2.1"/>
<circle cx="693.0" cy="727.0" r="2.1"/>
<circle cx="715.5" cy="686.9" r="2.1"/>
<circle cx="729.0" cy="727.8" r="2.1"/>
<circle cx="647.7" cy="691.3" r="2.1"/>
<circle cx="710.4" cy="687.5" r="2.1"/>
<circle cx="669.7" cy="733.1" r="2.1"/>
<circle cx="645.2" cy="721.0" r="2.1"/>
<circle cx="661.6" cy="703.3" r="2.1"/>
<circle cx="763.3" cy="742.6" r="2.1"/>
<circle cx="638.5" cy="724.7" r="2.1"/>
<circle cx="723.8" cy="719.1" r="2.1"/>
<circle cx="653.4" cy="674.0" r="2.1"/>
<circle cx="587.3" cy="702.0" r="2.1"/>
<circle cx="778.8" cy="789.3" r="2.1"/>
<circle cx="740.5" cy="699.1" r="2.1"/>
<circle cx="698.5" cy="777.6" r="2.1"/>
<circle cx="746.1" cy="739.3" r="2.1"/>
<circle cx="658.4" cy="707.2" r="2.1"/>
<circle cx="628.0" cy="714.0" r="2.1"/>
<circle cx="645.3" cy="801.4" r="2.1"/>
<circle cx="764.7" cy="804.4" r="2.1"/>
<circle cx="650.8" cy="733.1" r="2.1"/>
<circle cx="660.7" cy="737.3" r="2.1"/>
<circle cx="558.5" cy="709.7" r="2.1"/>
<circle cx="686.1" cy="656.5" r="2.1"/>
<circle cx="660.7" cy="751.9" r="2.1"/>
<circle cx="717.8" cy="775.8" r="2.1"/>
<circle cx="685.6" cy="696.8" r="2.1"/>
<circle cx="724.2" cy="731.0" r="2.1"/>
<circle cx="738.4" cy="765.5" r="2.1"/>
<circle cx="645.0" cy="709.6" r="2.1"/>
<circle cx="642.4" cy="741.3" r="2.1"/>
<circle cx="711.1" cy="701.0" r="2.1"/>
<circle cx="651.8" cy="764.7" r="2.1"/>
<circle cx="753.2" cy="749.3" r="2.1"/>
<circle cx="624.3" cy="694.1" r="2.1"/>
<circle cx="724.0" cy="709.5" r="2.1"/>
<circle cx="618.2" cy="754.6" r="2.1"/>
<circle cx="668.0" cy="706.0" r="2.1"/>
<circle cx="675.1" cy="732.9" r="2.1"/>
<circle cx="697.5" cy="703.5" r="2.1"/>
<circle cx="718.0" cy="747.6" r="2.1"/>
<circle cx="648.9" cy="693.7" r="2.1"/>
<circle cx="618.8" cy="745.6" r="2.1"/>
<circle cx="716.2" cy="712.9" r="2.1"/>
<circle cx="728.2" cy="711.6" r="2.1"/>
<circle cx="743.1" cy="697.6" r="2.1"/>
<circle cx="617.1" cy="711.0" r="2.1"/>
<circle cx="727.5" cy="712.9" r="2.1"/>
<circle cx="676.0" cy="694.2" r="2.1"/>
<circle cx="657.5" cy="708.2" r="2.1"/>
<circle cx="655.8" cy="756.1" r="2.1"/>
<circle cx="680.3" cy="756.8" r="2.1"/>
<circle cx="652.7" cy="741.6" r="2.1"/>
<circle cx="728.6" cy="749.2" r="2.1"/>
<circle cx="697.5" cy="760.8" r="2.1"/>
<circle cx="653.8" cy="656.1" r="2.1"/>
<circle cx="753.8" cy="736.3" r="2.1"/>
<circle cx="720.0" cy="751.8" r="2.1"/>
<circle cx="694.0" cy="727.5" r="2.1"/>
<circle cx="662.8" cy="716.2" r="2.1"/>
<circle cx="677.4" cy="758.0" r="2.1"/>
<circle cx="697.6" cy="780.3" r="2.1"/>
<circle cx="656.7" cy="693.1" r="2.1"/>
<circle cx="721.5" cy="729.2" r="2.1"/>
<circle cx="691.4" cy="754.8" r="2.1"/>
<circle cx="723.3" cy="743.8" r="2.1"/>
<circle cx="640.0" cy="730.1" r="2.1"/>
<circle cx="683.2" cy="692.1" r="2.1"/>
<circle cx="679.9" cy="729.5" r="2.1"/>
<circle cx="639.1" cy="714.1" r="2.1"/>
<circle cx="701.7" cy="757.4" r="2.1"/>
<circle cx="714.7" cy="748.3" r="2.1"/>
<circle cx="696.2" cy="743.7" r="2.1"/>
<circle cx="705.2" cy="727.0" r="2.1"/>
<circle cx="614.2" cy="708.2" r="2.1"/>
<circle cx="673.0" cy="711.8" r="2.1"/>
<circle cx="611.8" cy="714.7" r="2.1"/>
<circle cx="666.3" cy="675.2" r="2.1"/>
<circle cx="770.0" cy="749.3" r="2.1"/>
<circle cx="702.7" cy="682.5" r="2.1"/>
<circle cx="760.2" cy="709.0" r="2.1"/>
<circle cx="713.7" cy="686.6" r="2.1"/>
<circle cx="619.4" cy="720.8" r="2.1"/>
<circle cx="633.5" cy="678.9" r="2.1"/>
<circle cx="668.7" cy="754.2" r="2.1"/>
<circle cx="698.6" cy="732.2" r="2.1"/>
<circle cx="639.9" cy="742.0" r="2.1"/>
<circle cx="647.5" cy="790.5" r="2.1"/>
<circle cx="741.0" cy="721.4" r="2.1"/>
<circle cx="714.8" cy="754.5" r="2.1"/>
<circle cx="710.6" cy="766.4" r="2.1"/>
<circle cx="716.9" cy="684.1" r="2.1"/>
<circle cx="619.2" cy="735.9" r="2.1"/>
<circle cx="738.9" cy="743.6" r="2.1"/>
<circle cx="597.0" cy="718.1" r="2.1"/>
<circle cx="651.8" cy="736.3" r="2.1"/>
<circle cx="740.7" cy="789.8" r="2.1"/>
<circle cx="617.9" cy="793.4" r="2.1"/>
<circle cx="711.1" cy="699.2" r="2.1"/>
<circle cx="644.2" cy="674.0" r="2.1"/>
<circle cx="659.6" cy="672.4" r="2.1"/>
<circle cx="690.7" cy="699.0" r="2.1"/>
<circle cx="668.0" cy="729.1" r="2.1"/>
<circle cx="637.8" cy="764.0" r="2.1"/>
<circle cx="743.6" cy="765.4" r="2.1"/>
<circle cx="690.7" cy="685.5" r="2.1"/>
<circle cx="710.8" cy="704.4" r="2.1"/>
<circle cx="602.5" cy="735.1" r="2.1"/>
<circle cx="661.2" cy="727.4" r="2.1"/>
<circle cx="670.2" cy="760.4" r="2.1"/>
<circle cx="681.8" cy="741.3" r="2.1"/>
<circle cx="702.8" cy="675.9" r="2.1"/>
<circle cx="676.8" cy="714.8" r="2.1"/>
<circle cx="687.8" cy="743.3" r="2.1"/>
<circle cx="661.6" cy="671.8" r="2.1"/>
<circle cx="622.8" cy="734.0" r="2.1"/>
<circle cx="717.7" cy="753.3" r="2.1"/>
<circle cx="744.0" cy="803.7" r="2.1"/>
<circle cx="570.3" cy="619.9" r="2.1"/>
<circle cx="583.1" cy="755.6" r="2.1"/>
<circle cx="689.3" cy="706.6" r="2.1"/>
<circle cx="712.4" cy="744.2" r="2.1"/>
<circle cx="669.0" cy="681.4" r="2.1"/>
<circle cx="718.9" cy="713.5" r="2.1"/>
<circle cx="693.2" cy="695.3" r="2.1"/>
<circle cx="742.3" cy="709.8" r="2.1"/>
<circle cx="699.2" cy="748.6" r="2.1"/>
<circle cx="661.1" cy="703.8" r="2.1"/>
<circle cx="755.6" cy="746.0" r="2.1"/>
<circle cx="699.9" cy="711.1" r="2.1"/>
<circle cx="715.6" cy="716.0" r="2.1"/>
<circle cx="716.5" cy="729.9" r="2.1"/>
<circle cx="676.9" cy="721.2" r="2.1"/>
<circle cx="717.9" cy="773.0" r="2.1"/>
<circle cx="718.0" cy="750.0" r="2.1"/>
<circle cx="656.5" cy="682.3" r="2.1"/>
<circle cx="650.6" cy="678.8" r="2.1"/>
<circle cx="757.5" cy="765.0" r="2.1"/>
<circle cx="662.4" cy="728.3" r="2.1"/>
<circle cx="640.7" cy="771.2" r="2.1"/>
<circle cx="737.4" cy="698.7" r="2.1"/>
<circle cx="738.0" cy="734.6" r="2.1"/>
<circle cx="674.7" cy="780.7" r="2.1"/>
<circle cx="613.0" cy="712.1" r="2.1"/>
<circle cx="753.2" cy="759.4" r="2.1"/>
<circle cx="646.5" cy="759.8" r="2.1"/>
<circle cx="690.6" cy="768.3" r="2.1"/>
<circle cx="627.2" cy="697.4" r="2.1"/>
<circle cx="675.4" cy="690.6" r="2.1"/>
<circle cx="697.8" cy="756.8" r="2.1"/>
<circle cx="625.8" cy="677.9" r="2.1"/>
<circle cx="589.1" cy="748.3" r="2.1"/>
<circle cx="645.7" cy="684.0" r="2.1"/>
<circle cx="745.5" cy="730.0" r="2.1"/>
<circle cx="742.2" cy="713.1" r="2.1"/>
<circle cx="573.6" cy="712.4" r="2.1"/>
<circle cx="752.3" cy="761.0" r="2.1"/>
<circle cx="653.0" cy="672.7" r="2.1"/>
<circle cx="620.0" cy="706.0" r="2.1"/>
<circle cx="678.7" cy="699.9" r="2.1"/>
<circle cx="675.0" cy="716.1" r="2.1"/>
<circle cx="617.0" cy="718.1" r="2.1"/>
<circle cx="673.3" cy="707.0" r="2.1"/>
<circle cx="707.4" cy="685.2" r="2.1"/>
<circle cx="675.9" cy="810.3" r="2.1"/>
<circle cx="681.7" cy="717.8" r="2.1"/>
<circle cx="724.5" cy="744.7" r="2.1"/>
<circle cx="716.6" cy="717.8" r="2.1"/>
<circle cx="684.5" cy="694.4" r="2.1"/>
<circle cx="759.8" cy="710.6" r="2.1"/>
<circle cx="645.4" cy="667.1" r="2.1"/>
<circle cx="620.6" cy="692.6" r="2.1"/>
<circle cx="727.9" cy="688.3" r="2.1"/>
<circle cx="756.2" cy="737.5" r="2.1"/>
<circle cx="670.0" cy="714.5" r="2.1"/>
<circle cx="677.6" cy="708.4" r="2.1"/>
<circle cx="678.2" cy="670.5" r="2.1"/>
<circle cx="700.9" cy="724.2" r="2.1"/>
<circle cx="609.4" cy="681.0" r="2.1"/>
<circle cx="808.0" cy="787.3" r="2.1"/>
<circle cx="715.5" cy="694.3" r="2.1"/>
<circle cx="726.0" cy="749.4" r="2.1"/>
<circle cx="664.5" cy="704.5" r="2.1"/>
<circle cx="620.7" cy="710.7" r="2.1"/>
<circle cx="628.4" cy="689.9" r="2.1"/>
<circle cx="710.5" cy="681.6" r="2.1"/>
<circle cx="670.7" cy="681.0" r="2.1"/>
<circle cx="644.7" cy="776.0" r="2.1"/>
<circle cx="681.1" cy="691.9" r="2.1"/>
<circle cx="697.7" cy="773.8" r="2.1"/>
<circle cx="714.7" cy="714.4" r="2.1"/>
<circle cx="714.6" cy="746.0" r="2.1"/>
<circle cx="636.8" cy="749.3" r="2.1"/>
<circle cx="554.0" cy="697.0" r="2.1"/>
<circle cx="693.0" cy="762.4" r="2.1"/>
<circle cx="741.6" cy="686.9" r="2.1"/>
<circle cx="693.1" cy="706.7" r="2.1"/>
<circle cx="705.2" cy="706.7" r="2.1"/>
<circle cx="709.7" cy="761.0" r="2.1"/>
<circle cx="674.4" cy="770.6" r="2.1"/>
<circle cx="753.8" cy="692.7" r="2.1"/>
<circle cx="744.4" cy="714.9" r="2.1"/>
<circle cx="709.6" cy="775.1" r="2.1"/>
<circle cx="637.4" cy="688.7" r="2.1"/>
<circle cx="643.6" cy="691.0" r="2.1"/>
<circle cx="670.3" cy="755.6" r="2.1"/>
<circle cx="743.6" cy="721.4" r="2.1"/>
<circle cx="557.9" cy="744.5" r="2.1"/>
<circle cx="681.8" cy="744.7" r="2.1"/>
<circle cx="663.1" cy="683.7" r="2.1"/>
<circle cx="654.6" cy="661.6" r="2.1"/>
<circle cx="674.3" cy="699.7" r="2.1"/>
<circle cx="801.1" cy="826.0" r="2.1"/>
<circle cx="669.4" cy="720.7" r="2.1"/>
<circle cx="673.3" cy="708.4" r="2.1"/>
<circle cx="728.0" cy="724.0" r="2.1"/>
<circle cx="628.9" cy="735.1" r="2.1"/>
<circle cx="723.8" cy="672.4" r="2.1"/>
<circle cx="666.6" cy="675.1" r="2.1"/>
<circle cx="684.1" cy="677.3" r="2.1"/>
<circle cx="638.6" cy="698.0" r="2.1"/>
<circle cx="623.5" cy="744.3" r="2.1"/>
<circle cx="605.6" cy="730.6" r="2.1"/>
<circle cx="620.0" cy="677.3" r="2.1"/>
<circle cx="725.8" cy="694.7" r="2.1"/>
<circle cx="648.5" cy="800.9" r="2.1"/>
<circle cx="725.2" cy="701.5" r="2.1"/>
<circle cx="636.3" cy="711.4" r="2.1"/>
<circle cx="599.8" cy="710.2" r="2.1"/>
<circle cx="692.3" cy="791.9" r="2.1"/>
<circle cx="693.3" cy="746.5" r="2.1"/>
<circle cx="681.4" cy="728.3" r="2.1"/>
<circle cx="613.5" cy="717.3" r="2.1"/>
<circle cx="623.9" cy="659.5" r="2.1"/>
<circle cx="632.3" cy="686.3" r="2.1"/>
<circle cx="595.9" cy="659.2" r="2.1"/>
<circle cx="587.3" cy="700.2" r="2.1"/>
<circle cx="739.8" cy="723.0" r="2.1"/>
<circle cx="636.0" cy="694.5" r="2.1"/>
<circle cx="726.8" cy="682.3" r="2.1"/>
<circle cx="684.3" cy="740.8" r="2.1"/>
<circle cx="740.3" cy="751.1" r="2.1"/>
<circle cx="685.0" cy="766.9" r="2.1"/>
<circle cx="739.4" cy="738.5" r="2.1"/>
<circle cx="773.5" cy="724.6" r="2.1"/>
<circle cx="613.1" cy="758.7" r="2.1"/>
<circle cx="660.3" cy="704.8" r="2.1"/>
<circle cx="726.3" cy="758.5" r="2.1"/>
<circle cx="694.1" cy="723.5" r="2.1"/>
<circle cx="681.0" cy="734.5" r="2.1"/>
<circle cx="657.5" cy="713.0" r="2.1"/>
<circle cx="703.3" cy="734.6" r="2.1"/>
<circle cx="711.1" cy="700.8" r="2.1"/>
<circle cx="650.8" cy="713.1" r="2.1"/>
<circle cx="627.9" cy="664.8" r="2.1"/>
<circle cx="675.0" cy="722.9" r="2.1"/>
<circle cx="671.3" cy="752.8" r="2.1"/>
<circle cx="766.7" cy="739.1" r="2.1"/>
<circle cx="653.6" cy="696.1" r="2.1"/>
<circle cx="692.8" cy="670.1" r="2.1"/>
<circle cx="692.4" cy="714.8" r="2.1"/>
<circle cx="675.1" cy="713.5" r="2.1"/>
<circle cx="612.8" cy="691.5" r="2.1"/>
<circle cx="657.8" cy="781.5" r="2.1"/>
<circle cx="700.9" cy="697.8" r="2.1"/>
<circle cx="762.2" cy="761.1" r="2.1"/>
<circle cx="636.1" cy="757.8" r="2.1"/>
<circle cx="601.0" cy="691.9" r="2.1"/>
<circle cx="704.0" cy="731.5" r="2.1"/>
<circle cx="759.2" cy="694.8" r="2.1"/>
<circle cx="795.3" cy="729.0" r="2.1"/>
<circle cx="713.1" cy="698.1" r="2.1"/>
<circle cx="562.5" cy="684.3" r="2.1"/>
<circle cx="636.7" cy="741.3" r="2.1"/>
<circle cx="637.9" cy="676.2" r="2.1"/>
<circle cx="695.6" cy="717.4" r="2.1"/>
<circle cx="736.2" cy="671.6" r="2.1"/>
<circle cx="759.7" cy="710.0" r="2.1"/>
<circle cx="731.9" cy="738.2" r="2.1"/>
<circle cx="664.7" cy="763.1" r="2.1"/>
<circle cx="620.6" cy="731.1" r="2.1"/>
<circle cx="743.9" cy="729.9" r="2.1"/>
<circle cx="648.4" cy="699.2" r="2.1"/>
<circle cx="725.4" cy="723.0" r="2.1"/>
<circle cx="675.6" cy="748.0" r="2.1"/>
<circle cx="666.1" cy="692.5" r="2.1"/>
<circle cx="644.8" cy="646.2" r="2.1"/>
<circle cx="676.9" cy="756.5" r="2.1"/>
<circle cx="718.3" cy="709.6" r="2.1"/>
<circle cx="690.9" cy="731.5" r="2.1"/>
<circle cx="713.3" cy="703.6" r="2.1"/>
<circle cx="663.2" cy="670.4" r="2.1"/>
<circle cx="629.9" cy="669.7" r="2.1"/>
<circle cx="611.9" cy="714.5" r="2.1"/>
<circle cx="595.3" cy="668.0" r="2.1"/>
<circle cx="599.3" cy="703.0" r="2.1"/>
<circle cx="709.1" cy="737.8" r="2.1"/>
<circle cx="723.4" cy="747.7" r="2.1"/>
<circle cx="804.4" cy="726.6" r="2.1"/>
<circle cx="631.5" cy="691.8" r="2.1"/>
<circle cx="683.6" cy="685.3" r="2.1"/>
<circle cx="737.9" cy="727.2" r="2.1"/>
<circle cx="642.0" cy="712.0" r="2.1"/>
<circle cx="725.1" cy="715.4" r="2.1"/>
<circle cx="693.6" cy="707.6" r="2.1"/>
<circle cx="631.4" cy="706.6" r="2.1"/>
<circle cx="580.3" cy="694.5" r="2.1"/>
<circle cx="622.5" cy="745.9" r="2.1"/>
<circle cx="751.8" cy="739.8" r="2.1"/>
<circle cx="659.1" cy="722.8" r="2.1"/>
<circle cx="682.4" cy="709.3" r="2.1"/>
<circle cx="727.5" cy="722.5" r="2.1"/>
<circle cx="691.6" cy="728.3" r="2.1"/>
<circle cx="625.0" cy="677.4" r="2.1"/>
<circle cx="697.9" cy="690.3" r="2.1"/>
<circle cx="646.8" cy="813.3" r="2.1"/>
<circle cx="649.0" cy="694.2" r="2.1"/>
<circle cx="694.9" cy="727.4" r="2.1"/>
<circle cx="693.7" cy="750.8" r="2.1"/>
<circle cx="710.4" cy="774.3" r="2.1"/>
<circle cx="664.5" cy="741.8" r="2.1"/>
<circle cx="713.1" cy="711.9" r="2.1"/>
<circle cx="711.0" cy="727.7" r="2.1"/>
<circle cx="696.1" cy="700.6" r="2.1"/>
<circle cx="673.9" cy="737.1" r="2.1"/>
<circle cx="671.6" cy="768.8" r="2.1"/>
<circle cx="695.6" cy="690.5" r="2.1"/>
<circle cx="699.6" cy="724.8" r="2.1"/>
<circle cx="662.7" cy="710.6" r="2.1"/>
<circle cx="591.5" cy="724.2" r="2.1"/>
<circle cx="722.2" cy="696.0" r="2.1"/>
<circle cx="711.9" cy="748.2" r="2.1"/>
<circle cx="650.2" cy="722.2" r="2.1"/>
<circle cx="737.2" cy="769.4" r="2.1"/>
<circle cx="662.7" cy="690.6" r="2.1"/>
<circle cx="662.3" cy="748.7" r="2.1"/>
<circle cx="594.8" cy="730.0" r="2.1"/>
<circle cx="647.9" cy="741.5" r="2.1"/>
<circle cx="594.9" cy="707.1" r="2.1"/>
<circle cx="674.4" cy="669.3" r="2.1"/>
<circle cx="555.2" cy="650.8" r="2.1"/>
<circle cx="728.9" cy="703.4" r="2.1"/>
<circle cx="628.5" cy="726.9" r="2.1"/>
<circle cx="616.3" cy="683.6" r="2.1"/>
<circle cx="546.2" cy="763.2" r="2.1"/>
<circle cx="639.1" cy="764.9" r="2.1"/>
<circle cx="730.3" cy="680.7" r="2.1"/>
<circle cx="657.4" cy="681.4" r="2.1"/>
<circle cx="662.3" cy="748.8" r="2.1"/>
<circle cx="790.7" cy="754.0" r="2.1"/>
<circle cx="689.2" cy="695.8" r="2.1"/>
<circle cx="635.0" cy="660.5" r="2.1"/>
<circle cx="721.5" cy="745.5" r="2.1"/>
<circle cx="653.5" cy="684.9" r="2.1"/>
<circle cx="656.9" cy="739.9" r="2.1"/>
<circle cx="711.4" cy="793.8" r="2.1"/>
<circle cx="649.8" cy="763.2" r="2.1"/>
<circle cx="723.4" cy="720.2" r="2.1"/>
<circle cx="727.9" cy="731.6" r="2.1"/>
<circle cx="623.2" cy="716.8" r="2.1"/>
<circle cx="800.5" cy="715.6" r="2.1"/>
<circle cx="680.7" cy="709.6" r="2.1"/>
<circle cx="660.1" cy="711.7" r="2.1"/>
<circle cx="735.9" cy="755.7" r="2.1"/>
<circle cx="622.5" cy="759.9" r="2.1"/>
<circle cx="663.7" cy="658.1" r="2.1"/>
<circle cx="715.6" cy="667.9" r="2.1"/>
<circle cx="734.4" cy="742.6" r="2.1"/>
<circle cx="747.3" cy="723.0" r="2.1"/>
<circle cx="732.8" cy="702.4" r="2.1"/>
<circle cx="664.0" cy="759.7" r="2.1"/>
<circle cx="583.6" cy="772.5" r="2.1"/>
<circle cx="710.8" cy="696.2" r="2.1"/>
<circle cx="650.6" cy="693.0" r="2.1"/>
<circle cx="579.2" cy="766.6" r="2.1"/>
<circle cx="657.5" cy="686.3" r="2.1"/>
<circle cx="665.6" cy="699.7" r="2.1"/>
<circle cx="648.1" cy="693.2" r="2.1"/>
<circle cx="710.2" cy="778.6" r="2.1"/>
<circle cx="636.0" cy="698.5" r="2.1"/>
<circle cx="601.0" cy="726.8" r="2.1"/>
<circle cx="691.2" cy="711.3" r="2.1"/>
<circle cx="687.0" cy="665.8" r="2.1"/>
<circle cx="676.1" cy="710.8" r="2.1"/>
<circle cx="693.2" cy="715.7" r="2.1"/>
<circle cx="663.5" cy="747.4" r="2.1"/>
<circle cx="717.1" cy="749.4" r="2.1"/>
<circle cx="675.6" cy="718.2" r="2.1"/>
<circle cx="689.0" cy="737.5" r="2.1"/>
<circle cx="557.6" cy="664.9" r="2.1"/>
<circle cx="668.1" cy="780.3" r="2.1"/>
<circle cx="745.5" cy="668.1" r="2.1"/>
<circle cx="715.8" cy="729.4" r="2.1"/>
<circle cx="683.1" cy="757.1" r="2.1"/>
<circle cx="755.5" cy="712.1" r="2.1"/>
<circle cx="702.9" cy="710.5" r="2.1"/>
<circle cx="742.0" cy="684.4" r="2.1"/>
<circle cx="721.1" cy="765.7" r="2.1"/>
<circle cx="734.7" cy="752.8" r="2.1"/>
<circle cx="697.6" cy="742.6" r="2.1"/>
<circle cx="628.4" cy="710.9" r="2.1"/>
<circle cx="715.2" cy="730.7" r="2.1"/>
<circle cx="682.6" cy="681.4" r="2.1"/>
<circle cx="638.7" cy="740.6" r="2.1"/>
<circle cx="680.8" cy="725.9" r="2.1"/>
<circle cx="567.4" cy="648.9" r="2.1"/>
<circle cx="664.6" cy="709.9" r="2.1"/>
<circle cx="667.7" cy="729.3" r="2.1"/>
<circle cx="706.9" cy="746.5" r="2.1"/>
<circle cx="614.5" cy="768.7" r="2.1"/>
<circle cx="703.3" cy="722.0" r="2.1"/>
<circle cx="640.5" cy="677.3" r="2.1"/>
<circle cx="795.3" cy="685.0" r="2.1"/>
<circle cx="642.9" cy="733.6" r="2.1"/>
<circle cx="605.4" cy="729.1" r="2.1"/>
<circle cx="676.2" cy="697.9" r="2.1"/>
<circle cx="627.7" cy="758.3" r="2.1"/>
<circle cx="710.0" cy="719.5" r="2.1"/>
<circle cx="656.4" cy="755.7" r="2.1"/>
<circle cx="716.5" cy="755.2" r="2.1"/>
<circle cx="631.8" cy="693.6" r="2.1"/>
<circle cx="662.4" cy="633.7" r="2.1"/>
<circle cx="736.7" cy="693.2" r="2.1"/>
<circle cx="761.4" cy="662.8" r="2.1"/>
<circle cx="718.2" cy="746.3" r="2.1"/>
<circle cx="631.0" cy="685.6" r="2.1"/>
<circle cx="682.1" cy="713.9" r="2.1"/>
<circle cx="656.0" cy="727.3" r="2.1"/>
<circle cx="731.0" cy="690.0" r="2.1"/>
<circle cx="625.2" cy="703.8" r="2.1"/>
<circle cx="699.8" cy="686.7" r="2.1"/>
<circle cx="682.9" cy="761.8" r="2.1"/>
<circle cx="617.2" cy="687.3" r="2.1"/>
<circle cx="633.6" cy="768.7" r="2.1"/>
<circle cx="662.0" cy="689.4" r="2.1"/>
<circle cx="666.2" cy="727.0" r="2.1"/>
<circle cx="584.4" cy="672.9" r="2.1"/>
<circle cx="720.4" cy="757.6" r="2.1"/>
<circle cx="702.7" cy="725.8" r="2.1"/>
<circle cx="644.2" cy="736.2" r="2.1"/>
<circle cx="555.1" cy="721.9" r="2.1"/>
<circle cx="648.3" cy="693.5" r="2.1"/>
<circle cx="695.3" cy="716.2" r="2.1"/>
<circle cx="645.4" cy="814.3" r="2.1"/>
<circle cx="709.8" cy="738.4" r="2.1"/>
<circle cx="664.5" cy="693.6" r="2.1"/>
<circle cx="739.4" cy="741.6" r="2.1"/>
<circle cx="719.8" cy="728.2" r="2.1"/>
<circle cx="665.9" cy="719.6" r="2.1"/>
<circle cx="693.3" cy="721.2" r="2.1"/>
<circle cx="626.0" cy="691.9" r="2.1"/>
<circle cx="549.2" cy="682.0" r="2.1"/>
<circle cx="758.6" cy="713.7" r="2.1"/>
<circle cx="726.1" cy="722.3" r="2.1"/>
<circle cx="681.2" cy="730.5" r="2.1"/>
<circle cx="699.9" cy="773.5" r="2.1"/>
<circle cx="616.1" cy="744.0" r="2.1"/>
<circle cx="771.4" cy="762.5" r="2.1"/>
<circle cx="731.6" cy="710.9" r="2.1"/>
<circle cx="781.3" cy="816.8" r="2.1"/>
<circle cx="708.7" cy="737.6" r="2.1"/>
<circle cx="746.4" cy="766.0" r="2.1"/>
<circle cx="723.8" cy="705.2" r="2.1"/>
<circle cx="722.8" cy="690.1" r="2.1"/>
<circle cx="677.0" cy="720.6" r="2.1"/>
<circle cx="797.1" cy="674.1" r="2.1"/>
<circle cx="633.9" cy="744.5" r="2.1"/>
<circle cx="642.3" cy="780.8" r="2.1"/>
<circle cx="676.3" cy="695.8" r="2.1"/>
<circle cx="607.8" cy="718.8" r="2.1"/>
<circle cx="655.5" cy="692.0" r="2.1"/>
<circle cx="718.0" cy="762.0" r="2.1"/>
<circle cx="681.8" cy="717.7" r="2.1"/>
<circle cx="706.4" cy="749.6" r="2.1"/>
<circle cx="775.9" cy="677.9" r="2.1"/>
<circle cx="669.7" cy="700.0" r="2.1"/>
<circle cx="743.0" cy="708.3" r="2.1"/>
<circle cx="614.6" cy="734.1" r="2.1"/>
<circle cx="697.7" cy="696.4" r="2.1"/>
<circle cx="705.7" cy="754.5" r="2.1"/>
<circle cx="651.8" cy="710.6" r="2.1"/>
<circle cx="707.4" cy="663.9" r="2.1"/>
<circle cx="767.4" cy="771.3" r="2.1"/>
<circle cx="718.8" cy="694.9" r="2.1"/>
<circle cx="706.3" cy="716.8" r="2.1"/>
<circle cx="655.4" cy="687.8" r="2.1"/>
<circle cx="656.2" cy="624.1" r="2.1"/>
<circle cx="739.4" cy="738.1" r="2.1"/>
<circle cx="716.6" cy="687.7" r="2.1"/>
<circle cx="735.6" cy="722.0" r="2.1"/>
<circle cx="636.2" cy="751.4" r="2.1"/>
<circle cx="708.9" cy="644.8" r="2.1"/>
<circle cx="735.1" cy="711.0" r="2.1"/>
<circle cx="635.4" cy="689.3" r="2.1"/>
<circle cx="720.1" cy="716.1" r="2.1"/>
<circle cx="724.1" cy="757.3" r="2.1"/>
<circle cx="577.4" cy="708.9" r="2.1"/>
<circle cx="699.7" cy="704.8" r="2.1"/>
<circle cx="693.5" cy="768.9" r="2.1"/>
<circle cx="673.8" cy="787.3" r="2.1"/>
<circle cx="759.9" cy="763.8" r="2.1"/>
<circle cx="699.9" cy="704.3" r="2.1"/>
<circle cx="596.8" cy="704.6" r="2.1"/>
<circle cx="570.6" cy="727.3" r="2.1"/>
<circle cx="710.2" cy="687.9" r="2.1"/>
<circle cx="614.5" cy="726.0" r="2.1"/>
<circle cx="620.4" cy="683.0" r="2.1"/>
<circle cx="697.1" cy="798.0" r="2.1"/>
<circle cx="705.4" cy="756.6" r="2.1"/>
<circle cx="693.6" cy="722.1" r="2.1"/>
<circle cx="653.5" cy="713.9" r="2.1"/>
<circle cx="692.6" cy="693.6" r="2.1"/>
<circle cx="774.2" cy="711.4" r="2.1"/>
<circle cx="642.8" cy="715.4" r="2.1"/>
<circle cx="696.7" cy="676.9" r="2.1"/>
<circle cx="587.9" cy="710.7" r="2.1"/>
<circle cx="624.7" cy="685.9" r="2.1"/>
<circle cx="645.3" cy="751.5" r="2.1"/>
<circle cx="670.2" cy="724.5" r="2.1"/>
<circle cx="745.8" cy="707.8" r="2.1"/>
<circle cx="680.1" cy="735.5" r="2.1"/>
<circle cx="688.0" cy="758.9" r="2.1"/>
<circle cx="671.5" cy="763.0" r="2.1"/>
<circle cx="774.3" cy="716.1" r="2.1"/>
<circle cx="744.3" cy="736.2" r="2.1"/>
<circle cx="745.8" cy="756.6" r="2.1"/>
<circle cx="776.5" cy="687.3" r="2.1"/>
<circle cx="660.7" cy="731.5" r="2.1"/>
<circle cx="672.2" cy="783.8" r="2.1"/>
<circle cx="628.2" cy="717.9" r="2.1"/>
<circle cx="783.0" cy="771.2" r="2.1"/>
<circle cx="761.3" cy="743.0" r="2.1"/>
<circle cx="664.0" cy="682.0" r="2.1"/>
<circle cx="726.2" cy="715.2" r="2.1"/>
<circle cx="650.7" cy="680.4" r="2.1"/>
<circle cx="693.6" cy="695.0" r="2.1"/>
<circle cx="645.0" cy="653.4" r="2.1"/>
<circle cx="722.2" cy="694.0" r="2.1"/>
<circle cx="650.5" cy="714.2" r="2.1"/>
<circle cx="710.7" cy="766.7" r="2.1"/>
<circle cx="681.4" cy="775.4" r="2.1"/>
<circle cx="670.8" cy="672.8" r="2.1"/>
<circle cx="726.4" cy="719.9" r="2.1"/>
<circle cx="636.2" cy="749.5" r="2.1"/>
<circle cx="633.4" cy="777.2" r="2.1"/>
<circle cx="727.3" cy="744.1" r="2.1"/>
<circle cx="681.2" cy="764.5" r="2.1"/>
<circle cx="688.0" cy="698.4" r="2.1"/>
<circle cx="580.6" cy="733.1" r="2.1"/>
<circle cx="626.3" cy="710.8" r="2.1"/>
<circle cx="659.2" cy="748.5" r="2.1"/>
<circle cx="703.0" cy="714.1" r="2.1"/>
<circle cx="660.7" cy="701.5" r="2.1"/>
<circle cx="568.2" cy="696.8" r="2.1"/>
<circle cx="757.8" cy="692.3" r="2.1"/>
<circle cx="704.8" cy="758.8" r="2.1"/>
<circle cx="669.1" cy="754.4" r="2.1"/>
<circle cx="692.0" cy="682.4" r="2.1"/>
<circle cx="646.9" cy="674.0" r="2.1"/>
<circle cx="681.7" cy="794.6" r="2.1"/>
<circle cx="559.3" cy="657.6" r="2.1"/>
<circle cx="719.1" cy="698.1" r="2.1"/>
<circle cx="678.4" cy="705.1" r="2.1"/>
<circle cx="609.4" cy="683.6" r="2.1"/>
<circle cx="684.4" cy="701.6" r="2.1"/>
<circle cx="672.4" cy="679.0" r="2.1"/>
<circle cx="633.9" cy="749.7" r="2.1"/>
<circle cx="770.3" cy="692.3" r="2.1"/>
<circle cx="705.1" cy="679.3" r="2.1"/>
<circle cx="633.4" cy="694.1" r="2.1"/>
<circle cx="631.6" cy="727.2" r="2.1"/>
<circle cx="676.0" cy="711.7" r="2.1"/>
<circle cx="690.8" cy="691.5" r="2.1"/>
<circle cx="552.8" cy="655.9" r="2.1"/>
<circle cx="658.3" cy="709.3" r="2.1"/>
<circle cx="628.5" cy="738.2" r="2.1"/>
<circle cx="778.3" cy="779.9" r="2.1"/>
<circle cx="728.3" cy="706.7" r="2.1"/>
<circle cx="706.3" cy="681.0" r="2.1"/>
<circle cx="721.1" cy="783.4" r="2.1"/>
<circle cx="651.7" cy="767.3" r="2.1"/>
<circle cx="624.2" cy="690.2" r="2.1"/>
<circle cx="669.2" cy="727.9" r="2.1"/>
<circle cx="693.6" cy="779.0" r="2.1"/>
<circle cx="733.1" cy="737.5" r="2.1"/>
<circle cx="628.9" cy="684.6" r="2.1"/>
<circle cx="676.1" cy="696.1" r="2.1"/>
<circle cx="641.2" cy="729.5" r="2.1"/>
<circle cx="715.1" cy="771.4" r="2.1"/>
<circle cx="641.6" cy="649.7" r="2.1"/>
<circle cx="652.8" cy="675.7" r="2.1"/>
<circle cx="707.7" cy="693.2" r="2.1"/>
<circle cx="719.5" cy="753.4" r="2.1"/>
<circle cx="652.9" cy="694.1" r="2.1"/>
<circle cx="611.6" cy="688.2" r="2.1"/>
<circle cx="695.9" cy="783.5" r="2.1"/>
<circle cx="610.9" cy="717.6" r="2.1"/>
<circle cx="656.8" cy="731.0" r="2.1"/>
<circle cx="760.5" cy="726.7" r="2.1"/>
<circle cx="780.0" cy="702.6" r="2.1"/>
<circle cx="644.9" cy="712.7" r="2.1"/>
<circle cx="640.1" cy="717.8" r="2.1"/>
<circle cx="690.2" cy="700.8" r="2.1"/>
<circle cx="668.7" cy="683.7" r="2.1"/>
<circle cx="676.3" cy="764.0" r="2.1"/>
<circle cx="725.8" cy="676.8" r="2.1"/>
<circle cx="721.9" cy="726.3" r="2.1"/>
<circle cx="668.5" cy="744.3" r="2.1"/>
<circle cx="705.3" cy="649.5" r="2.1"/>
<circle cx="619.8" cy="741.1" r="2.1"/>
<circle cx="726.4" cy="685.5" r="2.1"/>
<circle cx="682.2" cy="673.2" r="2.1"/>
<circle cx="725.8" cy="699.1" r="2.1"/>
<circle cx="702.3" cy="680.2" r="2.1"/>
<circle cx="618.5" cy="729.2" r="2.1"/>
<circle cx="757.2" cy="719.0" r="2.1"/>
<circle cx="694.6" cy="719.0" r="2.1"/>
<circle cx="677.0" cy="723.2" r="2.1"/>
<circle cx="731.2" cy="666.8" r="2.1"/>
<circle cx="811.4" cy="793.2" r="2.1"/>
<circle cx="625.8" cy="719.9" r="2.1"/>
<circle cx="654.7" cy="714.2" r="2.1"/>
<circle cx="665.4" cy="713.8" r="2.1"/>
<circle cx="632.6" cy="704.7" r="2.1"/>
<circle cx="728.3" cy="635.6" r="2.1"/>
<circle cx="727.8" cy="749.9" r="2.1"/>
<circle cx="727.5" cy="758.4" r="2.1"/>
<circle cx="670.9" cy="647.5" r="2.1"/>
<circle cx="734.8" cy="781.3" r="2.1"/>
<circle cx="683.2" cy="673.5" r="2.1"/>
<circle cx="627.2" cy="793.8" r="2.1"/>
<circle cx="694.2" cy="745.0" r="2.1"/>
<circle cx="732.8" cy="766.2" r="2.1"/>
<circle cx="760.3" cy="735.2" r="2.1"/>
<circle cx="709.6" cy="695.4" r="2.1"/>
<circle cx="597.0" cy="735.6" r="2.1"/>
<circle cx="633.7" cy="771.7" r="2.1"/>
<circle cx="713.7" cy="779.5" r="2.1"/>
<circle cx="542.7" cy="739.9" r="2.1"/>
<circle cx="692.5" cy="709.7" r="2.1"/>
<circle cx="649.7" cy="721.0" r="2.1"/>
<circle cx="629.7" cy="699.3" r="2.1"/>
<circle cx="686.6" cy="682.9" r="2.1"/>
<circle cx="716.3" cy="767.8" r="2.1"/>
<circle cx="726.4" cy="700.3" r="2.1"/>
<circle cx="669.4" cy="759.6" r="2.1"/>
<circle cx="627.0" cy="755.8" r="2.1"/>
<circle cx="631.3" cy="752.4" r="2.1"/>
<circle cx="716.3" cy="700.0" r="2.1"/>
<circle cx="697.5" cy="765.0" r="2.1"/>
<circle cx="629.5" cy="693.6" r="2.1"/>
<circle cx="581.8" cy="685.8" r="2.1"/>
<circle cx="741.3" cy="771.3" r="2.1"/>
<circle cx="726.3" cy="680.4" r="2.1"/>
<circle cx="764.0" cy="686.5" r="2.1"/>
<circle cx="657.7" cy="688.7" r="2.1"/>
<circle cx="652.8" cy="710.7" r="2.1"/>
<circle cx="690.1" cy="657.8" r="2.1"/>
<circle cx="626.9" cy="678.8" r="2.1"/>
<circle cx="627.8" cy="743.4" r="2.1"/>
<circle cx="619.1" cy="709.7" r="2.1"/>
<circle cx="696.6" cy="700.8" r="2.1"/>
<circle cx="607.6" cy="722.3" r="2.1"/>
<circle cx="714.5" cy="739.7" r="2.1"/>
<circle cx="658.1" cy="695.8" r="2.1"/>
<circle cx="654.9" cy="716.4" r="2.1"/>
<circle cx="757.9" cy="758.2" r="2.1"/>
<circle cx="749.2" cy="725.8" r="2.1"/>
<circle cx="653.4" cy="662.6" r="2.1"/>
<circle cx="749.6" cy="752.2" r="2.1"/>
<circle cx="641.6" cy="716.1" r="2.1"/>
<circle cx="593.2" cy="684.6" r="2.1"/>
<circle cx="627.5" cy="760.2" r="2.1"/>
<circle cx="626.9" cy="726.7" r="2.1"/>
<circle cx="734.1" cy="704.5" r="2.1"/>
<circle cx="756.6" cy="751.3" r="2.1"/>
<circle cx="641.7" cy="695.3" r="2.1"/>
<circle cx="717.7" cy="714.3" r="2.1"/>
<circle cx="649.8" cy="767.4" r="2.1"/>
<circle cx="786.7" cy="781.9" r="2.1"/>
<circle cx="683.1" cy="668.2" r="2.1"/>
<circle cx="615.7" cy="632.6" r="2.1"/>
<circle cx="641.7" cy="704.5" r="2.1"/>
<circle cx="686.1" cy="763.8" r="2.1"/>
<circle cx="680.0" cy="685.1" r="2.1"/>
<circle cx="685.5" cy="718.6" r="2.1"/>
<circle cx="675.0" cy="731.6" r="2.1"/>
<circle cx="706.9" cy="729.4" r="2.1"/>
<circle cx="707.0" cy="779.9" r="2.1"/>
<circle cx="696.6" cy="695.0" r="2.1"/>
<circle cx="645.6" cy="770.5" r="2.1"/>
<circle cx="676.6" cy="710.0" r="2.1"/>
<circle cx="678.7" cy="748.5" r="2.1"/>
<circle cx="643.5" cy="758.0" r="2.1"/>
<circle cx="664.6" cy="707.1" r="2.1"/>
<circle cx="749.7" cy="738.1" r="2.1"/>
<circle cx="746.5" cy="714.4" r="2.1"/>
<circle cx="694.3" cy="760.6" r="2.1"/>
<circle cx="710.4" cy="742.0" r="2.1"/>
<circle cx="665.4" cy="664.3" r="2.1"/>
<circle cx="609.5" cy="735.0" r="2.1"/>
<circle cx="611.1" cy="748.6" r="2.1"/>
<circle cx="642.3" cy="722.4" r="2.1"/>
<circle cx="647.2" cy="684.0" r="2.1"/>
<circle cx="651.5" cy="674.3" r="2.1"/>
<circle cx="776.1" cy="707.5" r="2.1"/>
<circle cx="624.0" cy="773.0" r="2.1"/>
<circle cx="689.4" cy="700.9" r="2.1"/>
<circle cx="715.1" cy="744.6" r="2.1"/>
<circle cx="615.7" cy="726.5" r="2.1"/>
<circle cx="641.8" cy="680.6" r="2.1"/>
<circle cx="741.5" cy="672.4" r="2.1"/>
<circle cx="554.3" cy="721.6" r="2.1"/>
<circle cx="683.8" cy="723.6" r="2.1"/>
<circle cx="706.5" cy="743.2" r="2.1"/>
<circle cx="608.8" cy="746.0" r="2.1"/>
<circle cx="719.2" cy="715.3" r="2.1"/>
<circle cx="664.5" cy="710.9" r="2.1"/>
<circle cx="678.3" cy="709.1" r="2.1"/>
<circle cx="623.5" cy="739.8" r="2.1"/>
<circle cx="554.4" cy="705.3" r="2.1"/>
<circle cx="630.3" cy="748.8" r="2.1"/>
<circle cx="691.7" cy="777.3" r="2.1"/>
<circle cx="718.0" cy="764.3" r="2.1"/>
<circle cx="615.6" cy="710.4" r="2.1"/>
<circle cx="728.8" cy="750.5" r="2.1"/>
<circle cx="636.2" cy="693.3" r="2.1"/>
<circle cx="671.7" cy="729.3" r="2.1"/>
<circle cx="782.4" cy="716.1" r="2.1"/>
<circle cx="720.4" cy="729.0" r="2.1"/>
<circle cx="749.3" cy="740.0" r="2.1"/>
<circle cx="712.6" cy="761.5" r="2.1"/>
<circle cx="646.8" cy="766.7" r="2.1"/>
<circle cx="674.8" cy="707.2" r="2.1"/>
<circle cx="691.6" cy="665.0" r="2.1"/>
<circle cx="671.2" cy="742.7" r="2.1"/>
<circle cx="714.1" cy="760.8" r="2.1"/>
<circle cx="667.0" cy="694.2" r="2.1"/>
<circle cx="749.3" cy="749.5" r="2.1"/>
<circle cx="724.5" cy="726.5" r="2.1"/>
<circle cx="713.9" cy="719.7" r="2.1"/>
<circle cx="686.6" cy="685.6" r="2.1"/>
<circle cx="716.7" cy="696.2" r="2.1"/>
<circle cx="721.3" cy="708.5" r="2.1"/>
<circle cx="717.5" cy="697.4" r="2.1"/>
<circle cx="724.9" cy="735.5" r="2.1"/>
<circle cx="732.6" cy="722.2" r="2.1"/>
<circle cx="602.7" cy="703.5" r="2.1"/>
<circle cx="727.3" cy="734.7" r="2.1"/>
<circle cx="747.2" cy="695.5" r="2.1"/>
<circle cx="630.3" cy="731.1" r="2.1"/>
<circle cx="617.9" cy="665.8" r="2.1"/>
<circle cx="735.9" cy="697.1" r="2.1"/>
<circle cx="698.2" cy="754.5" r="2.1"/>
<circle cx="706.3" cy="705.9" r="2.1"/>
<circle cx="689.9" cy="732.5" r="2.1"/>
<circle cx="744.9" cy="713.3" r="2.1"/>
<circle cx="686.5" cy="727.6" r="2.1"/>
<circle cx="626.2" cy="754.5" r="2.1"/>
<circle cx="693.5" cy="745.4" r="2.1"/>
<circle cx="642.1" cy="727.2" r="2.1"/>
<circle cx="655.5" cy="706.5" r="2.1"/>
<circle cx="603.5" cy="693.7" r="2.1"/>
<circle cx="620.7" cy="676.9" r="2.1"/>
<circle cx="677.7" cy="758.2" r="2.1"/>
<circle cx="685.2" cy="676.0" r="2.1"/>
<circle cx="700.3" cy="711.9" r="2.1"/>
<circle cx="614.0" cy="708.3" r="2.1"/>
<circle cx="666.4" cy="741.9" r="2.1"/>
<circle cx="655.7" cy="719.6" r="2.1"/>
<circle cx="705.3" cy="741.0" r="2.1"/>
<circle cx="568.0" cy="706.6" r="2.1"/>
<circle cx="710.6" cy="684.5" r="2.1"/>
<circle cx="643.2" cy="738.1" r="2.1"/>
<circle cx="732.6" cy="740.4" r="2.1"/>
<circle cx="616.1" cy="754.3" r="2.1"/>
<circle cx="674.9" cy="788.6" r="2.1"/>
<circle cx="633.0" cy="728.9" r="2.1"/>
<circle cx="584.6" cy="709.7" r="2.1"/>
<circle cx="768.0" cy="713.9" r="2.1"/>
<circle cx="671.4" cy="749.4" r="2.1"/>
<circle cx="668.6" cy="730.0" r="2.1"/>
<circle cx="731.1" cy="747.8" r="2.1"/>
<circle cx="664.4" cy="684.7" r="2.1"/>
<circle cx="718.4" cy="699.0" r="2.1"/>
<circle cx="667.3" cy="720.0" r="2.1"/>
<circle cx="739.4" cy="729.0" r="2.1"/>
<circle cx="761.0" cy="717.7" r="2.1"/>
<circle cx="672.4" cy="760.7" r="2.1"/>
<circle cx="679.0" cy="744.3" r="2.1"/>
<circle cx="686.8" cy="689.3" r="2.1"/>
<circle cx="686.2" cy="727.5" r="2.1"/>
<circle cx="712.6" cy="729.5" r="2.1"/>
<circle cx="720.0" cy="719.6" r="2.1"/>
<circle cx="734.9" cy="680.4" r="2.1"/>
<circle cx="657.4" cy="770.3" r="2.1"/>
<circle cx="625.5" cy="692.2" r="2.1"/>
<circle cx="706.1" cy="703.9" r="2.1"/>
<circle cx="689.4" cy="765.3" r="2.1"/>
<circle cx="645.3" cy="723.3" r="2.1"/>
<circle cx="704.6" cy="765.9" r="2.1"/>
<circle cx="739.5" cy="732.3" r="2.1"/>
<circle cx="726.1" cy="741.7" r="2.1"/>
<circle cx="666.8" cy="682.5" r="2.1"/>
<circle cx="739.4" cy="761.1" r="2.1"/>
<circle cx="658.7" cy="695.6" r="2.1"/>
<circle cx="719.6" cy="710.9" r="2.1"/>
<circle cx="740.7" cy="689.3" r="2.1"/>
<circle cx="708.4" cy="697.0" r="2.1"/>
<circle cx="788.8" cy="669.5" r="2.1"/>
<circle cx="641.9" cy="712.8" r="2.1"/>
<circle cx="795.9" cy="732.3" r="2.1"/>
<circle cx="696.4" cy="737.6" r="2.1"/>
<circle cx="626.0" cy="667.1" r="2.1"/>
<circle cx="728.7" cy="688.5" r="2.1"/>
<circle cx="724.2" cy="750.4" r="2.1"/>
<circle cx="720.4" cy="774.8" r="2.1"/>
<circle cx="723.4" cy="722.0" r="2.1"/>
<circle cx="727.5" cy="713.1" r="2.1"/>
<circle cx="694.2" cy="640.9" r="2.1"/>
<circle cx="632.9" cy="727.4" r="2.1"/>
<circle cx="725.3" cy="759.6" r="2.1"/>
<circle cx="625.0" cy="673.3" r="2.1"/>
<circle cx="673.2" cy="709.0" r="2.1"/>
<circle cx="769.1" cy="730.1" r="2.1"/>
<circle cx="768.0" cy="736.3" r="2.1"/>
<circle cx="749.4" cy="741.3" r="2.1"/>
<circle cx="679.3" cy="757.8" r="2.1"/>
<circle cx="663.0" cy="758.8" r="2.1"/>
<circle cx="769.0" cy="760.4" r="2.1"/>
<circle cx="713.3" cy="716.5" r="2.1"/>
<circle cx="723.1" cy="760.9" r="2.1"/>
<circle cx="644.3" cy="751.0" r="2.1"/>
<circle cx="684.3" cy="683.9" r="2.1"/>
<circle cx="647.5" cy="702.2" r="2.1"/>
<circle cx="622.8" cy="755.7" r="2.1"/>
<circle cx="705.8" cy="750.0" r="2.1"/>
<circle cx="667.5" cy="708.2" r="2.1"/>
<circle cx="744.0" cy="768.9" r="2.1"/>
<circle cx="691.1" cy="734.4" r="2.1"/>
<circle cx="648.3" cy="788.9" r="2.1"/>
<circle cx="683.4" cy="709.7" r="2.1"/>
<circle cx="647.6" cy="752.4" r="2.1"/>
<circle cx="764.9" cy="728.0" r="2.1"/>
<circle cx="679.8" cy="712.2" r="2.1"/>
<circle cx="586.0" cy="669.0" r="2.1"/>
<circle cx="674.0" cy="708.8" r="2.1"/>
<circle cx="790.3" cy="771.5" r="2.1"/>
<circle cx="641.5" cy="759.4" r="2.1"/>
<circle cx="768.6" cy="711.7" r="2.1"/>
<circle cx="623.3" cy="740.3" r="2.1"/>
<circle cx="601.2" cy="720.8" r="2.1"/>
<circle cx="692.7" cy="770.0" r="2.1"/>
<circle cx="729.3" cy="724.1" r="2.1"/>
<circle cx="671.5" cy="687.1" r="2.1"/>
<circle cx="639.0" cy="711.5" r="2.1"/>
<circle cx="715.5" cy="710.6" r="2.1"/>
<circle cx="599.7" cy="693.3" r="2.1"/>
<circle cx="615.9" cy="741.0" r="2.1"/>
<circle cx="697.4" cy="722.9" r="2.1"/>
<circle cx="727.0" cy="765.3" r="2.1"/>
<circle cx="744.3" cy="738.9" r="2.1"/>
<circle cx="652.0" cy="753.0" r="2.1"/>
<circle cx="740.1" cy="765.8" r="2.1"/>
<circle cx="624.1" cy="727.1" r="2.1"/>
<circle cx="669.6" cy="818.3" r="2.1"/>
<circle cx="659.4" cy="733.7" r="2.1"/>
<circle cx="644.4" cy="695.5" r="2.1"/>
<circle cx="657.4" cy="698.5" r="2.1"/>
<circle cx="739.8" cy="729.8" r="2.1"/>
<circle cx="755.0" cy="745.8" r="2.1"/>
<circle cx="684.8" cy="755.9" r="2.1"/>
<circle cx="672.9" cy="718.7" r="2.1"/>
<circle cx="672.7" cy="671.7" r="2.1"/>
<circle cx="713.4" cy="709.8" r="2.1"/>
<circle cx="732.7" cy="790.9" r="2.1"/>
<circle cx="728.8" cy="765.3" r="2.1"/>
<circle cx="709.6" cy="692.7" r="2.1"/>
<circle cx="726.8" cy="688.4" r="2.1"/>
<circle cx="682.7" cy="696.5" r="2.1"/>
<circle cx="668.9" cy="741.8" r="2.1"/>
<circle cx="608.6" cy="699.0" r="2.1"/>
<circle cx="759.3" cy="747.6" r="2.1"/>
<circle cx="669.0" cy="648.1" r="2.1"/>
<circle cx="717.9" cy="735.1" r="2.1"/>
<circle cx="598.1" cy="709.9" r="2.1"/>
<circle cx="655.9" cy="778.3" r="2.1"/>
<circle cx="674.8" cy="687.4" r="2.1"/>
<circle cx="678.0" cy="752.3" r="2.1"/>
<circle cx="677.7" cy="762.2" r="2.1"/>
<circle cx="621.0" cy="770.4" r="2.1"/>
<circle cx="710.4" cy="782.2" r="2.1"/>
<circle cx="699.6" cy="715.3" r="2.1"/>
<circle cx="636.4" cy="716.4" r="2.1"/>
<circle cx="629.6" cy="703.5" r="2.1"/>
<circle cx="628.5" cy="733.5" r="2.1"/>
<circle cx="618.1" cy="732.3" r="2.1"/>
<circle cx="563.5" cy="748.5" r="2.1"/>
<circle cx="676.6" cy="705.7" r="2.1"/>
<circle cx="773.8" cy="746.0" r="2.1"/>
<circle cx="600.8" cy="732.8" r="2.1"/>
<circle cx="725.3" cy="749.8" r="2.1"/>
<circle cx="683.7" cy="708.3" r="2.1"/>
<circle cx="688.2" cy="709.3" r="2.1"/>
<circle cx="661.6" cy="705.9" r="2.1"/>
<circle cx="740.1" cy="720.4" r="2.1"/>
<circle cx="676.7" cy="742.2" r="2.1"/>
<circle cx="714.7" cy="769.5" r="2.1"/>
<circle cx="606.3" cy="734.4" r="2.1"/>
<circle cx="636.0" cy="671.5" r="2.1"/>
<circle cx="604.4" cy="707.1" r="2.1"/>
<circle cx="670.5" cy="798.6" r="2.1"/>
<circle cx="716.3" cy="729.9" r="2.1"/>
<circle cx="691.4" cy="681.4" r="2.1"/>
<circle cx="705.1" cy="737.0" r="2.1"/>
<circle cx="719.8" cy="699.7" r="2.1"/>
<circle cx="744.5" cy="693.4" r="2.1"/>
<circle cx="673.0" cy="697.6" r="2.1"/>
<circle cx="742.0" cy="737.3" r="2.1"/>
<circle cx="665.2" cy="693.2" r="2.1"/>
<circle cx="688.1" cy="715.6" r="2.1"/>
<circle cx="681.9" cy="684.3" r="2.1"/>
<circle cx="768.0" cy="718.0" r="2.1"/>
<circle cx="683.3" cy="686.1" r="2.1"/>
<circle cx="733.1" cy="804.8" r="2.1"/>
<circle cx="672.8" cy="727.1" r="2.1"/>
<circle cx="686.2" cy="719.8" r="2.1"/>
<circle cx="718.1" cy="760.6" r="2.1"/>
<circle cx="695.0" cy="797.7" r="2.1"/>
<circle cx="755.0" cy="687.7" r="2.1"/>
<circle cx="694.3" cy="763.6" r="2.1"/>
<circle cx="718.4" cy="726.7" r="2.1"/>
<circle cx="595.2" cy="740.0" r="2.1"/>
<circle cx="660.2" cy="736.0" r="2.1"/>
<circle cx="645.8" cy="729.6" r="2.1"/>
<circle cx="657.7" cy="726.4" r="2.1"/>
<circle cx="666.3" cy="715.8" r="2.1"/>
<circle cx="686.6" cy="741.2" r="2.1"/>
<circle cx="656.6" cy="677.2" r="2.1"/>
<circle cx="662.0" cy="716.4" r="2.1"/>
<circle cx="657.9" cy="691.9" r="2.1"/>
<circle cx="727.7" cy="695.7" r="2.1"/>
<circle cx="697.8" cy="652.0" r="2.1"/>
<circle cx="691.1" cy="682.5" r="2.1"/>
<circle cx="622.5" cy="774.5" r="2.1"/>
<circle cx="646.4" cy="716.5" r="2.1"/>
<circle cx="658.4" cy="779.3" r="2.1"/>
<circle cx="744.5" cy="743.5" r="2.1"/>
<circle cx="670.2" cy="822.5" r="2.1"/>
<circle cx="688.0" cy="757.0" r="2.1"/>
<circle cx="694.7" cy="754.2" r="2.1"/>
<circle cx="688.3" cy="698.6" r="2.1"/>
<circle cx="640.5" cy="709.1" r="2.1"/>
<circle cx="671.7" cy="691.4" r="2.1"/>
<circle cx="686.8" cy="710.6" r="2.1"/>
<circle cx="574.6" cy="695.6" r="2.1"/>
<circle cx="615.9" cy="721.5" r="2.1"/>
<circle cx="643.9" cy="746.9" r="2.1"/>
<circle cx="704.4" cy="698.4" r="2.1"/>
<circle cx="685.0" cy="689.1" r="2.1"/>
<circle cx="672.7" cy="745.1" r="2.1"/>
<circle cx="795.0" cy="733.5" r="2.1"/>
<circle cx="733.6" cy="670.6" r="2.1"/>
<circle cx="664.1" cy="727.0" r="2.1"/>
<circle cx="714.3" cy="699.3" r="2.1"/>
<circle cx="655.1" cy="805.5" r="2.1"/>
<circle cx="585.5" cy="748.2" r="2.1"/>
<circle cx="760.9" cy="748.6" r="2.1"/>
<circle cx="610.8" cy="769.8" r="2.1"/>
<circle cx="623.3" cy="758.6" r="2.1"/>
<circle cx="614.2" cy="671.3" r="2.1"/>
<circle cx="712.7" cy="773.9" r="2.1"/>
<circle cx="654.9" cy="687.3" r="2.1"/>
<circle cx="699.7" cy="775.1" r="2.1"/>
<circle cx="771.2" cy="698.9" r="2.1"/>
<circle cx="694.6" cy="722.4" r="2.1"/>
<circle cx="702.5" cy="689.7" r="2.1"/>
<circle cx="653.2" cy="731.3" r="2.1"/>
<circle cx="765.9" cy="745.2" r="2.1"/>
<circle cx="681.7" cy="688.7" r="2.1"/>
<circle cx="609.5" cy="725.2" r="2.1"/>
<circle cx="657.5" cy="732.9" r="2.1"/>
<circle cx="618.3" cy="691.0" r="2.1"/>
<circle cx="660.1" cy="765.3" r="2.1"/>
<circle cx="619.5" cy="706.8" r="2.1"/>
<circle cx="779.5" cy="667.4" r="2.1"/>
<circle cx="752.8" cy="708.1" r="2.1"/>
<circle cx="679.2" cy="762.9" r="2.1"/>
<circle cx="702.2" cy="724.4" r="2.1"/>
<circle cx="698.1" cy="719.6" r="2.1"/>
<circle cx="726.7" cy="703.7" r="2.1"/>
<circle cx="683.8" cy="723.3" r="2.1"/>
<circle cx="666.1" cy="733.9" r="2.1"/>
<circle cx="688.5" cy="787.7" r="2.1"/>
<circle cx="760.7" cy="679.8" r="2.1"/>
<circle cx="628.4" cy="695.1" r="2.1"/>
<circle cx="703.2" cy="723.7" r="2.1"/>
<circle cx="633.8" cy="739.4" r="2.1"/>
<circle cx="756.7" cy="724.8" r="2.1"/>
<circle cx="742.2" cy="719.2" r="2.1"/>
<circle cx="557.0" cy="678.1" r="2.1"/>
<circle cx="654.4" cy="739.6" r="2.1"/>
<circle cx="745.1" cy="723.6" r="2.1"/>
<circle cx="715.1" cy="669.6" r="2.1"/>
<circle cx="690.2" cy="702.9" r="2.1"/>
<circle cx="713.7" cy="735.6" r="2.1"/>
<circle cx="617.2" cy="701.4" r="2.1"/>
<circle cx="687.5" cy="758.5" r="2.1"/>
<circle cx="689.3" cy="694.9" r="2.1"/>
<circle cx="656.5" cy="688.6" r="2.1"/>
<circle cx="767.4" cy="691.6" r="2.1"/>
<circle cx="665.1" cy="715.1" r="2.1"/>
<circle cx="719.7" cy="740.9" r="2.1"/>
<circle cx="693.3" cy="711.6" r="2.1"/>
<circle cx="682.4" cy="747.3" r="2.1"/>
<circle cx="619.3" cy="711.7" r="2.1"/>
<circle cx="750.1" cy="711.0" r="2.1"/>
<circle cx="714.9" cy="682.5" r="2.1"/>
<circle cx="660.5" cy="780.6" r="2.1"/>
<circle cx="717.1" cy="685.6" r="2.1"/>
<circle cx="627.1" cy="689.7" r="2.1"/>
<circle cx="703.8" cy="752.8" r="2.1"/>
<circle cx="649.8" cy="749.4" r="2.1"/>
<circle cx="642.2" cy="731.7" r="2.1"/>
<circle cx="680.1" cy="729.5" r="2.1"/>
<circle cx="685.7" cy="772.7" r="2.1"/>
<circle cx="666.9" cy="750.8" r="2.1"/>
<circle cx="740.5" cy="696.5" r="2.1"/>
<circle cx="735.6" cy="683.3" r="2.1"/>
<circle cx="720.6" cy="691.8" r="2.1"/>
<circle cx="718.2" cy="717.4" r="2.1"/>
<circle cx="706.8" cy="674.4" r="2.1"/>
<circle cx="686.2" cy="726.9" r="2.1"/>
<circle cx="590.3" cy="709.3" r="2.1"/>
<circle cx="754.8" cy="731.3" r="2.1"/>
<circle cx="653.6" cy="674.7" r="2.1"/>
<circle cx="785.0" cy="722.6" r="2.1"/>
<circle cx="683.5" cy="744.7" r="2.1"/>
<circle cx="552.8" cy="819.3" r="2.1"/>
<circle cx="728.7" cy="738.4" r="2.1"/>
<circle cx="612.2" cy="758.3" r="2.1"/>
<circle cx="631.5" cy="764.7" r="2.1"/>
<circle cx="606.4" cy="744.5" r="2.1"/>
<circle cx="655.2" cy="707.1" r="2.1"/>
<circle cx="668.8" cy="706.5" r="2.1"/>
<circle cx="661.5" cy="706.9" r="2.1"/>
<circle cx="634.7" cy="671.9" r="2.1"/>
<circle cx="723.4" cy="723.8" r="2.1"/>
<circle cx="612.2" cy="733.5" r="2.1"/>
<circle cx="641.0" cy="671.4" r="2.1"/>
<circle cx="670.6" cy="758.6" r="2.1"/>
<circle cx="722.6" cy="762.5" r="2.1"/>
<circle cx="681.9" cy="719.3" r="2.1"/>
<circle cx="689.4" cy="718.2" r="2.1"/>
<circle cx="676.3" cy="707.7" r="2.1"/>
<circle cx="645.8" cy="739.1" r="2.1"/>
<circle cx="645.5" cy="747.0" r="2.1"/>
<circle cx="626.8" cy="672.3" r="2.1"/>
<circle cx="659.0" cy="756.0" r="2.1"/>
<circle cx="664.8" cy="690.1" r="2.1"/>
<circle cx="579.1" cy="728.1" r="2.1"/>
<circle cx="739.0" cy="717.0" r="2.1"/>
<circle cx="692.4" cy="732.8" r="2.1"/>
<circle cx="689.7" cy="696.3" r="2.1"/>
<circle cx="700.3" cy="685.3" r="2.1"/>
<circle cx="693.3" cy="755.6" r="2.1"/>
<circle cx="724.6" cy="692.1" r="2.1"/>
<circle cx="689.3" cy="701.4" r="2.1"/>
<circle cx="747.6" cy="727.9" r="2.1"/>
<circle cx="773.6" cy="679.0" r="2.1"/>
<circle cx="683.9" cy="727.3" r="2.1"/>
<circle cx="643.9" cy="795.0" r="2.1"/>
<circle cx="699.9" cy="699.0" r="2.1"/>
<circle cx="762.7" cy="734.1" r="2.1"/>
<circle cx="645.1" cy="717.4" r="2.1"/>
<circle cx="770.6" cy="726.3" r="2.1"/>
<circle cx="649.3" cy="753.8" r="2.1"/>
<circle cx="696.1" cy="716.7" r="2.1"/>
<circle cx="624.4" cy="755.8" r="2.1"/>
<circle cx="649.4" cy="685.8" r="2.1"/>
<circle cx="597.1" cy="758.1" r="2.1"/>
<circle cx="729.8" cy="640.6" r="2.1"/>
<circle cx="658.5" cy="666.1" r="2.1"/>
<circle cx="728.1" cy="701.4" r="2.1"/>
<circle cx="697.7" cy="710.2" r="2.1"/>
<circle cx="706.9" cy="697.2" r="2.1"/>
<circle cx="732.1" cy="775.4" r="2.1"/>
<circle cx="767.7" cy="764.6" r="2.1"/>
<circle cx="688.6" cy="680.9" r="2.1"/>
<circle cx="650.3" cy="699.8" r="2.1"/>
<circle cx="724.6" cy="701.1" r="2.1"/>
<circle cx="755.9" cy="748.4" r="2.1"/>
<circle cx="628.5" cy="674.6" r="2.1"/>
<circle cx="787.2" cy="696.6" r="2.1"/>
<circle cx="762.3" cy="729.2" r="2.1"/>
<circle cx="626.4" cy="781.4" r="2.1"/>
<circle cx="673.8" cy="692.0" r="2.1"/>
<circle cx="675.8" cy="668.9" r="2.1"/>
<circle cx="629.5" cy="739.6" r="2.1"/>
<circle cx="702.3" cy="746.1" r="2.1"/>
<circle cx="607.4" cy="803.4" r="2.1"/>
<circle cx="756.4" cy="714.4" r="2.1"/>
<circle cx="700.5" cy="701.7" r="2.1"/>
<circle cx="601.7" cy="702.2" r="2.1"/>
<circle cx="690.0" cy="644.8" r="2.1"/>
<circle cx="651.5" cy="715.0" r="2.1"/>
<circle cx="707.6" cy="792.1" r="2.1"/>
<circle cx="684.9" cy="677.8" r="2.1"/>
<circle cx="719.9" cy="777.8" r="2.1"/>
<circle cx="568.1" cy="790.5" r="2.1"/>
<circle cx="634.6" cy="758.7" r="2.1"/>
<circle cx="698.3" cy="722.2" r="2.1"/>
<circle cx="635.2" cy="679.5" r="2.1"/>
<circle cx="699.7" cy="693.4" r="2.1"/>
<circle cx="616.0" cy="681.5" r="2.1"/>
<circle cx="732.9" cy="750.7" r="2.1"/>
<circle cx="698.7" cy="751.1" r="2.1"/>
<circle cx="755.1" cy="712.3" r="2.1"/>
<circle cx="731.8" cy="700.5" r="2.1"/>
<circle cx="654.5" cy="746.2" r="2.1"/>
<circle cx="644.5" cy="671.7" r="2.1"/>
<circle cx="565.8" cy="708.0" r="2.1"/>
<circle cx="655.6" cy="779.2" r="2.1"/>
<circle cx="723.2" cy="749.3" r="2.1"/>
<circle cx="614.9" cy="747.9" r="2.1"/>
<circle cx="754.2" cy="726.1" r="2.1"/>
<circle cx="698.0" cy="731.8" r="2.1"/>
<circle cx="589.2" cy="638.0" r="2.1"/>
<circle cx="738.4" cy="708.4" r="2.1"/>
<circle cx="615.7" cy="700.0" r="2.1"/>
<circle cx="702.9" cy="765.5" r="2.1"/>
<circle cx="688.2" cy="687.0" r="2.1"/>
<circle cx="637.1" cy="736.4" r="2.1"/>
<circle cx="623.3" cy="730.9" r="2.1"/>
<circle cx="710.8" cy="686.1" r="2.1"/>
<circle cx="633.9" cy="782.7" r="2.1"/>
<circle cx="737.1" cy="753.5" r="2.1"/>
<circle cx="730.3" cy="760.2" r="2.1"/>
<circle cx="707.8" cy="713.2" r="2.1"/>
<circle cx="655.1" cy="706.0" r="2.1"/>
<circle cx="629.5" cy="730.7" r="2.1"/>
<circle cx="737.1" cy="669.9" r="2.1"/>
<circle cx="673.1" cy="751.3" r="2.1"/>
<circle cx="772.1" cy="687.2" r="2.1"/>
<circle cx="747.3" cy="728.5" r="2.1"/>
<circle cx="697.8" cy="711.9" r="2.1"/>
<circle cx="666.8" cy="696.5" r="2.1"/>
<circle cx="682.6" cy="758.3" r="2.1"/>
<circle cx="676.9" cy="677.6" r="2.1"/>
<circle cx="628.6" cy="788.6" r="2.1"/>
<circle cx="631.9" cy="711.6" r="2.1"/>
<circle cx="657.0" cy="678.9" r="2.1"/>
<circle cx="699.9" cy="735.9" r="2.1"/>
<circle cx="675.2" cy="786.4" r="2.1"/>
<circle cx="805.2" cy="778.9" r="2.1"/>
<circle cx="663.8" cy="714.0" r="2.1"/>
<circle cx="766.9" cy="782.5" r="2.1"/>
<circle cx="703.2" cy="747.1" r="2.1"/>
<circle cx="774.7" cy="703.0" r="2.1"/>
<circle cx="599.4" cy="650.0" r="2.1"/>
<circle cx="616.9" cy="737.9" r="2.1"/>
<circle cx="669.9" cy="736.6" r="2.1"/>
<circle cx="712.4" cy="693.4" r="2.1"/>
<circle cx="618.2" cy="726.1" r="2.1"/>
<circle cx="665.2" cy="724.8" r="2.1"/>
<circle cx="676.8" cy="742.9" r="2.1"/>
<circle cx="672.6" cy="762.5" r="2.1"/>
<circle cx="666.3" cy="689.1" r="2.1"/>
<circle cx="640.5" cy="687.5" r="2.1"/>
<circle cx="704.2" cy="760.8" r="2.1"/>
<circle cx="644.0" cy="705.0" r="2.1"/>
<circle cx="625.5" cy="737.8" r="2.1"/>
<circle cx="710.3" cy="768.6" r="2.1"/>
<circle cx="757.1" cy="707.9" r="2.1"/>
<circle cx="689.2" cy="702.4" r="2.1"/>
<circle cx="669.7" cy="731.5" r="2.1"/>
<circle cx="703.1" cy="696.4" r="2.1"/>
<circle cx="640.5" cy="675.2" r="2.1"/>
<circle cx="682.6" cy="665.3" r="2.1"/>
<circle cx="695.1" cy="753.8" r="2.1"/>
<circle cx="735.3" cy="732.3" r="2.1"/>
<circle cx="670.8" cy="655.9" r="2.1"/>
<circle cx="581.2" cy="701.1" r="2.1"/>
<circle cx="658.4" cy="715.7" r="2.1"/>
<circle cx="740.6" cy="741.9" r="2.1"/>
<circle cx="739.7" cy="762.2" r="2.1"/>
<circle cx="669.9" cy="734.0" r="2.1"/>
<circle cx="623.9" cy="651.6" r="2.1"/>
<circle cx="656.3" cy="686.0" r="2.1"/>
<circle cx="601.7" cy="758.2" r="2.1"/>
<circle cx="643.7" cy="746.7" r="2.1"/>
<circle cx="643.0" cy="683.1" r="2.1"/>
<circle cx="692.3" cy="769.4" r="2.1"/>
<circle cx="626.2" cy="701.7" r="2.1"/>
<circle cx="638.9" cy="713.4" r="2.1"/>
<circle cx="727.4" cy="700.4" r="2.1"/>
<circle cx="746.0" cy="748.9" r="2.1"/>
<circle cx="711.4" cy="712.3" r="2.1"/>
<circle cx="685.8" cy="674.2" r="2.1"/>
<circle cx="747.9" cy="759.4" r="2.1"/>
<circle cx="737.4" cy="739.5" r="2.1"/>
<circle cx="763.7" cy="768.5" r="2.1"/>
<circle cx="690.3" cy="693.1" r="2.1"/>
<circle cx="737.5" cy="757.4" r="2.1"/>
<circle cx="684.4" cy="683.3" r="2.1"/>
<circle cx="699.8" cy="677.5" r="2.1"/>
<circle cx="634.8" cy="677.6" r="2.1"/>
<circle cx="646.5" cy="747.1" r="2.1"/>
<circle cx="707.9" cy="666.3" r="2.1"/>
<circle cx="631.1" cy="660.9" r="2.1"/>
<circle cx="626.5" cy="763.5" r="2.1"/>
<circle cx="756.1" cy="737.5" r="2.1"/>
<circle cx="718.3" cy="733.3" r="2.1"/>
<circle cx="662.5" cy="730.6" r="2.1"/>
<circle cx="641.8" cy="694.9" r="2.1"/>
<circle cx="667.3" cy="782.5" r="2.1"/>
<circle cx="646.4" cy="712.4" r="2.1"/>
<circle cx="799.3" cy="702.9" r="2.1"/>
<circle cx="697.3" cy="723.1" r="2.1"/>
<circle cx="657.3" cy="741.3" r="2.1"/>
<circle cx="674.4" cy="755.3" r="2.1"/>
<circle cx="674.2" cy="738.6" r="2.1"/>
<circle cx="736.2" cy="694.7" r="2.1"/>
<circle cx="731.5" cy="737.8" r="2.1"/>
<circle cx="719.0" cy="734.2" r="2.1"/>
<circle cx="715.3" cy="759.8" r="2.1"/>
<circle cx="616.3" cy="694.5" r="2.1"/>
<circle cx="694.6" cy="654.4" r="2.1"/>
<circle cx="748.2" cy="715.1" r="2.1"/>
<circle cx="734.5" cy="818.8" r="2.1"/>
<circle cx="669.4" cy="694.5" r="2.1"/>
<circle cx="696.6" cy="771.8" r="2.1"/>
<circle cx="664.0" cy="746.6" r="2.1"/>
<circle cx="599.2" cy="689.9" r="2.1"/>
<circle cx="711.6" cy="707.1" r="2.1"/>
<circle cx="662.7" cy="685.0" r="2.1"/>
<circle cx="636.4" cy="730.4" r="2.1"/>
<circle cx="616.8" cy="685.1" r="2.1"/>
<circle cx="704.5" cy="681.8" r="2.1"/>
<circle cx="615.8" cy="722.3" r="2.1"/>
<circle cx="669.5" cy="733.0" r="2.1"/>
<circle cx="715.8" cy="721.6" r="2.1"/>
<circle cx="697.8" cy="685.5" r="2.1"/>
<circle cx="667.9" cy="700.5" r="2.1"/>
<circle cx="642.8" cy="681.7" r="2.1"/>
<circle cx="701.5" cy="738.2" r="2.1"/>
<circle cx="672.4" cy="768.9" r="2.1"/>
<circle cx="729.5" cy="713.5" r="2.1"/>
<circle cx="632.7" cy="740.2" r="2.1"/>
<circle cx="671.9" cy="709.6" r="2.1"/>
<circle cx="624.2" cy="691.4" r="2.1"/>
<circle cx="543.9" cy="682.1" r="2.1"/>
<circle cx="783.6" cy="731.5" r="2.1"/>
<circle cx="662.3" cy="768.3" r="2.1"/>
<circle cx="653.7" cy="720.0" r="2.1"/>
<circle cx="620.1" cy="734.0" r="2.1"/>
<circle cx="701.3" cy="700.8" r="2.1"/>
<circle cx="621.9" cy="711.5" r="2.1"/>
<circle cx="642.8" cy="691.2" r="2.1"/>
<circle cx="723.9" cy="693.5" r="2.1"/>
<circle cx="646.5" cy="714.0" r="2.1"/>
<circle cx="688.8" cy="723.0" r="2.1"/>
<circle cx="645.2" cy="711.7" r="2.1"/>
<circle cx="622.1" cy="694.7" r="2.1"/>
<circle cx="673.7" cy="724.7" r="2.1"/>
<circle cx="748.7" cy="712.4" r="2.1"/>
<circle cx="620.4" cy="717.1" r="2.1"/>
<circle cx="698.6" cy="740.7" r="2.1"/>
<circle cx="617.8" cy="702.7" r="2.1"/>
<circle cx="716.7" cy="736.7" r="2.1"/>
<circle cx="673.5" cy="665.9" r="2.1"/>
<circle cx="735.6" cy="728.6" r="2.1"/>
<circle cx="686.9" cy="652.1" r="2.1"/>
<circle cx="690.6" cy="748.2" r="2.1"/>
<circle cx="620.3" cy="640.6" r="2.1"/>
<circle cx="652.0" cy="670.4" r="2.1"/>
<circle cx="678.9" cy="680.1" r="2.1"/>
<circle cx="723.9" cy="689.0" r="2.1"/>
<circle cx="662.1" cy="749.7" r="2.1"/>
<circle cx="683.5" cy="751.6" r="2.1"/>
<circle cx="761.1" cy="715.8" r="2.1"/>
<circle cx="686.7" cy="669.0" r="2.1"/>
<circle cx="696.9" cy="761.6" r="2.1"/>
<circle cx="686.8" cy="748.0" r="2.1"/>
<circle cx="661.1" cy="731.2" r="2.1"/>
<circle cx="687.1" cy="821.6" r="2.1"/>
<circle cx="671.0" cy="709.3" r="2.1"/>
<circle cx="614.3" cy="691.1" r="2.1"/>
<circle cx="658.3" cy="680.4" r="2.1"/>
<circle cx="654.2" cy="667.3" r="2.1"/>
<circle cx="674.1" cy="695.7" r="2.1"/>
<circle cx="782.2" cy="671.7" r="2.1"/>
<circle cx="686.2" cy="742.1" r="2.1"/>
<circle cx="642.0" cy="710.7" r="2.1"/>
<circle cx="684.4" cy="773.8" r="2.1"/>
<circle cx="643.2" cy="682.9" r="2.1"/>
<circle cx="583.0" cy="690.5" r="2.1"/>
<circle cx="685.5" cy="683.2" r="2.1"/>
<circle cx="664.7" cy="784.3" r="2.1"/>
<circle cx="698.2" cy="746.3" r="2.1"/>
<circle cx="565.5" cy="682.1" r="2.1"/>
<circle cx="610.7" cy="737.5" r="2.1"/>
<circle cx="606.4" cy="747.1" r="2.1"/>
<circle cx="628.0" cy="673.5" r="2.1"/>
<circle cx="612.6" cy="715.9" r="2.1"/>
<circle cx="746.9" cy="725.9" r="2.1"/>
<circle cx="629.0" cy="744.5" r="2.1"/>
<circle cx="640.1" cy="735.0" r="2.1"/>
<circle cx="625.3" cy="746.7" r="2.1"/>
<circle cx="721.2" cy="708.0" r="2.1"/>
<circle cx="645.2" cy="710.0" r="2.1"/>
<circle cx="693.4" cy="754.2" r="2.1"/>
<circle cx="678.7" cy="712.9" r="2.1"/>
<circle cx="659.6" cy="754.4" r="2.1"/>
<circle cx="691.8" cy="648.0" r="2.1"/>
<circle cx="752.8" cy="698.6" r="2.1"/>
<circle cx="675.9" cy="756.9" r="2.1"/>
<circle cx="617.0" cy="699.8" r="2.1"/>
<circle cx="568.3" cy="669.1" r="2.1"/>
<circle cx="692.1" cy="733.8" r="2.1"/>
<circle cx="618.5" cy="688.9" r="2.1"/>
<circle cx="667.6" cy="746.8" r="2.1"/>
<circle cx="641.3" cy="696.9" r="2.1"/>
<circle cx="669.8" cy="763.6" r="2.1"/>
<circle cx="658.0" cy="743.5" r="2.1"/>
<circle cx="674.5" cy="741.1" r="2.1"/>
<circle cx="619.9" cy="768.6" r="2.1"/>
<circle cx="571.0" cy="792.4" r="2.1"/>
<circle cx="688.4" cy="711.7" r="2.1"/>
<circle cx="715.6" cy="746.7" r="2.1"/>
<circle cx="733.2" cy="752.4" r="2.1"/>
<circle cx="664.3" cy="765.7" r="2.1"/>
<circle cx="716.0" cy="766.7" r="2.1"/>
<circle cx="589.2" cy="672.5" r="2.1"/>
<circle cx="610.1" cy="647.8" r="2.1"/>
<circle cx="662.5" cy="806.4" r="2.1"/>
<circle cx="689.4" cy="697.7" r="2.1"/>
<circle cx="672.7" cy="713.8" r="2.1"/>
<circle cx="684.5" cy="716.5" r="2.1"/>
<circle cx="636.6" cy="704.7" r="2.1"/>
<circle cx="639.1" cy="709.7" r="2.1"/>
<circle cx="722.1" cy="658.1" r="2.1"/>
<circle cx="676.7" cy="729.7" r="2.1"/>
<circle cx="632.1" cy="722.8" r="2.1"/>
<circle cx="734.3" cy="698.3" r="2.1"/>
<circle cx="780.6" cy="805.2" r="2.1"/>
<circle cx="621.1" cy="693.7" r="2.1"/>
<circle cx="679.3" cy="717.1" r="2.1"/>
<circle cx="637.7" cy="716.7" r="2.1"/>
<circle cx="721.9" cy="685.9" r="2.1"/>
<circle cx="733.0" cy="747.9" r="2.1"/>
<circle cx="660.4" cy="698.3" r="2.1"/>
<circle cx="675.8" cy="745.7" r="2.1"/>
<circle cx="623.6" cy="715.3" r="2.1"/>
<circle cx="702.5" cy="700.2" r="2.1"/>
<circle cx="604.8" cy="707.9" r="2.1"/>
<circle cx="715.5" cy="732.6" r="2.1"/>
<circle cx="644.3" cy="765.0" r="2.1"/>
<circle cx="599.4" cy="716.7" r="2.1"/>
<circle cx="713.1" cy="719.1" r="2.1"/>
<circle cx="774.5" cy="713.0" r="2.1"/>
<circle cx="753.3" cy="669.5" r="2.1"/>
<circle cx="684.9" cy="724.1" r="2.1"/>
<circle cx="760.5" cy="696.4" r="2.1"/>
<circle cx="633.9" cy="726.1" r="2.1"/>
<circle cx="625.2" cy="696.2" r="2.1"/>
<circle cx="748.6" cy="710.1" r="2.1"/>
<circle cx="729.0" cy="742.9" r="2.1"/>
<circle cx="717.9" cy="729.2" r="2.1"/>
<circle cx="622.5" cy="679.1" r="2.1"/>
<circle cx="720.9" cy="719.2" r="2.1"/>
<circle cx="798.8" cy="787.0" r="2.1"/>
<circle cx="683.2" cy="760.8" r="2.1"/>
<circle cx="606.8" cy="682.7" r="2.1"/>
<circle cx="712.7" cy="751.6" r="2.1"/>
<circle cx="700.5" cy="776.1" r="2.1"/>
<circle cx="622.0" cy="706.6" r="2.1"/>
<circle cx="670.6" cy="732.4" r="2.1"/>
<circle cx="766.4" cy="737.7" r="2.1"/>
<circle cx="652.0" cy="707.5" r="2.1"/>
<circle cx="781.7" cy="719.1" r="2.1"/>
<circle cx="624.2" cy="712.1" r="2.1"/>
<circle cx="658.7" cy="762.1" r="2.1"/>
<circle cx="616.0" cy="633.8" r="2.1"/>
<circle cx="599.4" cy="746.0" r="2.1"/>
<circle cx="645.4" cy="741.1" r="2.1"/>
<circle cx="699.9" cy="751.5" r="2.1"/>
<circle cx="662.2" cy="695.4" r="2.1"/>
<circle cx="694.9" cy="699.2" r="2.1"/>
<circle cx="638.5" cy="777.8" r="2.1"/>
<circle cx="665.4" cy="727.3" r="2.1"/>
<circle cx="708.8" cy="692.2" r="2.1"/>
<circle cx="679.0" cy="725.8" r="2.1"/>
<circle cx="666.7" cy="754.7" r="2.1"/>
<circle cx="613.3" cy="713.9" r="2.1"/>
<circle cx="686.8" cy="694.4" r="2.1"/>
<circle cx="675.1" cy="746.3" r="2.1"/>
<circle cx="623.0" cy="722.9" r="2.1"/>
<circle cx="623.7" cy="701.2" r="2.1"/>
<circle cx="648.3" cy="672.6" r="2.1"/>
<circle cx="689.9" cy="691.0" r="2.1"/>
<circle cx="716.3" cy="739.4" r="2.1"/>
<circle cx="750.3" cy="729.4" r="2.1"/>
<circle cx="724.9" cy="729.5" r="2.1"/>
<circle cx="722.7" cy="693.3" r="2.1"/>
<circle cx="670.8" cy="750.3" r="2.1"/>
<circle cx="688.9" cy="786.3" r="2.1"/>
<circle cx="707.8" cy="704.4" r="2.1"/>
<circle cx="659.3" cy="756.1" r="2.1"/>
<circle cx="757.0" cy="737.9" r="2.1"/>
<circle cx="633.4" cy="753.1" r="2.1"/>
<circle cx="586.2" cy="639.5" r="2.1"/>
<circle cx="633.0" cy="762.1" r="2.1"/>
<circle cx="623.0" cy="717.7" r="2.1"/>
<circle cx="708.7" cy="765.5" r="2.1"/>
<circle cx="644.0" cy="760.8" r="2.1"/>
<circle cx="689.0" cy="674.8" r="2.1"/>
<circle cx="661.2" cy="735.9" r="2.1"/>
<circle cx="771.5" cy="745.0" r="2.1"/>
<circle cx="695.0" cy="732.1" r="2.1"/>
<circle cx="668.7" cy="770.1" r="2.1"/>
<circle cx="667.4" cy="686.1" r="2.1"/>
<circle cx="716.5" cy="670.1" r="2.1"/>
<circle cx="710.0" cy="730.0" r="2.1"/>
<circle cx="661.7" cy="704.7" r="2.1"/>
<circle cx="612.3" cy="720.1" r="2.1"/>
<circle cx="679.6" cy="663.8" r="2.1"/>
<circle cx="708.9" cy="700.0" r="2.1"/>
<circle cx="696.2" cy="706.9" r="2.1"/>
<circle cx="736.7" cy="702.3" r="2.1"/>
<circle cx="722.3" cy="690.2" r="2.1"/>
<circle cx="602.5" cy="686.7" r="2.1"/>
<circle cx="733.0" cy="730.3" r="2.1"/>
<circle cx="744.4" cy="673.0" r="2.1"/>
<circle cx="672.0" cy="750.1" r="2.1"/>
<circle cx="677.3" cy="732.5" r="2.1"/>
<circle cx="700.9" cy="697.2" r="2.1"/>
<circle cx="749.0" cy="770.9" r="2.1"/>
<circle cx="704.4" cy="721.6" r="2.1"/>
<circle cx="736.4" cy="682.1" r="2.1"/>
<circle cx="721.9" cy="689.7" r="2.1"/>
<circle cx="654.5" cy="697.9" r="2.1"/>
<circle cx="661.1" cy="685.1" r="2.1"/>
<circle cx="644.3" cy="697.2" r="2.1"/>
<circle cx="713.7" cy="717.9" r="2.1"/>
<circle cx="744.6" cy="757.7" r="2.1"/>
<circle cx="645.4" cy="756.6" r="2.1"/>
<circle cx="769.5" cy="729.2" r="2.1"/>
<circle cx="588.4" cy="677.4" r="2.1"/>
<circle cx="696.0" cy="708.2" r="2.1"/>
<circle cx="693.5" cy="693.3" r="2.1"/>
<circle cx="644.0" cy="706.6" r="2.1"/>
<circle cx="632.4" cy="719.5" r="2.1"/>
<circle cx="704.8" cy="665.3" r="2.1"/>
<circle cx="719.3" cy="709.5" r="2.1"/>
<circle cx="652.7" cy="692.4" r="2.1"/>
<circle cx="679.9" cy="711.3" r="2.1"/>
<circle cx="719.7" cy="778.2" r="2.1"/>
<circle cx="663.3" cy="767.6" r="2.1"/>
<circle cx="737.9" cy="695.6" r="2.1"/>
<circle cx="706.4" cy="700.7" r="2.1"/>
<circle cx="706.6" cy="725.5" r="2.1"/>
<circle cx="727.0" cy="715.2" r="2.1"/>
<circle cx="668.3" cy="726.6" r="2.1"/>
<circle cx="538.2" cy="735.0" r="2.1"/>
<circle cx="594.5" cy="708.4" r="2.1"/>
<circle cx="684.8" cy="754.9" r="2.1"/>
<circle cx="692.0" cy="727.2" r="2.1"/>
<circle cx="652.0" cy="795.3" r="2.1"/>
<circle cx="690.4" cy="788.0" r="2.1"/>
<circle cx="709.6" cy="813.6" r="2.1"/>
<circle cx="647.0" cy="757.2" r="2.1"/>
<circle cx="715.2" cy="677.0" r="2.1"/>
<circle cx="688.7" cy="710.1" r="2.1"/>
<circle cx="636.7" cy="711.6" r="2.1"/>
<circle cx="686.0" cy="727.0" r="2.1"/>
<circle cx="653.4" cy="757.8" r="2.1"/>
<circle cx="685.7" cy="765.0" r="2.1"/>
<circle cx="750.5" cy="708.5" r="2.1"/>
<circle cx="649.6" cy="686.5" r="2.1"/>
<circle cx="746.1" cy="701.9" r="2.1"/>
<circle cx="751.6" cy="738.1" r="2.1"/>
<circle cx="747.7" cy="695.7" r="2.1"/>
<circle cx="709.1" cy="762.5" r="2.1"/>
<circle cx="615.2" cy="708.0" r="2.1"/>
<circle cx="652.2" cy="729.8" r="2.1"/>
<circle cx="712.5" cy="679.6" r="2.1"/>
<circle cx="671.4" cy="684.7" r="2.1"/>
<circle cx="698.7" cy="714.3" r="2.1"/>
<circle cx="612.8" cy="705.2" r="2.1"/>
<circle cx="625.8" cy="699.5" r="2.1"/>
<circle cx="691.4" cy="722.6" r="2.1"/>
<circle cx="705.1" cy="812.4" r="2.1"/>
<circle cx="687.5" cy="642.4" r="2.1"/>
<circle cx="649.2" cy="703.7" r="2.1"/>
<circle cx="668.5" cy="753.8" r="2.1"/>
<circle cx="660.0" cy="731.8" r="2.1"/>
<circle cx="644.7" cy="772.9" r="2.1"/>
<circle cx="731.5" cy="727.6" r="2.1"/>
<circle cx="616.0" cy="724.6" r="2.1"/>
<circle cx="762.6" cy="719.0" r="2.1"/>
<circle cx="738.5" cy="701.4" r="2.1"/>
<circle cx="739.3" cy="718.9" r="2.1"/>
<circle cx="656.9" cy="713.8" r="2.1"/>
<circle cx="694.1" cy="712.2" r="2.1"/>
<circle cx="689.0" cy="686.4" r="2.1"/>
<circle cx="716.8" cy="717.7" r="2.1"/>
<circle cx="614.0" cy="752.1" r="2.1"/>
<circle cx="609.4" cy="696.6" r="2.1"/>
<circle cx="690.9" cy="675.7" r="2.1"/>
<circle cx="698.9" cy="713.4" r="2.1"/>
<circle cx="644.8" cy="780.9" r="2.1"/>
<circle cx="750.2" cy="763.6" r="2.1"/>
<circle cx="671.7" cy="740.1" r="2.1"/>
<circle cx="751.4" cy="750.3" r="2.1"/>
<circle cx="697.5" cy="673.9" r="2.1"/>
<circle cx="657.6" cy="773.7" r="2.1"/>
<circle cx="618.3" cy="746.4" r="2.1"/>
<circle cx="687.3" cy="703.9" r="2.1"/>
<circle cx="714.9" cy="745.4" r="2.1"/>
<circle cx="591.1" cy="738.2" r="2.1"/>
<circle cx="745.2" cy="700.1" r="2.1"/>
<circle cx="713.3" cy="701.9" r="2.1"/>
<circle cx="707.5" cy="723.5" r="2.1"/>
<circle cx="690.4" cy="718.8" r="2.1"/>
<circle cx="767.6" cy="715.8" r="2.1"/>
<circle cx="586.5" cy="691.2" r="2.1"/>
<circle cx="699.5" cy="707.1" r="2.1"/>
<circle cx="734.5" cy="760.1" r="2.1"/>
<circle cx="655.7" cy="742.6" r="2.1"/>
<circle cx="724.2" cy="690.6" r="2.1"/>
<circle cx="734.0" cy="705.5" r="2.1"/>
<circle cx="655.5" cy="702.5" r="2.1"/>
<circle cx="697.5" cy="748.9" r="2.1"/>
<circle cx="621.0" cy="654.0" r="2.1"/>
<circle cx="694.0" cy="755.5" r="2.1"/>
<circle cx="681.7" cy="715.0" r="2.1"/>
<circle cx="694.7" cy="671.0" r="2.1"/>
<circle cx="689.0" cy="752.9" r="2.1"/>
<circle cx="759.1" cy="696.5" r="2.1"/>
<circle cx="704.9" cy="664.3" r="2.1"/>
<circle cx="667.6" cy="704.4" r="2.1"/>
<circle cx="718.2" cy="741.9" r="2.1"/>
<circle cx="619.8" cy="736.5" r="2.1"/>
<circle cx="701.1" cy="705.5" r="2.1"/>
<circle cx="670.5" cy="696.7" r="2.1"/>
<circle cx="665.8" cy="663.0" r="2.1"/>
<circle cx="711.3" cy="757.6" r="2.1"/>
<circle cx="613.9" cy="704.6" r="2.1"/>
<circle cx="753.8" cy="720.3" r="2.1"/>
<circle cx="752.3" cy="760.1" r="2.1"/>
<circle cx="665.7" cy="684.2" r="2.1"/>
<circle cx="704.1" cy="693.7" r="2.1"/>
<circle cx="655.9" cy="690.7" r="2.1"/>
<circle cx="680.1" cy="741.6" r="2.1"/>
<circle cx="671.7" cy="706.2" r="2.1"/>
<circle cx="758.6" cy="744.0" r="2.1"/>
<circle cx="635.5" cy="709.7" r="2.1"/>
<circle cx="620.7" cy="710.4" r="2.1"/>
<circle cx="634.5" cy="694.8" r="2.1"/>
<circle cx="706.7" cy="735.9" r="2.1"/>
<circle cx="733.4" cy="716.9" r="2.1"/>
<circle cx="716.4" cy="711.4" r="2.1"/>
<circle cx="665.4" cy="694.7" r="2.1"/>
<circle cx="645.3" cy="713.4" r="2.1"/>
<circle cx="714.2" cy="718.8" r="2.1"/>
<circle cx="718.3" cy="719.3" r="2.1"/>
<circle cx="799.7" cy="781.2" r="2.1"/>
<circle cx="605.2" cy="733.0" r="2.1"/>
<circle cx="645.0" cy="626.0" r="2.1"/>
<circle cx="709.5" cy="730.6" r="2.1"/>
<circle cx="753.4" cy="702.7" r="2.1"/>
<circle cx="745.4" cy="756.7" r="2.1"/>
<circle cx="698.8" cy="725.4" r="2.1"/>
<circle cx="732.8" cy="702.5" r="2.1"/>
<circle cx="706.9" cy="725.3" r="2.1"/>
<circle cx="627.3" cy="752.1" r="2.1"/>
<circle cx="690.2" cy="737.6" r="2.1"/>
<circle cx="719.7" cy="694.3" r="2.1"/>
<circle cx="656.3" cy="722.5" r="2.1"/>
<circle cx="633.5" cy="756.2" r="2.1"/>
<circle cx="681.3" cy="733.2" r="2.1"/>
<circle cx="720.1" cy="665.9" r="2.1"/>
<circle cx="713.1" cy="676.5" r="2.1"/>
<circle cx="687.3" cy="739.1" r="2.1"/>
<circle cx="596.4" cy="737.6" r="2.1"/>
<circle cx="670.1" cy="725.1" r="2.1"/>
<circle cx="712.2" cy="747.7" r="2.1"/>
<circle cx="569.2" cy="686.9" r="2.1"/>
<circle cx="723.1" cy="690.5" r="2.1"/>
<circle cx="707.4" cy="728.2" r="2.1"/>
<circle cx="622.7" cy="706.7" r="2.1"/>
<circle cx="720.7" cy="728.7" r="2.1"/>
<circle cx="690.2" cy="678.2" r="2.1"/>
<circle cx="668.9" cy="672.0" r="2.1"/>
<circle cx="658.9" cy="671.1" r="2.1"/>
<circle cx="576.6" cy="720.1" r="2.1"/>
<circle cx="745.3" cy="709.6" r="2.1"/>
<circle cx="648.1" cy="671.6" r="2.1"/>
<circle cx="636.2" cy="689.5" r="2.1"/>
<circle cx="657.8" cy="700.1" r="2.1"/>
<circle cx="736.9" cy="783.8" r="2.1"/>
<circle cx="676.0" cy="771.6" r="2.1"/>
<circle cx="608.2" cy="674.5" r="2.1"/>
<circle cx="616.7" cy="689.7" r="2.1"/>
<circle cx="699.7" cy="717.0" r="2.1"/>
<circle cx="626.4" cy="724.1" r="2.1"/>
<circle cx="684.1" cy="711.0" r="2.1"/>
<circle cx="654.3" cy="682.6" r="2.1"/>
<circle cx="739.3" cy="708.9" r="2.1"/>
<circle cx="705.2" cy="704.1" r="2.1"/>
<circle cx="683.9" cy="695.4" r="2.1"/>
<circle cx="659.8" cy="681.7" r="2.1"/>
<circle cx="714.3" cy="664.0" r="2.1"/>
<circle cx="606.0" cy="697.1" r="2.1"/>
<circle cx="712.6" cy="764.8" r="2.1"/>
<circle cx="656.9" cy="662.5" r="2.1"/>
<circle cx="710.1" cy="733.5" r="2.1"/>
<circle cx="589.2" cy="711.9" r="2.1"/>
<circle cx="717.6" cy="757.0" r="2.1"/>
<circle cx="694.0" cy="759.3" r="2.1"/>
<circle cx="629.5" cy="697.6" r="2.1"/>
<circle cx="680.3" cy="723.0" r="2.1"/>
<circle cx="600.5" cy="699.2" r="2.1"/>
<circle cx="675.5" cy="748.7" r="2.1"/>
<circle cx="756.8" cy="770.5" r="2.1"/>
<circle cx="637.1" cy="703.9" r="2.1"/>
<circle cx="683.8" cy="729.2" r="2.1"/>
<circle cx="703.5" cy="785.6" r="2.1"/>
<circle cx="650.3" cy="743.2" r="2.1"/>
<circle cx="730.0" cy="753.7" r="2.1"/>
<circle cx="588.7" cy="682.4" r="2.1"/>
<circle cx="661.3" cy="687.6" r="2.1"/>
<circle cx="643.0" cy="743.9" r="2.1"/>
<circle cx="709.1" cy="762.2" r="2.1"/>
<circle cx="726.9" cy="693.6" r="2.1"/>
<circle cx="742.9" cy="728.2" r="2.1"/>
<circle cx="665.2" cy="693.3" r="2.1"/>
<circle cx="673.4" cy="710.3" r="2.1"/>
<circle cx="697.8" cy="708.4" r="2.1"/>
<circle cx="642.6" cy="677.6" r="2.1"/>
<circle cx="698.7" cy="758.5" r="2.1"/>
<circle cx="704.3" cy="735.2" r="2.1"/>
<circle cx="555.3" cy="669.1" r="2.1"/>
<circle cx="631.4" cy="732.5" r="2.1"/>
<circle cx="597.6" cy="791.6" r="2.1"/>
<circle cx="645.6" cy="733.5" r="2.1"/>
<circle cx="650.6" cy="707.2" r="2.1"/>
<circle cx="610.3" cy="685.5" r="2.1"/>
<circle cx="680.1" cy="685.5" r="2.1"/>
<circle cx="730.3" cy="690.6" r="2.1"/>
<circle cx="628.6" cy="705.2" r="2.1"/>
<circle cx="677.0" cy="755.7" r="2.1"/>
<circle cx="605.2" cy="722.1" r="2.1"/>
<circle cx="660.9" cy="761.4" r="2.1"/>
<circle cx="686.5" cy="700.9" r="2.1"/>
<circle cx="715.7" cy="696.1" r="2.1"/>
<circle cx="568.4" cy="652.4" r="2.1"/>
<circle cx="704.1" cy="745.5" r="2.1"/>
<circle cx="547.0" cy="711.7" r="2.1"/>
<circle cx="729.8" cy="714.1" r="2.1"/>
<circle cx="706.7" cy="775.0" r="2.1"/>
<circle cx="683.7" cy="748.5" r="2.1"/>
<circle cx="715.7" cy="724.6" r="2.1"/>
<circle cx="736.7" cy="725.5" r="2.1"/>
<circle cx="641.1" cy="708.4" r="2.1"/>
<circle cx="654.2" cy="736.4" r="2.1"/>
<circle cx="603.7" cy="663.4" r="2.1"/>
<circle cx="653.7" cy="767.4" r="2.1"/>
<circle cx="584.3" cy="696.8" r="2.1"/>
<circle cx="661.5" cy="771.3" r="2.1"/>
<circle cx="715.7" cy="727.1" r="2.1"/>
<circle cx="626.8" cy="713.1" r="2.1"/>
<circle cx="674.0" cy="712.6" r="2.1"/>
<circle cx="630.9" cy="700.9" r="2.1"/>
<circle cx="694.6" cy="774.3" r="2.1"/>
<circle cx="634.6" cy="716.3" r="2.1"/>
<circle cx="672.1" cy="783.8" r="2.1"/>
<circle cx="694.1" cy="732.9" r="2.1"/>
<circle cx="708.6" cy="757.4" r="2.1"/>
<circle cx="703.8" cy="714.0" r="2.1"/>
<circle cx="717.0" cy="747.4" r="2.1"/>
<circle cx="723.4" cy="746.8" r="2.1"/>
<circle cx="777.2" cy="738.5" r="2.1"/>
<circle cx="663.3" cy="717.5" r="2.1"/>
<circle cx="599.7" cy="720.2" r="2.1"/>
<circle cx="686.0" cy="759.9" r="2.1"/>
<circle cx="728.7" cy="725.4" r="2.1"/>
<circle cx="589.5" cy="722.9" r="2.1"/>
<circle cx="680.0" cy="687.3" r="2.1"/>
<circle cx="659.9" cy="686.2" r="2.1"/>
<circle cx="681.6" cy="671.8" r="2.1"/>
<circle cx="647.4" cy="739.4" r="2.1"/>
<circle cx="557.9" cy="646.1" r="2.1"/>
<circle cx="597.4" cy="697.4" r="2.1"/>
<circle cx="625.0" cy="734.7" r="2.1"/>
<circle cx="704.2" cy="683.7" r="2.1"/>
<circle cx="642.7" cy="783.4" r="2.1"/>
<circle cx="709.5" cy="692.6" r="2.1"/>
<circle cx="718.1" cy="717.2" r="2.1"/>
<circle cx="678.0" cy="725.9" r="2.1"/>
<circle cx="690.1" cy="752.3" r="2.1"/>
<circle cx="798.8" cy="722.2" r="2.1"/>
<circle cx="666.3" cy="798.7" r="2.1"/>
<circle cx="682.2" cy="702.5" r="2.1"/>
<circle cx="661.0" cy="752.5" r="2.1"/>
<circle cx="697.2" cy="713.5" r="2.1"/>
<circle cx="727.6" cy="701.2" r="2.1"/>
<circle cx="585.0" cy="673.3" r="2.1"/>
<circle cx="647.6" cy="707.0" r="2.1"/>
<circle cx="765.4" cy="741.4" r="2.1"/>
<circle cx="659.8" cy="644.2" r="2.1"/>
<circle cx="665.2" cy="706.1" r="2.1"/>
<circle cx="661.2" cy="748.0" r="2.1"/>
<circle cx="603.1" cy="717.2" r="2.1"/>
<circle cx="650.9" cy="672.4" r="2.1"/>
<circle cx="671.9" cy="703.1" r="2.1"/>
<circle cx="740.9" cy="732.7" r="2.1"/>
<circle cx="665.5" cy="735.2" r="2.1"/>
<circle cx="633.9" cy="713.9" r="2.1"/>
<circle cx="656.7" cy="719.7" r="2.1"/>
<circle cx="622.0" cy="671.2" r="2.1"/>
<circle cx="743.7" cy="712.8" r="2.1"/>
<circle cx="581.7" cy="626.3" r="2.1"/>
<circle cx="618.7" cy="752.0" r="2.1"/>
<circle cx="619.1" cy="701.9" r="2.1"/>
<circle cx="651.1" cy="733.8" r="2.1"/>
<circle cx="617.5" cy="720.2" r="2.1"/>
<circle cx="713.0" cy="686.6" r="2.1"/>
<circle cx="606.7" cy="721.2" r="2.1"/>
<circle cx="632.0" cy="773.6" r="2.1"/>
<circle cx="657.4" cy="754.9" r="2.1"/>
<circle cx="727.0" cy="742.2" r="2.1"/>
<circle cx="728.5" cy="684.6" r="2.1"/>
<circle cx="688.0" cy="710.4" r="2.1"/>
<circle cx="721.6" cy="700.2" r="2.1"/>
<circle cx="620.3" cy="662.3" r="2.1"/>
<circle cx="723.1" cy="737.2" r="2.1"/>
<circle cx="625.1" cy="698.1" r="2.1"/>
<circle cx="699.6" cy="782.4" r="2.1"/>
<circle cx="592.6" cy="708.2" r="2.1"/>
<circle cx="599.1" cy="698.5" r="2.1"/>
<circle cx="675.9" cy="764.8" r="2.1"/>
<circle cx="739.8" cy="718.3" r="2.1"/>
<circle cx="691.9" cy="755.0" r="2.1"/>
<circle cx="616.1" cy="688.3" r="2.1"/>
<circle cx="761.0" cy="759.8" r="2.1"/>
<circle cx="558.0" cy="663.2" r="2.1"/>
<circle cx="587.0" cy="765.2" r="2.1"/>
<circle cx="667.0" cy="724.4" r="2.1"/>
<circle cx="718.3" cy="748.6" r="2.1"/>
<circle cx="645.4" cy="669.8" r="2.1"/>
<circle cx="714.6" cy="702.1" r="2.1"/>
<circle cx="690.0" cy="781.5" r="2.1"/>
<circle cx="727.5" cy="700.5" r="2.1"/>
<circle cx="695.2" cy="777.3" r="2.1"/>
<circle cx="663.5" cy="815.7" r="2.1"/>
<circle cx="732.9" cy="718.4" r="2.1"/>
<circle cx="676.4" cy="670.6" r="2.1"/>
<circle cx="617.4" cy="800.6" r="2.1"/>
<circle cx="698.6" cy="740.6" r="2.1"/>
<circle cx="728.0" cy="749.6" r="2.1"/>
<circle cx="676.9" cy="720.8" r="2.1"/>
<circle cx="726.2" cy="710.8" r="2.1"/>
<circle cx="612.6" cy="708.2" r="2.1"/>
<circle cx="746.3" cy="706.5" r="2.1"/>
<circle cx="702.1" cy="731.4" r="2.1"/>
<circle cx="677.7" cy="691.4" r="2.1"/>
<circle cx="654.6" cy="743.9" r="2.1"/>
<circle cx="721.7" cy="722.4" r="2.1"/>
<circle cx="554.9" cy="703.3" r="2.1"/>
<circle cx="642.0" cy="786.8" r="2.1"/>
<circle cx="607.0" cy="673.9" r="2.1"/>
<circle cx="679.3" cy="718.2" r="2.1"/>
<circle cx="721.7" cy="699.1" r="2.1"/>
<circle cx="742.5" cy="689.5" r="2.1"/>
<circle cx="621.7" cy="686.6" r="2.1"/>
<circle cx="630.8" cy="719.6" r="2.1"/>
<circle cx="578.4" cy="667.8" r="2.1"/>
<circle cx="715.1" cy="672.8" r="2.1"/>
<circle cx="737.4" cy="771.6" r="2.1"/>
<circle cx="666.9" cy="733.6" r="2.1"/>
<circle cx="664.9" cy="691.6" r="2.1"/>
<circle cx="657.6" cy="729.6" r="2.1"/>
<circle cx="626.6" cy="704.1" r="2.1"/>
<circle cx="795.3" cy="705.7" r="2.1"/>
<circle cx="646.8" cy="809.6" r="2.1"/>
<circle cx="630.8" cy="694.1" r="2.1"/>
<circle cx="697.0" cy="687.6" r="2.1"/>
<circle cx="754.2" cy="699.4" r="2.1"/>
<circle cx="714.9" cy="708.3" r="2.1"/>
<circle cx="701.4" cy="745.0" r="2.1"/>
<circle cx="710.0" cy="734.1" r="2.1"/>
<circle cx="616.3" cy="697.7" r="2.1"/>
<circle cx="643.2" cy="706.1" r="2.1"/>
<circle cx="744.5" cy="681.8" r="2.1"/>
<circle cx="617.8" cy="737.2" r="2.1"/>
<circle cx="696.6" cy="717.2" r="2.1"/>
<circle cx="748.9" cy="700.5" r="2.1"/>
<circle cx="729.0" cy="688.4" r="2.1"/>
<circle cx="666.6" cy="760.2" r="2.1"/>
<circle cx="653.3" cy="709.0" r="2.1"/>
<circle cx="634.2" cy="668.4" r="2.1"/>
<circle cx="706.8" cy="809.2" r="2.1"/>
<circle cx="752.0" cy="728.9" r="2.1"/>
<circle cx="673.1" cy="770.8" r="2.1"/>
<circle cx="651.2" cy="701.8" r="2.1"/>
<circle cx="649.6" cy="713.6" r="2.1"/>
<circle cx="725.0" cy="709.6" r="2.1"/>
<circle cx="714.8" cy="739.7" r="2.1"/>
<circle cx="619.8" cy="770.7" r="2.1"/>
<circle cx="647.2" cy="676.9" r="2.1"/>
<circle cx="628.2" cy="686.3" r="2.1"/>
<circle cx="593.7" cy="730.6" r="2.1"/>
<circle cx="720.9" cy="725.4" r="2.1"/>
<circle cx="639.4" cy="736.9" r="2.1"/>
<circle cx="680.3" cy="720.3" r="2.1"/>
<circle cx="676.1" cy="729.4" r="2.1"/>
<circle cx="702.2" cy="679.0" r="2.1"/>
<circle cx="628.3" cy="715.1" r="2.1"/>
<circle cx="712.5" cy="800.6" r="2.1"/>
<circle cx="725.1" cy="716.0" r="2.1"/>
<circle cx="716.8" cy="722.5" r="2.1"/>
<circle cx="622.0" cy="693.4" r="2.1"/>
<circle cx="724.3" cy="732.2" r="2.1"/>
<circle cx="740.2" cy="708.4" r="2.1"/>
<circle cx="671.0" cy="695.7" r="2.1"/>
<circle cx="685.3" cy="680.4" r="2.1"/>
<circle cx="595.8" cy="666.5" r="2.1"/>
<circle cx="634.8" cy="771.6" r="2.1"/>
<circle cx="667.0" cy="758.5" r="2.1"/>
<circle cx="712.1" cy="767.9" r="2.1"/>
<circle cx="692.9" cy="678.1" r="2.1"/>
<circle cx="745.7" cy="708.9" r="2.1"/>
<circle cx="644.9" cy="698.1" r="2.1"/>
<circle cx="691.8" cy="674.7" r="2.1"/>
<circle cx="699.9" cy="678.6" r="2.1"/>
<circle cx="696.8" cy="745.1" r="2.1"/>
<circle cx="768.5" cy="765.6" r="2.1"/>
<circle cx="773.9" cy="728.7" r="2.1"/>
<circle cx="745.8" cy="742.8" r="2.1"/>
<circle cx="746.7" cy="727.0" r="2.1"/>
<circle cx="718.2" cy="668.1" r="2.1"/>
<circle cx="802.1" cy="793.4" r="2.1"/>
<circle cx="707.0" cy="770.9" r="2.1"/>
<circle cx="591.5" cy="776.8" r="2.1"/>
<circle cx="612.9" cy="744.2" r="2.1"/>
<circle cx="742.9" cy="699.6" r="2.1"/>
<circle cx="735.6" cy="764.4" r="2.1"/>
<circle cx="718.0" cy="764.5" r="2.1"/>
<circle cx="740.5" cy="721.5" r="2.1"/>
<circle cx="670.2" cy="672.3" r="2.1"/>
<circle cx="715.2" cy="665.0" r="2.1"/>
<circle cx="736.7" cy="716.8" r="2.1"/>
<circle cx="662.8" cy="724.8" r="2.1"/>
<circle cx="616.9" cy="737.3" r="2.1"/>
<circle cx="648.6" cy="682.0" r="2.1"/>
<circle cx="669.7" cy="754.5" r="2.1"/>
<circle cx="733.2" cy="751.5" r="2.1"/>
<circle cx="688.4" cy="736.5" r="2.1"/>
<circle cx="714.4" cy="711.3" r="2.1"/>
<circle cx="670.6" cy="783.2" r="2.1"/>
<circle cx="739.0" cy="716.4" r="2.1"/>
<circle cx="636.8" cy="689.7" r="2.1"/>
<circle cx="537.5" cy="612.5" r="2.1"/>
<circle cx="537.5" cy="631" r="2.1"/>
<circle cx="537.5" cy="651.5" r="2.1"/>
<circle cx="537.5" cy="672" r="2.1"/>
<circle cx="537.5" cy="689.5" r="2.1"/>
</g>
<line x1="135.7" y1="666.2" x2="478.5" y2="764.2" stroke="#e8483f" stroke-width="1.1"/>
<line x1="493.7" y1="682.5" x2="848" y2="744.2" stroke="#e8483f" stroke-width="1.1"/>
<line x1="135.8" y1="543.5" x2="135.8" y2="836.5" stroke="#9aa2b1" stroke-width="1.6"/>
<line x1="135" y1="836" x2="478.7" y2="836" stroke="#7f8794" stroke-width="1.6"/>
<line x1="493.7" y1="836.4" x2="848" y2="836.4" stroke="#c4c4c4" stroke-width="1.3"/>
<text x="114.5" y="578.4" font-size="27" text-anchor="end">11</text>
<text x="114.5" y="625.9" font-size="27" text-anchor="end">10</text>
<text x="114.5" y="669" font-size="27" text-anchor="end">9</text>
<text x="114.5" y="714" font-size="27" text-anchor="end">8</text>
<text x="114.5" y="757.5" font-size="27" text-anchor="end">7</text>
<text x="114.5" y="801.5" font-size="27" text-anchor="end">6</text>
<text x="114.5" y="844" font-size="27" text-anchor="end">5</text>
<text x="195.4" y="872" font-size="27" text-anchor="middle">6</text>
<text x="285" y="872" font-size="27" text-anchor="middle">8</text>
<text x="370.2" y="872" font-size="27" text-anchor="middle">10</text>
<text x="455.2" y="872" font-size="27" text-anchor="middle">12</text>
<text x="556" y="872" font-size="27" text-anchor="middle">6</text>
<text x="646" y="872" font-size="27" text-anchor="middle">8</text>
<text x="729.8" y="872" font-size="27" text-anchor="middle">10</text>
<text x="815.8" y="872" font-size="27" text-anchor="middle">12</text>
<text x="288.5" y="589.5" font-size="24.1">Pearson: - 0.437</text>
<text x="317.0" y="618.3" font-size="24.0">p=3.32e-93</text>
<text x="634.2" y="589.5" font-size="24.2">Pearson: - 0.26</text>
<text x="656.5" y="618.3" font-size="24.2">p=2.92e-32</text>
<text x="209.7" y="924.3" font-size="27.4"><tspan font-style="italic">CXCR4</tspan> mRNA</text>
<text x="166.88" y="956.7" font-size="27.45">expression (arb. units)</text>
<text x="567.2" y="924.3" font-size="27.4"><tspan font-style="italic">CXCL12</tspan> mRNA</text>
<text x="530.08" y="956.7" font-size="27.45">expression (arb. units)</text>
<text x="895.48" y="447" font-size="27.5" font-weight="bold">d</text>
<text x="1213.08" y="447.5" font-size="27.7">T-47D</text>
<line x1="1212" y1="450.3" x2="1288.7" y2="450.3" stroke="#000" stroke-width="1.7"/>
<text x="1122.32" y="497.5" font-size="20.7">p=0.01</text>
<text x="1202.32" y="497.5" font-size="21.2">p=0.02</text>
<path d="M1091.2 664.5 V505.3 H1264.8 V683.7 M1208 505.3 V523.8" fill="none" stroke="#000" stroke-width="3"/>
<path d="M1063.8 510.4 V804.5" fill="none" stroke="#000" stroke-width="3.3"/>
<line x1="1051.8" y1="803.2" x2="1411" y2="803.2" stroke="#000" stroke-width="3.4"/>
<line x1="1051.8" y1="511.8" x2="1064" y2="511.8" stroke="#000" stroke-width="3.1"/>
<text x="1041.3" y="525.3" font-size="27.6" text-anchor="end">1500</text>
<line x1="1051.8" y1="608.8" x2="1064" y2="608.8" stroke="#000" stroke-width="3.1"/>
<text x="1041.3" y="621.3" font-size="27.6" text-anchor="end">1000</text>
<line x1="1051.8" y1="705.8" x2="1064" y2="705.8" stroke="#000" stroke-width="3.1"/>
<text x="1041.3" y="716.2" font-size="27.6" text-anchor="end">500</text>
<text x="1041.3" y="812.8" font-size="27.6" text-anchor="end">0</text>
<text transform="translate(952.2,723.2) rotate(-90)" font-size="27.1">Invasive cells</text>
<path d="M1075.5 803 V771.5 H1109.5 V803" fill="none" stroke="#023f80" stroke-width="4.2"/>
<path d="M1133.2 803 V747.0 H1167.2 V803" fill="none" stroke="#023f80" stroke-width="4.2"/>
<path d="M1191.0 803 V661.2 H1225.0 V803" fill="none" stroke="#f74141" stroke-width="4.2"/>
<path d="M1248.5 803 V755.0 H1282.5 V803" fill="none" stroke="#f74141" stroke-width="4.2"/>
<path d="M1306.0 803 V710.2 H1340.0 V803" fill="none" stroke="#7f0241" stroke-width="4.2"/>
<path d="M1364.0 803 V705.0 H1398.0 V803" fill="none" stroke="#7f0241" stroke-width="4.2"/>
<g fill="#000">
<circle cx="1086.7" cy="724.2" r="6"/>
<circle cx="1098.2" cy="736.2" r="6"/>
<circle cx="1080" cy="788" r="6"/>
<circle cx="1092.5" cy="793" r="6"/>
<circle cx="1104.5" cy="803" r="6"/>
<circle cx="1150.5" cy="692.5" r="6"/>
<circle cx="1150.5" cy="722.5" r="6"/>
<circle cx="1150.5" cy="771.2" r="6"/>
<circle cx="1150.5" cy="794.2" r="6"/>
<rect x="1202.0" y="558.0" width="12" height="12"/>
<rect x="1202.0" y="616.3" width="12" height="12"/>
<rect x="1202.0" y="647.0" width="12" height="12"/>
<rect x="1202.0" y="675.2" width="12" height="12"/>
<rect x="1202.0" y="771.0" width="12" height="12"/>
<rect x="1248.2" y="714.5" width="12" height="12"/>
<rect x="1259.5" y="718.2" width="12" height="12"/>
<rect x="1271.5" y="727.0" width="12" height="12"/>
<rect x="1253.5" y="780.7" width="12" height="12"/>
<rect x="1265.2" y="792.2" width="12" height="12"/>
<path d="M1307.4 660.1 L1320.0 660.1 L1313.7 648.9 Z"/>
<path d="M1326.2 665.6 L1338.8 665.6 L1332.5 654.4 Z"/>
<path d="M1316.7 728.1 L1329.3 728.1 L1323.0 716.9 Z"/>
<path d="M1316.7 746.8 L1329.3 746.8 L1323.0 735.6 Z"/>
<path d="M1316.7 773.6 L1329.3 773.6 L1323.0 762.4 Z"/>
<path d="M1374.5 573.1 L1387.1 573.1 L1380.8 561.9 Z"/>
<path d="M1374.5 671.1 L1387.1 671.1 L1380.8 659.9 Z"/>
<path d="M1374.7 787.1 L1387.3 787.1 L1381.0 775.9 Z"/>
<path d="M1374.7 805.6 L1387.3 805.6 L1381.0 794.4 Z"/>
</g>
<line x1="1092.5" y1="752.5" x2="1092.5" y2="785" stroke="#023f80" stroke-width="2.9"/>
<line x1="1083.2" y1="752.5" x2="1101.8" y2="752.5" stroke="#023f80" stroke-width="2.9"/>
<line x1="1083.2" y1="785" x2="1101.8" y2="785" stroke="#023f80" stroke-width="2.9"/>
<line x1="1150.2" y1="721.7" x2="1150.2" y2="768" stroke="#023f80" stroke-width="2.9"/>
<line x1="1140.9" y1="721.7" x2="1159.5" y2="721.7" stroke="#023f80" stroke-width="2.9"/>
<line x1="1140.9" y1="768" x2="1159.5" y2="768" stroke="#023f80" stroke-width="2.9"/>
<line x1="1208" y1="624.3" x2="1208" y2="694.3" stroke="#f74141" stroke-width="2.9"/>
<line x1="1198.7" y1="624.3" x2="1217.3" y2="624.3" stroke="#f74141" stroke-width="2.9"/>
<line x1="1198.7" y1="694.3" x2="1217.3" y2="694.3" stroke="#f74141" stroke-width="2.9"/>
<line x1="1265.5" y1="736.3" x2="1265.5" y2="770" stroke="#f74141" stroke-width="2.9"/>
<line x1="1256.2" y1="736.3" x2="1274.8" y2="736.3" stroke="#f74141" stroke-width="2.9"/>
<line x1="1256.2" y1="770" x2="1274.8" y2="770" stroke="#f74141" stroke-width="2.9"/>
<line x1="1323" y1="686.2" x2="1323" y2="730" stroke="#7f0241" stroke-width="2.9"/>
<line x1="1313.7" y1="686.2" x2="1332.3" y2="686.2" stroke="#7f0241" stroke-width="2.9"/>
<line x1="1313.7" y1="730" x2="1332.3" y2="730" stroke="#7f0241" stroke-width="2.9"/>
<line x1="1381" y1="648.2" x2="1381" y2="758" stroke="#7f0241" stroke-width="2.9"/>
<line x1="1371.7" y1="648.2" x2="1390.3" y2="648.2" stroke="#7f0241" stroke-width="2.9"/>
<line x1="1371.7" y1="758" x2="1390.3" y2="758" stroke="#7f0241" stroke-width="2.9"/>
<line x1="1051.8" y1="803.2" x2="1411" y2="803.2" stroke="#000" stroke-width="3.4"/>
<g fill="#000">
<circle cx="1104.5" cy="803" r="6"/>
<rect x="1265.2" y="792.2" width="12" height="12"/>
</g>
<text x="928.58" y="856.8" font-size="27.35">AMD3100</text>
<text x="1091.7" y="852.6" font-size="27.2" text-anchor="middle">-</text>
<text x="1148" y="855.3" font-size="27.2" text-anchor="middle">+</text>
<text x="1205.3" y="852.6" font-size="27.2" text-anchor="middle">-</text>
<text x="1260.8" y="855.3" font-size="27.2" text-anchor="middle">+</text>
<text x="1318" y="852.6" font-size="27.2" text-anchor="middle">-</text>
<text x="1374" y="855.3" font-size="27.2" text-anchor="middle">+</text>
<rect x="993" y="907.5" width="27.6" height="25" fill="#023f80"/>
<text x="1027.45" y="928" font-size="27.8">SCR</text>
<rect x="1110" y="907.5" width="27.6" height="25" fill="#f74141"/>
<text x="1143.45" y="927.2" font-size="27.8">FAAH KO</text>
<rect x="1295.5" y="907.5" width="27.6" height="25" fill="#7f0241"/>
<text x="1327.75" y="927.2" font-size="27.8">Rescue</text>
<text x="1465.2" y="447" font-size="27.5" font-weight="bold">e</text>
<text x="1714.75" y="447.5" font-size="27.6">MDA-MB-231</text>
<line x1="1716" y1="450.3" x2="1882.5" y2="450.3" stroke="#000" stroke-width="1.7"/>
<text x="1667.32" y="508.5" font-size="20.95">p=0.01</text>
<text x="1746.12" y="508.5" font-size="21.1">p=0.002</text>
<path d="M1680 621.7 V517 H1791.2 V728 M1736.6 517 V526.8" fill="none" stroke="#000" stroke-width="2.8"/>
<path d="M1653.6 522.4 V803.8" fill="none" stroke="#000" stroke-width="3"/>
<line x1="1641.3" y1="523.8" x2="1654" y2="523.8" stroke="#000" stroke-width="3"/>
<text x="1630.5" y="535.4" font-size="27.6" text-anchor="end">400</text>
<line x1="1641.3" y1="593.3" x2="1654" y2="593.3" stroke="#000" stroke-width="3"/>
<text x="1630.5" y="603.3" font-size="27.6" text-anchor="end">300</text>
<line x1="1641.3" y1="663" x2="1654" y2="663" stroke="#000" stroke-width="3"/>
<text x="1630.5" y="673.6" font-size="27.6" text-anchor="end">200</text>
<line x1="1641.3" y1="732.6" x2="1654" y2="732.6" stroke="#000" stroke-width="3"/>
<text x="1630.5" y="741.2" font-size="27.6" text-anchor="end">100</text>
<text x="1630.5" y="811.5" font-size="27.6" text-anchor="end">0</text>
<text transform="translate(1545,722.8) rotate(-90)" font-size="27.1">Invasive cells</text>
<path d="M1663.9 802.3 V720.0 H1696.7 V802.3" fill="none" stroke="#f74141" stroke-width="4.2"/>
<path d="M1719.2 802.3 V667.5 H1752.0 V802.3" fill="none" stroke="#f74141" stroke-width="4.2"/>
<path d="M1774.5 802.3 V767.7 H1807.3 V802.3" fill="none" stroke="#f74141" stroke-width="4.2"/>
<path d="M1829.6 802.3 V729.5 H1862.4 V802.3" fill="none" stroke="#023f80" stroke-width="4.2"/>
<path d="M1885.1 802.3 V708.7 H1917.9 V802.3" fill="none" stroke="#023f80" stroke-width="4.2"/>
<path d="M1940.3 802.3 V750.2 H1973.1 V802.3" fill="none" stroke="#023f80" stroke-width="4.2"/>
<g fill="#000">
<circle cx="1680" cy="621.7" r="6"/>
<circle cx="1680.5" cy="694.5" r="6"/>
<circle cx="1674.5" cy="728.7" r="6"/>
<circle cx="1686.2" cy="733" r="6"/>
<circle cx="1668.2" cy="744.2" r="6"/>
<circle cx="1680.5" cy="750.5" r="6"/>
<circle cx="1692" cy="753.7" r="6"/>
<circle cx="1735.5" cy="548.7" r="6"/>
<circle cx="1735.5" cy="591.2" r="6"/>
<circle cx="1735.7" cy="625.2" r="6"/>
<circle cx="1723.7" cy="715" r="6"/>
<circle cx="1731.2" cy="722" r="6"/>
<circle cx="1739.5" cy="723.2" r="6"/>
<circle cx="1747" cy="729.5" r="6"/>
<circle cx="1779.2" cy="759.2" r="6"/>
<circle cx="1786.7" cy="762.5" r="6"/>
<circle cx="1794.5" cy="770.7" r="6"/>
<circle cx="1802.5" cy="772" r="6"/>
<rect x="1840.2" y="662.0" width="12" height="12"/>
<rect x="1828.5" y="709.7" width="12" height="12"/>
<rect x="1851.5" y="706.0" width="12" height="12"/>
<rect x="1840.2" y="716.0" width="12" height="12"/>
<rect x="1840.2" y="744.0" width="12" height="12"/>
<rect x="1834.0" y="751.5" width="12" height="12"/>
<rect x="1845.7" y="762.7" width="12" height="12"/>
<rect x="1901.0" y="629.7" width="12" height="12"/>
<rect x="1889.5" y="643.2" width="12" height="12"/>
<rect x="1895.2" y="660.7" width="12" height="12"/>
<rect x="1895.2" y="712.0" width="12" height="12"/>
<rect x="1884.0" y="745.2" width="12" height="12"/>
<rect x="1895.2" y="754.0" width="12" height="12"/>
<rect x="1906.5" y="757.7" width="12" height="12"/>
<rect x="1941.5" y="717.0" width="12" height="12"/>
<rect x="1959.7" y="724.7" width="12" height="12"/>
<rect x="1941.5" y="757.7" width="12" height="12"/>
<rect x="1959.7" y="769.7" width="12" height="12"/>
</g>
<line x1="1680.3" y1="700.5" x2="1680.3" y2="735.5" stroke="#f74141" stroke-width="2.9"/>
<line x1="1671.3" y1="700.5" x2="1689.3" y2="700.5" stroke="#f74141" stroke-width="2.9"/>
<line x1="1671.3" y1="735.5" x2="1689.3" y2="735.5" stroke="#f74141" stroke-width="2.9"/>
<line x1="1735.6" y1="637" x2="1735.6" y2="693.7" stroke="#f74141" stroke-width="2.9"/>
<line x1="1726.6" y1="637" x2="1744.6" y2="637" stroke="#f74141" stroke-width="2.9"/>
<line x1="1726.6" y1="693.7" x2="1744.6" y2="693.7" stroke="#f74141" stroke-width="2.9"/>
<line x1="1790.9" y1="763.2" x2="1790.9" y2="769.6" stroke="#f74141" stroke-width="2.9"/>
<line x1="1781.9" y1="763.2" x2="1799.9" y2="763.2" stroke="#f74141" stroke-width="2.9"/>
<line x1="1781.9" y1="769.6" x2="1799.9" y2="769.6" stroke="#f74141" stroke-width="2.9"/>
<line x1="1846" y1="715" x2="1846" y2="740.5" stroke="#023f80" stroke-width="2.9"/>
<line x1="1837" y1="715" x2="1855" y2="715" stroke="#023f80" stroke-width="2.9"/>
<line x1="1837" y1="740.5" x2="1855" y2="740.5" stroke="#023f80" stroke-width="2.9"/>
<line x1="1901.5" y1="686.3" x2="1901.5" y2="727" stroke="#023f80" stroke-width="2.9"/>
<line x1="1892.5" y1="686.3" x2="1910.5" y2="686.3" stroke="#023f80" stroke-width="2.9"/>
<line x1="1892.5" y1="727" x2="1910.5" y2="727" stroke="#023f80" stroke-width="2.9"/>
<line x1="1956.7" y1="735.7" x2="1956.7" y2="760" stroke="#023f80" stroke-width="2.9"/>
<line x1="1947.7" y1="735.7" x2="1965.7" y2="735.7" stroke="#023f80" stroke-width="2.9"/>
<line x1="1947.7" y1="760" x2="1965.7" y2="760" stroke="#023f80" stroke-width="2.9"/>
<line x1="1641.3" y1="802.4" x2="1986" y2="802.4" stroke="#000" stroke-width="3.2"/>
<text x="1516.12" y="858" font-size="27.45">CXCL12</text>
<text x="1498.58" y="893" font-size="27.1">AMD3100</text>
<text x="1671.7" y="855" font-size="27.2" text-anchor="middle">-</text>
<text x="1723.7" y="854.5" font-size="27.2" text-anchor="middle">+</text>
<text x="1781.7" y="856.3" font-size="27.2" text-anchor="middle">+</text>
<text x="1834.5" y="855" font-size="27.2" text-anchor="middle">-</text>
<text x="1893.7" y="853.8" font-size="27.2" text-anchor="middle">+</text>
<text x="1953.2" y="855.5" font-size="27.2" text-anchor="middle">+</text>
<text x="1671.7" y="889.2" font-size="27.2" text-anchor="middle">-</text>
<text x="1724.2" y="889.2" font-size="27.2" text-anchor="middle">-</text>
<text x="1781.7" y="890" font-size="27.2" text-anchor="middle">+</text>
<text x="1834.5" y="889.2" font-size="27.2" text-anchor="middle">-</text>
<text x="1895" y="889.2" font-size="27.2" text-anchor="middle">-</text>
<text x="1953.2" y="890" font-size="27.2" text-anchor="middle">+</text>
<rect x="1689.2" y="918.7" width="25.4" height="25" fill="#f74141"/>
<text x="1723.5" y="938" font-size="27.8">Ø</text>
<rect x="1783.2" y="918.7" width="25.6" height="25" fill="#023f80"/>
<text x="1819.75" y="938" font-size="28.0">FAAH</text>
</svg>
</body></html>
